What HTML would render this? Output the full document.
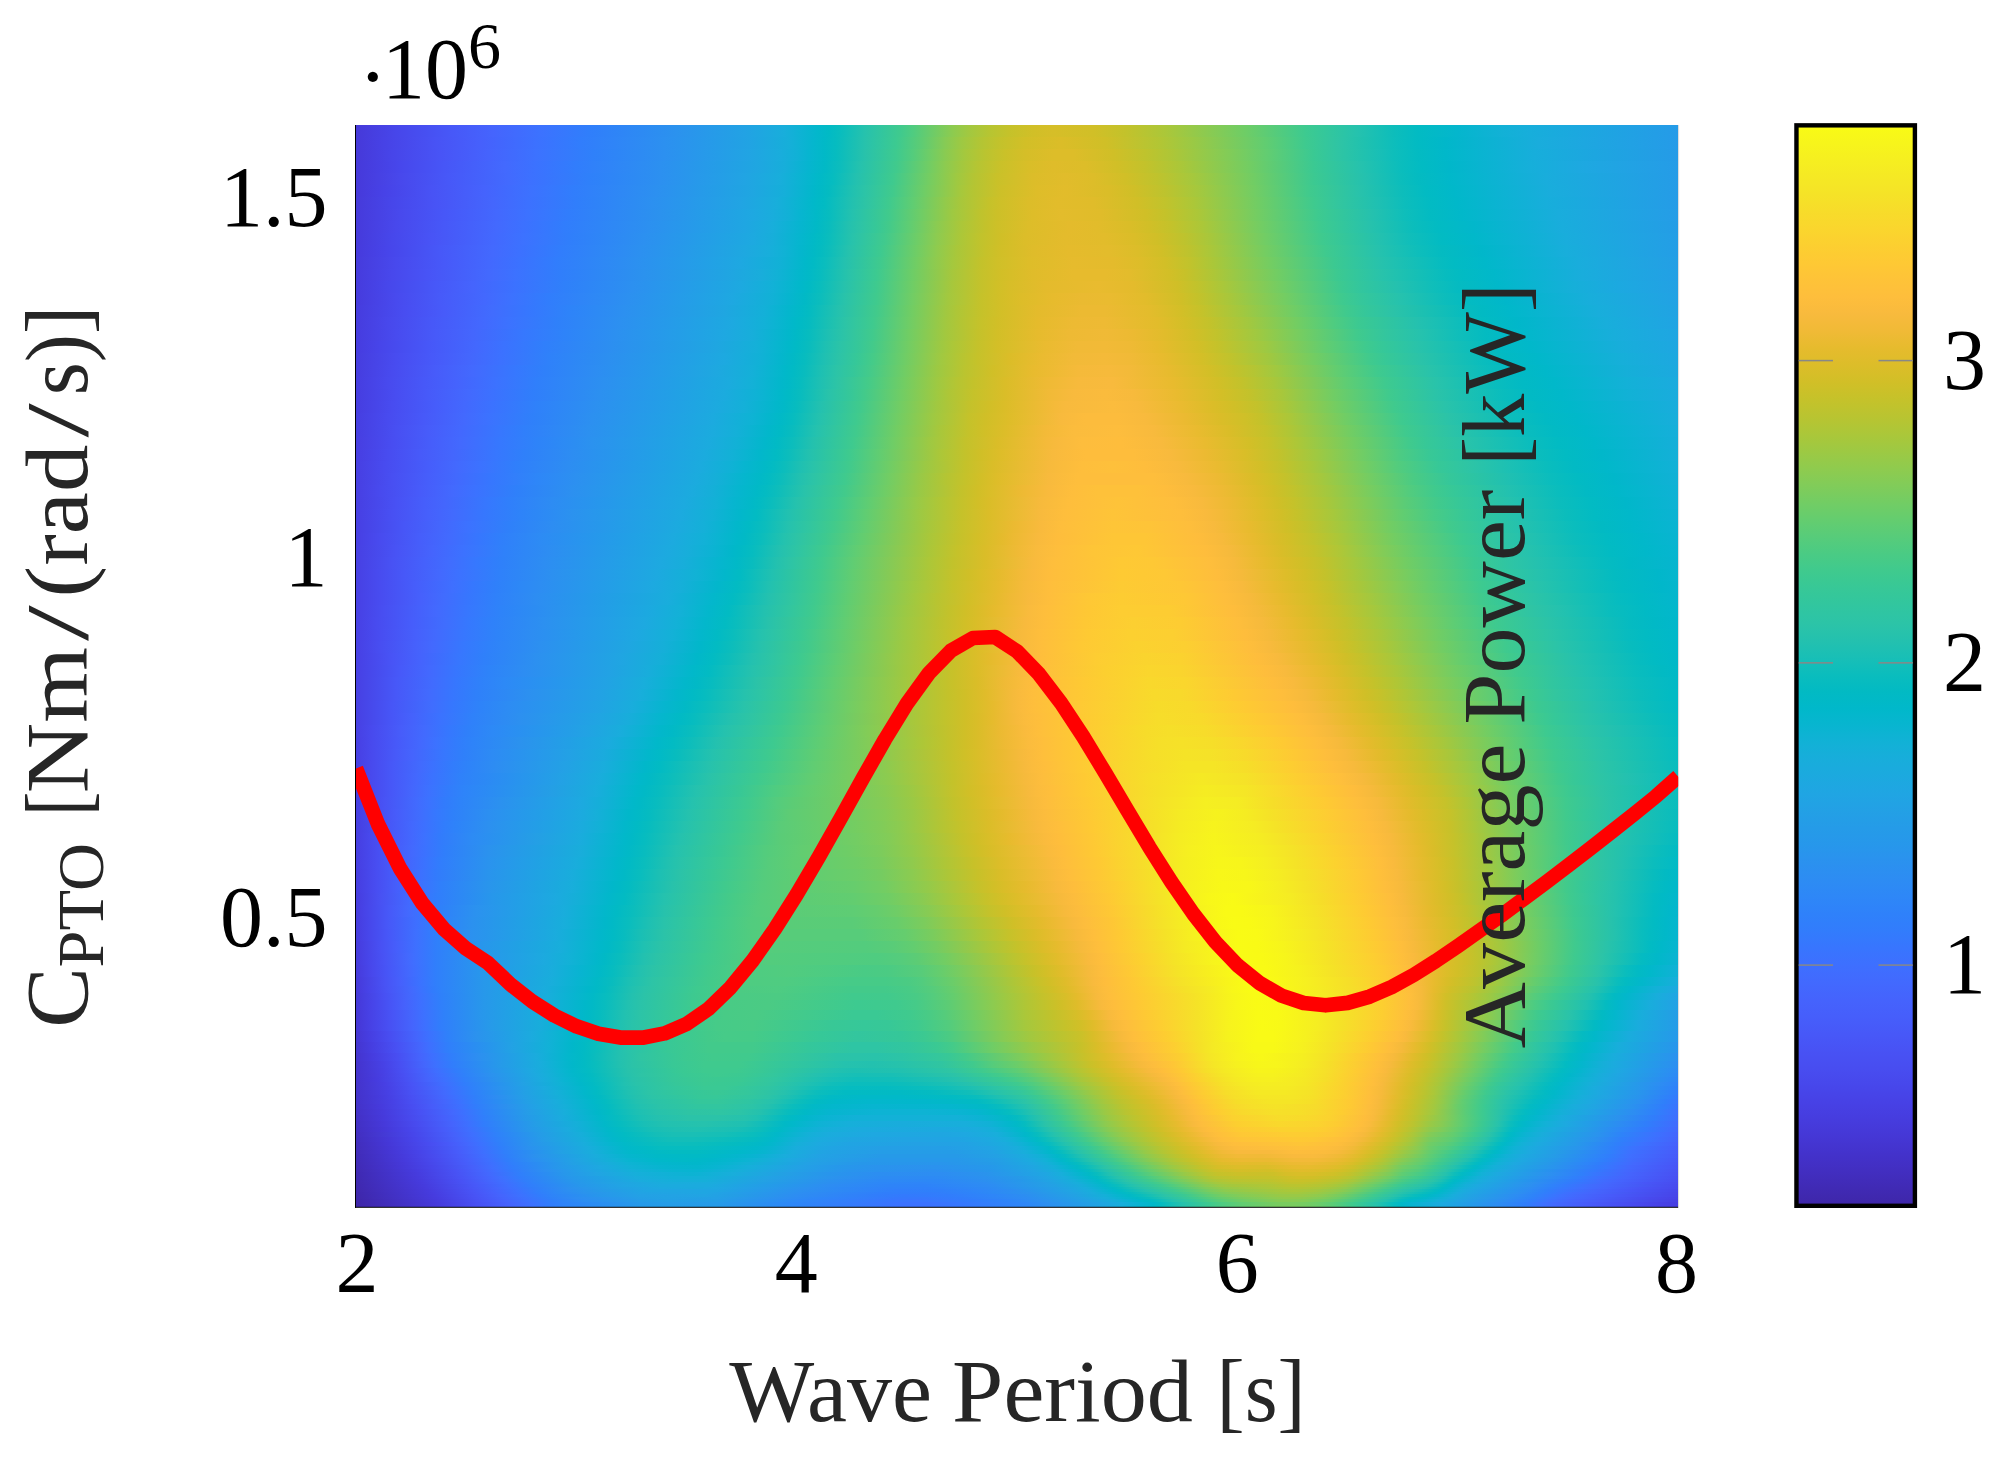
<!DOCTYPE html>
<html><head><meta charset="utf-8"><title>Average Power</title>
<style>html,body{margin:0;padding:0;background:#fff}svg{display:block}</style></head>
<body>
<svg width="2004" height="1460" viewBox="0 0 2004 1460">
<defs><linearGradient id="r0"><stop offset="0" stop-color="#4639d9"/><stop offset="0.0303" stop-color="#4746ea"/><stop offset="0.0727" stop-color="#4758f8"/><stop offset="0.103" stop-color="#4564fd"/><stop offset="0.1394" stop-color="#3c72ff"/><stop offset="0.1758" stop-color="#307efb"/><stop offset="0.2424" stop-color="#2b92ee"/><stop offset="0.2939" stop-color="#22a2e4"/><stop offset="0.3242" stop-color="#18aedb"/><stop offset="0.3485" stop-color="#03b7cc"/><stop offset="0.3576" stop-color="#01bac5"/><stop offset="0.3667" stop-color="#09bdbe"/><stop offset="0.3848" stop-color="#26c2ad"/><stop offset="0.4121" stop-color="#40ca8d"/><stop offset="0.4212" stop-color="#4fcc80"/><stop offset="0.4515" stop-color="#8dcb4f"/><stop offset="0.4636" stop-color="#a2c840"/><stop offset="0.4788" stop-color="#b6c532"/><stop offset="0.4939" stop-color="#c5c22a"/><stop offset="0.5121" stop-color="#d1bf27"/><stop offset="0.5273" stop-color="#d6be28"/><stop offset="0.5576" stop-color="#d1bf27"/><stop offset="0.5818" stop-color="#c3c22b"/><stop offset="0.6121" stop-color="#abc739"/><stop offset="0.6727" stop-color="#6ecd66"/><stop offset="0.7182" stop-color="#3dca90"/><stop offset="0.7576" stop-color="#25c2ae"/><stop offset="0.7848" stop-color="#0dbdbb"/><stop offset="0.803" stop-color="#02bbc3"/><stop offset="0.8333" stop-color="#04b6cd"/><stop offset="0.8667" stop-color="#12b1d6"/><stop offset="0.8879" stop-color="#17aedb"/><stop offset="1" stop-color="#259be8"/></linearGradient><linearGradient id="r1"><stop offset="0" stop-color="#4639d9"/><stop offset="0.0212" stop-color="#4742e6"/><stop offset="0.0606" stop-color="#4853f5"/><stop offset="0.0939" stop-color="#4660fc"/><stop offset="0.1364" stop-color="#3c71ff"/><stop offset="0.1697" stop-color="#317dfc"/><stop offset="0.2333" stop-color="#2c90f0"/><stop offset="0.297" stop-color="#21a3e3"/><stop offset="0.3273" stop-color="#16afd9"/><stop offset="0.3455" stop-color="#05b6ce"/><stop offset="0.3545" stop-color="#01b9c7"/><stop offset="0.3636" stop-color="#06bcc0"/><stop offset="0.3848" stop-color="#27c2ac"/><stop offset="0.4091" stop-color="#3dca90"/><stop offset="0.4273" stop-color="#5dcc74"/><stop offset="0.4455" stop-color="#86cb55"/><stop offset="0.4576" stop-color="#9dc943"/><stop offset="0.4727" stop-color="#b3c534"/><stop offset="0.4879" stop-color="#c4c22b"/><stop offset="0.5061" stop-color="#d2bf27"/><stop offset="0.5333" stop-color="#dbbd28"/><stop offset="0.5667" stop-color="#d0bf27"/><stop offset="0.6091" stop-color="#b1c635"/><stop offset="0.6333" stop-color="#9ac945"/><stop offset="0.6879" stop-color="#61cd71"/><stop offset="0.7182" stop-color="#3eca8f"/><stop offset="0.7455" stop-color="#2dc4a6"/><stop offset="0.7879" stop-color="#0bbdbd"/><stop offset="0.803" stop-color="#02bbc3"/><stop offset="0.8242" stop-color="#01b7ca"/><stop offset="0.8939" stop-color="#19addc"/><stop offset="1" stop-color="#259be8"/></linearGradient><linearGradient id="r2"><stop offset="0" stop-color="#4639d9"/><stop offset="0.0273" stop-color="#4745e9"/><stop offset="0.0636" stop-color="#4854f6"/><stop offset="0.1" stop-color="#4563fd"/><stop offset="0.1364" stop-color="#3c72ff"/><stop offset="0.1788" stop-color="#2f80fa"/><stop offset="0.2333" stop-color="#2c90f0"/><stop offset="0.297" stop-color="#21a4e3"/><stop offset="0.3212" stop-color="#19addc"/><stop offset="0.3333" stop-color="#11b1d6"/><stop offset="0.3424" stop-color="#07b5d0"/><stop offset="0.3545" stop-color="#01b9c7"/><stop offset="0.3636" stop-color="#07bcbf"/><stop offset="0.3848" stop-color="#28c2ab"/><stop offset="0.4091" stop-color="#3fca8e"/><stop offset="0.4212" stop-color="#54cc7c"/><stop offset="0.4333" stop-color="#6ecd67"/><stop offset="0.4455" stop-color="#89cb52"/><stop offset="0.4606" stop-color="#a5c83d"/><stop offset="0.4758" stop-color="#bac430"/><stop offset="0.4909" stop-color="#cac129"/><stop offset="0.5061" stop-color="#d5be28"/><stop offset="0.5273" stop-color="#ddbd29"/><stop offset="0.5424" stop-color="#ddbd29"/><stop offset="0.5727" stop-color="#d0bf27"/><stop offset="0.597" stop-color="#bfc32d"/><stop offset="0.6152" stop-color="#afc636"/><stop offset="0.6606" stop-color="#81cc58"/><stop offset="0.6909" stop-color="#60cd73"/><stop offset="0.7242" stop-color="#3ac993"/><stop offset="0.7424" stop-color="#2fc5a3"/><stop offset="0.7758" stop-color="#17bfb7"/><stop offset="0.7848" stop-color="#0ebebb"/><stop offset="0.803" stop-color="#03bbc2"/><stop offset="0.8242" stop-color="#01b8ca"/><stop offset="0.8909" stop-color="#17aedb"/><stop offset="1" stop-color="#259be7"/></linearGradient><linearGradient id="r3"><stop offset="0" stop-color="#4639da"/><stop offset="0.0333" stop-color="#4747ec"/><stop offset="0.0667" stop-color="#4756f7"/><stop offset="0.1121" stop-color="#4369fe"/><stop offset="0.1364" stop-color="#3b72ff"/><stop offset="0.1667" stop-color="#317dfc"/><stop offset="0.2303" stop-color="#2c90f0"/><stop offset="0.303" stop-color="#1fa6e1"/><stop offset="0.3242" stop-color="#17aeda"/><stop offset="0.3424" stop-color="#06b5cf"/><stop offset="0.3545" stop-color="#01b9c6"/><stop offset="0.3667" stop-color="#0dbdbc"/><stop offset="0.3818" stop-color="#26c2ad"/><stop offset="0.4091" stop-color="#41ca8c"/><stop offset="0.4333" stop-color="#71cd64"/><stop offset="0.4455" stop-color="#8ccb50"/><stop offset="0.4576" stop-color="#a2c83f"/><stop offset="0.4697" stop-color="#b5c533"/><stop offset="0.4879" stop-color="#cac129"/><stop offset="0.5091" stop-color="#d9be28"/><stop offset="0.5273" stop-color="#dfbc2a"/><stop offset="0.5515" stop-color="#ddbd29"/><stop offset="0.5758" stop-color="#d1bf27"/><stop offset="0.597" stop-color="#c3c22b"/><stop offset="0.6242" stop-color="#aac739"/><stop offset="0.6758" stop-color="#72cd63"/><stop offset="0.7242" stop-color="#3bc992"/><stop offset="0.7606" stop-color="#25c2ae"/><stop offset="0.7909" stop-color="#0abdbd"/><stop offset="0.8061" stop-color="#02bbc3"/><stop offset="0.8273" stop-color="#01b7ca"/><stop offset="0.8879" stop-color="#16afda"/><stop offset="0.9303" stop-color="#1ea8e1"/><stop offset="1" stop-color="#259ce7"/></linearGradient><linearGradient id="r4"><stop offset="0" stop-color="#4639da"/><stop offset="0.0333" stop-color="#4848ec"/><stop offset="0.0697" stop-color="#4758f8"/><stop offset="0.1152" stop-color="#426afe"/><stop offset="0.1333" stop-color="#3c71ff"/><stop offset="0.1758" stop-color="#2f80fa"/><stop offset="0.2303" stop-color="#2c90f0"/><stop offset="0.2939" stop-color="#21a4e3"/><stop offset="0.3212" stop-color="#18aedb"/><stop offset="0.3455" stop-color="#03b7cc"/><stop offset="0.3515" stop-color="#01b9c7"/><stop offset="0.3606" stop-color="#06bcc0"/><stop offset="0.3788" stop-color="#24c1af"/><stop offset="0.4061" stop-color="#3fca8e"/><stop offset="0.4333" stop-color="#74cd62"/><stop offset="0.4545" stop-color="#9fc941"/><stop offset="0.4667" stop-color="#b3c534"/><stop offset="0.4848" stop-color="#c9c129"/><stop offset="0.5121" stop-color="#dcbd29"/><stop offset="0.5364" stop-color="#e1bc2b"/><stop offset="0.5576" stop-color="#ddbd29"/><stop offset="0.5818" stop-color="#d1bf27"/><stop offset="0.6061" stop-color="#bfc32d"/><stop offset="0.6333" stop-color="#a5c83d"/><stop offset="0.6788" stop-color="#71cd64"/><stop offset="0.7242" stop-color="#3cc991"/><stop offset="0.7636" stop-color="#24c1af"/><stop offset="0.7909" stop-color="#0bbdbc"/><stop offset="0.803" stop-color="#04bbc1"/><stop offset="0.8273" stop-color="#01b8ca"/><stop offset="0.9" stop-color="#19addc"/><stop offset="1" stop-color="#259ce7"/></linearGradient><linearGradient id="r5"><stop offset="0" stop-color="#4639da"/><stop offset="0.0212" stop-color="#4742e7"/><stop offset="0.0576" stop-color="#4853f5"/><stop offset="0.097" stop-color="#4563fd"/><stop offset="0.1333" stop-color="#3c72ff"/><stop offset="0.1636" stop-color="#317dfc"/><stop offset="0.2273" stop-color="#2c90f0"/><stop offset="0.3" stop-color="#1fa6e1"/><stop offset="0.3242" stop-color="#15afd9"/><stop offset="0.3455" stop-color="#02b7cb"/><stop offset="0.3515" stop-color="#01b9c6"/><stop offset="0.3576" stop-color="#04bbc1"/><stop offset="0.3758" stop-color="#21c1b0"/><stop offset="0.3848" stop-color="#2cc4a7"/><stop offset="0.4061" stop-color="#41ca8c"/><stop offset="0.4303" stop-color="#70cd65"/><stop offset="0.4576" stop-color="#a6c83c"/><stop offset="0.4667" stop-color="#b4c533"/><stop offset="0.4879" stop-color="#cdc028"/><stop offset="0.5152" stop-color="#debd29"/><stop offset="0.5364" stop-color="#e2bc2b"/><stop offset="0.5697" stop-color="#dabd28"/><stop offset="0.5879" stop-color="#d0bf27"/><stop offset="0.6121" stop-color="#bdc32e"/><stop offset="0.6364" stop-color="#a5c83d"/><stop offset="0.6788" stop-color="#73cd63"/><stop offset="0.7212" stop-color="#40ca8d"/><stop offset="0.7606" stop-color="#27c2ac"/><stop offset="0.7909" stop-color="#0dbdbb"/><stop offset="0.8091" stop-color="#02bbc3"/><stop offset="0.8303" stop-color="#01b8ca"/><stop offset="0.903" stop-color="#19addc"/><stop offset="1" stop-color="#259ce7"/></linearGradient><linearGradient id="r6"><stop offset="0" stop-color="#463ada"/><stop offset="0.0273" stop-color="#4746ea"/><stop offset="0.0606" stop-color="#4854f6"/><stop offset="0.103" stop-color="#4466fd"/><stop offset="0.1303" stop-color="#3c71ff"/><stop offset="0.1667" stop-color="#307efb"/><stop offset="0.2242" stop-color="#2c90f0"/><stop offset="0.2909" stop-color="#21a4e3"/><stop offset="0.3182" stop-color="#18aedb"/><stop offset="0.3455" stop-color="#01b8ca"/><stop offset="0.3515" stop-color="#01bac5"/><stop offset="0.3545" stop-color="#02bbc3"/><stop offset="0.3758" stop-color="#23c1af"/><stop offset="0.3879" stop-color="#30c5a2"/><stop offset="0.403" stop-color="#3fca8e"/><stop offset="0.4212" stop-color="#60cd72"/><stop offset="0.4455" stop-color="#92ca4b"/><stop offset="0.4576" stop-color="#a8c73b"/><stop offset="0.4788" stop-color="#c5c22a"/><stop offset="0.4879" stop-color="#cec028"/><stop offset="0.5091" stop-color="#dcbd29"/><stop offset="0.5303" stop-color="#e2bc2b"/><stop offset="0.5576" stop-color="#e0bc2a"/><stop offset="0.5909" stop-color="#d1bf27"/><stop offset="0.6121" stop-color="#c1c32c"/><stop offset="0.6333" stop-color="#acc738"/><stop offset="0.6818" stop-color="#71cd64"/><stop offset="0.7242" stop-color="#3fca8e"/><stop offset="0.7424" stop-color="#33c69e"/><stop offset="0.7727" stop-color="#1fc0b2"/><stop offset="0.7939" stop-color="#0cbdbc"/><stop offset="0.8121" stop-color="#02bbc3"/><stop offset="0.8333" stop-color="#01b8ca"/><stop offset="0.9" stop-color="#17aedb"/><stop offset="1" stop-color="#259ce7"/></linearGradient><linearGradient id="r7"><stop offset="0" stop-color="#463adb"/><stop offset="0.0333" stop-color="#4849ed"/><stop offset="0.0667" stop-color="#4757f8"/><stop offset="0.1061" stop-color="#4368fe"/><stop offset="0.1303" stop-color="#3c72ff"/><stop offset="0.1606" stop-color="#317dfc"/><stop offset="0.2303" stop-color="#2b92ee"/><stop offset="0.3" stop-color="#1ea8e1"/><stop offset="0.3152" stop-color="#19addc"/><stop offset="0.3273" stop-color="#11b1d6"/><stop offset="0.3364" stop-color="#07b5d0"/><stop offset="0.3485" stop-color="#01b9c7"/><stop offset="0.3576" stop-color="#07bcbf"/><stop offset="0.3758" stop-color="#25c2ae"/><stop offset="0.403" stop-color="#41ca8c"/><stop offset="0.4273" stop-color="#6fcd66"/><stop offset="0.4515" stop-color="#9fc941"/><stop offset="0.4727" stop-color="#bfc32d"/><stop offset="0.4848" stop-color="#ccc028"/><stop offset="0.5121" stop-color="#debd29"/><stop offset="0.5333" stop-color="#e3bc2c"/><stop offset="0.5636" stop-color="#e0bc2a"/><stop offset="0.597" stop-color="#d0bf27"/><stop offset="0.6121" stop-color="#c4c22a"/><stop offset="0.6364" stop-color="#acc738"/><stop offset="0.6818" stop-color="#73cd63"/><stop offset="0.7273" stop-color="#3eca8f"/><stop offset="0.7697" stop-color="#24c1af"/><stop offset="0.7939" stop-color="#0ebebb"/><stop offset="0.8121" stop-color="#03bbc2"/><stop offset="0.8364" stop-color="#01b8ca"/><stop offset="0.9091" stop-color="#19addc"/><stop offset="1" stop-color="#259de7"/></linearGradient><linearGradient id="r8"><stop offset="0" stop-color="#463adb"/><stop offset="0.0303" stop-color="#4848ec"/><stop offset="0.0667" stop-color="#4758f8"/><stop offset="0.1061" stop-color="#4369fe"/><stop offset="0.1273" stop-color="#3c71ff"/><stop offset="0.1576" stop-color="#317dfc"/><stop offset="0.2212" stop-color="#2c90f0"/><stop offset="0.2939" stop-color="#1fa6e2"/><stop offset="0.3152" stop-color="#18aedb"/><stop offset="0.3364" stop-color="#06b5cf"/><stop offset="0.3485" stop-color="#01b9c6"/><stop offset="0.3576" stop-color="#09bcbe"/><stop offset="0.3727" stop-color="#23c1af"/><stop offset="0.3818" stop-color="#2dc4a6"/><stop offset="0.3939" stop-color="#37c897"/><stop offset="0.403" stop-color="#43ca8a"/><stop offset="0.4182" stop-color="#5fcd73"/><stop offset="0.4394" stop-color="#8bcb51"/><stop offset="0.4576" stop-color="#abc739"/><stop offset="0.4758" stop-color="#c3c22b"/><stop offset="0.4848" stop-color="#cdc028"/><stop offset="0.5091" stop-color="#ddbd29"/><stop offset="0.5394" stop-color="#e4bb2c"/><stop offset="0.5606" stop-color="#e2bc2b"/><stop offset="0.5848" stop-color="#dabd28"/><stop offset="0.6" stop-color="#d1bf27"/><stop offset="0.6152" stop-color="#c5c22a"/><stop offset="0.6394" stop-color="#acc738"/><stop offset="0.6848" stop-color="#72cd64"/><stop offset="0.7303" stop-color="#3dca90"/><stop offset="0.7667" stop-color="#27c2ac"/><stop offset="0.8" stop-color="#0bbdbc"/><stop offset="0.8182" stop-color="#02bbc3"/><stop offset="0.8455" stop-color="#02b7cb"/><stop offset="0.9121" stop-color="#19addc"/><stop offset="1" stop-color="#249de6"/></linearGradient><linearGradient id="r9"><stop offset="0" stop-color="#463adb"/><stop offset="0.0273" stop-color="#4747eb"/><stop offset="0.0576" stop-color="#4854f6"/><stop offset="0.103" stop-color="#4368fe"/><stop offset="0.1273" stop-color="#3c72ff"/><stop offset="0.1606" stop-color="#307efb"/><stop offset="0.2182" stop-color="#2c90f0"/><stop offset="0.3" stop-color="#1da9e0"/><stop offset="0.3152" stop-color="#17aeda"/><stop offset="0.3364" stop-color="#05b6ce"/><stop offset="0.3455" stop-color="#01b9c7"/><stop offset="0.3515" stop-color="#03bbc2"/><stop offset="0.3576" stop-color="#0abdbd"/><stop offset="0.3758" stop-color="#28c3ab"/><stop offset="0.4" stop-color="#41ca8d"/><stop offset="0.4242" stop-color="#6ecd67"/><stop offset="0.4394" stop-color="#8dcb50"/><stop offset="0.4576" stop-color="#acc738"/><stop offset="0.4727" stop-color="#c1c32c"/><stop offset="0.4879" stop-color="#d0bf27"/><stop offset="0.5061" stop-color="#dcbd29"/><stop offset="0.5364" stop-color="#e4bb2c"/><stop offset="0.5667" stop-color="#e2bc2b"/><stop offset="0.5879" stop-color="#dbbd28"/><stop offset="0.6061" stop-color="#d0bf27"/><stop offset="0.6273" stop-color="#bdc32e"/><stop offset="0.6455" stop-color="#a8c73b"/><stop offset="0.6879" stop-color="#71cd65"/><stop offset="0.7303" stop-color="#3fca8e"/><stop offset="0.7758" stop-color="#22c1b0"/><stop offset="0.797" stop-color="#10beba"/><stop offset="0.8212" stop-color="#02bbc3"/><stop offset="0.8455" stop-color="#01b8ca"/><stop offset="0.9152" stop-color="#19addc"/><stop offset="1" stop-color="#249ee6"/></linearGradient><linearGradient id="r10"><stop offset="0" stop-color="#463adc"/><stop offset="0.0242" stop-color="#4745ea"/><stop offset="0.0636" stop-color="#4758f8"/><stop offset="0.103" stop-color="#4369fe"/><stop offset="0.1242" stop-color="#3c71ff"/><stop offset="0.1545" stop-color="#317dfc"/><stop offset="0.2152" stop-color="#2c90f0"/><stop offset="0.2939" stop-color="#1ea8e0"/><stop offset="0.3121" stop-color="#18aedb"/><stop offset="0.3242" stop-color="#10b2d5"/><stop offset="0.3364" stop-color="#04b6cd"/><stop offset="0.3455" stop-color="#01b9c6"/><stop offset="0.3515" stop-color="#04bbc1"/><stop offset="0.3576" stop-color="#0cbdbc"/><stop offset="0.3727" stop-color="#26c2ad"/><stop offset="0.397" stop-color="#3eca8f"/><stop offset="0.4242" stop-color="#70cd65"/><stop offset="0.4394" stop-color="#8fcb4e"/><stop offset="0.4545" stop-color="#a9c73a"/><stop offset="0.4758" stop-color="#c5c22a"/><stop offset="0.4879" stop-color="#d1bf27"/><stop offset="0.5121" stop-color="#dfbc2a"/><stop offset="0.5394" stop-color="#e5bb2c"/><stop offset="0.5697" stop-color="#e3bc2c"/><stop offset="0.5909" stop-color="#dcbd29"/><stop offset="0.6091" stop-color="#d1bf27"/><stop offset="0.6303" stop-color="#bdc32e"/><stop offset="0.6455" stop-color="#abc739"/><stop offset="0.6879" stop-color="#74cd62"/><stop offset="0.7333" stop-color="#3fca8e"/><stop offset="0.7727" stop-color="#26c2ad"/><stop offset="0.803" stop-color="#0ebebb"/><stop offset="0.8212" stop-color="#04bbc1"/><stop offset="0.8515" stop-color="#01b7ca"/><stop offset="0.9152" stop-color="#18aedb"/><stop offset="1" stop-color="#249ee6"/></linearGradient><linearGradient id="r11"><stop offset="0" stop-color="#463bdc"/><stop offset="0.0303" stop-color="#4849ed"/><stop offset="0.0667" stop-color="#4759f9"/><stop offset="0.1" stop-color="#4368fe"/><stop offset="0.1242" stop-color="#3b72ff"/><stop offset="0.1515" stop-color="#317dfc"/><stop offset="0.2121" stop-color="#2c90f0"/><stop offset="0.2909" stop-color="#1ea8e1"/><stop offset="0.3212" stop-color="#11b1d6"/><stop offset="0.3394" stop-color="#01b8ca"/><stop offset="0.3455" stop-color="#01bac5"/><stop offset="0.3545" stop-color="#0abdbe"/><stop offset="0.3697" stop-color="#24c1af"/><stop offset="0.397" stop-color="#40ca8d"/><stop offset="0.4242" stop-color="#72cd63"/><stop offset="0.4364" stop-color="#8bcb51"/><stop offset="0.4515" stop-color="#a5c83d"/><stop offset="0.4727" stop-color="#c3c22b"/><stop offset="0.4848" stop-color="#cfc028"/><stop offset="0.5091" stop-color="#debd29"/><stop offset="0.5424" stop-color="#e6bb2d"/><stop offset="0.5727" stop-color="#e4bb2c"/><stop offset="0.5939" stop-color="#ddbd29"/><stop offset="0.6121" stop-color="#d2bf27"/><stop offset="0.6303" stop-color="#c1c32c"/><stop offset="0.6485" stop-color="#aac739"/><stop offset="0.6909" stop-color="#74cd62"/><stop offset="0.7394" stop-color="#3cc991"/><stop offset="0.7758" stop-color="#26c2ad"/><stop offset="0.8212" stop-color="#06bcc0"/><stop offset="0.8303" stop-color="#02bbc3"/><stop offset="0.8545" stop-color="#01b8ca"/><stop offset="0.9242" stop-color="#19addc"/><stop offset="1" stop-color="#249fe5"/></linearGradient><linearGradient id="r12"><stop offset="0" stop-color="#463bdd"/><stop offset="0.0273" stop-color="#4848ec"/><stop offset="0.0545" stop-color="#4854f6"/><stop offset="0.1" stop-color="#4369fe"/><stop offset="0.1212" stop-color="#3c72ff"/><stop offset="0.1545" stop-color="#307efb"/><stop offset="0.2182" stop-color="#2b92ee"/><stop offset="0.2848" stop-color="#1fa6e1"/><stop offset="0.3061" stop-color="#19addb"/><stop offset="0.3182" stop-color="#12b1d6"/><stop offset="0.3364" stop-color="#02b7cb"/><stop offset="0.3424" stop-color="#01b9c7"/><stop offset="0.3515" stop-color="#08bcbf"/><stop offset="0.3727" stop-color="#29c3aa"/><stop offset="0.3939" stop-color="#3dca90"/><stop offset="0.4212" stop-color="#6ecd66"/><stop offset="0.4515" stop-color="#a7c73c"/><stop offset="0.4727" stop-color="#c4c22b"/><stop offset="0.4879" stop-color="#d2bf27"/><stop offset="0.5121" stop-color="#e0bc2a"/><stop offset="0.5424" stop-color="#e7bb2d"/><stop offset="0.5667" stop-color="#e7bb2d"/><stop offset="0.5848" stop-color="#e3bc2c"/><stop offset="0.6152" stop-color="#d2bf27"/><stop offset="0.6273" stop-color="#c7c129"/><stop offset="0.6485" stop-color="#aec637"/><stop offset="0.697" stop-color="#71cd64"/><stop offset="0.7424" stop-color="#3cc991"/><stop offset="0.7758" stop-color="#28c3ab"/><stop offset="0.8242" stop-color="#07bcbf"/><stop offset="0.8364" stop-color="#02bbc3"/><stop offset="0.8606" stop-color="#01b8ca"/><stop offset="0.9273" stop-color="#19addc"/><stop offset="1" stop-color="#23a0e5"/></linearGradient><linearGradient id="r13"><stop offset="0" stop-color="#463bdd"/><stop offset="0.0242" stop-color="#4747eb"/><stop offset="0.0606" stop-color="#4758f8"/><stop offset="0.0879" stop-color="#4564fd"/><stop offset="0.1212" stop-color="#3b72ff"/><stop offset="0.1576" stop-color="#2f80fa"/><stop offset="0.2091" stop-color="#2c90f0"/><stop offset="0.2909" stop-color="#1da9e0"/><stop offset="0.3152" stop-color="#12b1d7"/><stop offset="0.3364" stop-color="#01b8ca"/><stop offset="0.3424" stop-color="#01bac5"/><stop offset="0.3515" stop-color="#0abdbd"/><stop offset="0.3697" stop-color="#27c2ac"/><stop offset="0.3939" stop-color="#3fca8e"/><stop offset="0.4212" stop-color="#70cd65"/><stop offset="0.4515" stop-color="#a8c73b"/><stop offset="0.4727" stop-color="#c4c22b"/><stop offset="0.4848" stop-color="#d0c027"/><stop offset="0.4939" stop-color="#d7be28"/><stop offset="0.5212" stop-color="#e4bb2c"/><stop offset="0.5606" stop-color="#e9bb2f"/><stop offset="0.5879" stop-color="#e4bb2c"/><stop offset="0.6212" stop-color="#d0bf27"/><stop offset="0.6364" stop-color="#c1c32c"/><stop offset="0.6545" stop-color="#abc739"/><stop offset="0.7" stop-color="#72cd64"/><stop offset="0.7455" stop-color="#3cc991"/><stop offset="0.7606" stop-color="#32c69e"/><stop offset="0.7879" stop-color="#24c1af"/><stop offset="0.8152" stop-color="#0fbeba"/><stop offset="0.8333" stop-color="#05bbc1"/><stop offset="0.8636" stop-color="#01b8ca"/><stop offset="0.9212" stop-color="#16afd9"/><stop offset="0.9545" stop-color="#1ca9e0"/><stop offset="1" stop-color="#23a1e4"/></linearGradient><linearGradient id="r14"><stop offset="0" stop-color="#463bdd"/><stop offset="0.0303" stop-color="#484aee"/><stop offset="0.0636" stop-color="#475af9"/><stop offset="0.097" stop-color="#4368fe"/><stop offset="0.1182" stop-color="#3c72ff"/><stop offset="0.1455" stop-color="#317dfc"/><stop offset="0.2061" stop-color="#2c90f0"/><stop offset="0.2848" stop-color="#1ea8e1"/><stop offset="0.3152" stop-color="#11b1d6"/><stop offset="0.3273" stop-color="#06b5cf"/><stop offset="0.3394" stop-color="#01b9c6"/><stop offset="0.3515" stop-color="#0cbdbc"/><stop offset="0.3697" stop-color="#29c3aa"/><stop offset="0.3939" stop-color="#40ca8d"/><stop offset="0.4212" stop-color="#72cd64"/><stop offset="0.4485" stop-color="#a4c83e"/><stop offset="0.4727" stop-color="#c5c22a"/><stop offset="0.4879" stop-color="#d3bf27"/><stop offset="0.503" stop-color="#ddbd29"/><stop offset="0.5273" stop-color="#e7bb2d"/><stop offset="0.5485" stop-color="#eaba31"/><stop offset="0.5697" stop-color="#eabb30"/><stop offset="0.597" stop-color="#e2bc2b"/><stop offset="0.6242" stop-color="#d0bf27"/><stop offset="0.6364" stop-color="#c4c22a"/><stop offset="0.6606" stop-color="#a8c73b"/><stop offset="0.703" stop-color="#73cd63"/><stop offset="0.7455" stop-color="#3fca8e"/><stop offset="0.7606" stop-color="#35c79b"/><stop offset="0.7909" stop-color="#25c2ae"/><stop offset="0.8242" stop-color="#0cbdbc"/><stop offset="0.8424" stop-color="#03bbc2"/><stop offset="0.8697" stop-color="#01b7ca"/><stop offset="0.9333" stop-color="#18aedb"/><stop offset="1" stop-color="#22a2e4"/></linearGradient><linearGradient id="r15"><stop offset="0" stop-color="#463cde"/><stop offset="0.0364" stop-color="#484df1"/><stop offset="0.0667" stop-color="#475bfa"/><stop offset="0.103" stop-color="#416cfe"/><stop offset="0.1303" stop-color="#3677fe"/><stop offset="0.1606" stop-color="#2e83f9"/><stop offset="0.203" stop-color="#2c90f0"/><stop offset="0.2788" stop-color="#1fa6e1"/><stop offset="0.3091" stop-color="#13b0d8"/><stop offset="0.3273" stop-color="#04b6cd"/><stop offset="0.3364" stop-color="#01b9c7"/><stop offset="0.3424" stop-color="#03bbc2"/><stop offset="0.3667" stop-color="#27c2ac"/><stop offset="0.3939" stop-color="#42ca8b"/><stop offset="0.4212" stop-color="#73cd62"/><stop offset="0.4455" stop-color="#a0c841"/><stop offset="0.4545" stop-color="#aec637"/><stop offset="0.4727" stop-color="#c5c22a"/><stop offset="0.4879" stop-color="#d3bf27"/><stop offset="0.5152" stop-color="#e4bb2c"/><stop offset="0.5485" stop-color="#ecba32"/><stop offset="0.5667" stop-color="#ecba32"/><stop offset="0.6" stop-color="#e3bc2c"/><stop offset="0.6242" stop-color="#d3bf27"/><stop offset="0.6394" stop-color="#c5c22a"/><stop offset="0.6697" stop-color="#a2c83f"/><stop offset="0.7091" stop-color="#70cd65"/><stop offset="0.7485" stop-color="#40ca8d"/><stop offset="0.7636" stop-color="#35c79a"/><stop offset="0.7848" stop-color="#2bc3a8"/><stop offset="0.8364" stop-color="#08bcbe"/><stop offset="0.8515" stop-color="#02bac3"/><stop offset="0.8727" stop-color="#01b8ca"/><stop offset="0.9394" stop-color="#18aedb"/><stop offset="1" stop-color="#21a3e3"/></linearGradient><linearGradient id="r16"><stop offset="0" stop-color="#463cde"/><stop offset="0.0242" stop-color="#4848ec"/><stop offset="0.0576" stop-color="#4758f8"/><stop offset="0.0939" stop-color="#4368fe"/><stop offset="0.1152" stop-color="#3c72ff"/><stop offset="0.1515" stop-color="#2f80fa"/><stop offset="0.2" stop-color="#2c90f0"/><stop offset="0.2848" stop-color="#1da9e0"/><stop offset="0.3091" stop-color="#12b1d7"/><stop offset="0.3303" stop-color="#01b8ca"/><stop offset="0.3364" stop-color="#01bac5"/><stop offset="0.3424" stop-color="#05bbc1"/><stop offset="0.3697" stop-color="#2cc4a7"/><stop offset="0.3909" stop-color="#3fca8e"/><stop offset="0.4182" stop-color="#6fcd66"/><stop offset="0.4455" stop-color="#a1c840"/><stop offset="0.4576" stop-color="#b3c534"/><stop offset="0.4727" stop-color="#c6c22a"/><stop offset="0.4848" stop-color="#d1bf27"/><stop offset="0.5152" stop-color="#e5bb2c"/><stop offset="0.5424" stop-color="#edba33"/><stop offset="0.5667" stop-color="#eeba34"/><stop offset="0.6061" stop-color="#e2bc2b"/><stop offset="0.6273" stop-color="#d3bf27"/><stop offset="0.6455" stop-color="#c3c22b"/><stop offset="0.6758" stop-color="#a1c840"/><stop offset="0.7121" stop-color="#72cd63"/><stop offset="0.7394" stop-color="#4fcc80"/><stop offset="0.7576" stop-color="#3cc991"/><stop offset="0.803" stop-color="#24c1af"/><stop offset="0.8455" stop-color="#06bcc0"/><stop offset="0.8545" stop-color="#02bbc3"/><stop offset="0.8788" stop-color="#01b7ca"/><stop offset="0.9455" stop-color="#18aedb"/><stop offset="1" stop-color="#20a4e3"/></linearGradient><linearGradient id="r17"><stop offset="0" stop-color="#463cdf"/><stop offset="0.0303" stop-color="#484bef"/><stop offset="0.0606" stop-color="#475af9"/><stop offset="0.0879" stop-color="#4466fd"/><stop offset="0.1273" stop-color="#3678fe"/><stop offset="0.1576" stop-color="#2e83f9"/><stop offset="0.197" stop-color="#2c90f0"/><stop offset="0.2788" stop-color="#1ea8e1"/><stop offset="0.3" stop-color="#17aeda"/><stop offset="0.3273" stop-color="#02b7cb"/><stop offset="0.3333" stop-color="#01b9c6"/><stop offset="0.3424" stop-color="#07bcbf"/><stop offset="0.3576" stop-color="#1fc0b2"/><stop offset="0.3697" stop-color="#2dc4a6"/><stop offset="0.3909" stop-color="#41ca8c"/><stop offset="0.4182" stop-color="#71cd64"/><stop offset="0.4455" stop-color="#a2c83f"/><stop offset="0.4697" stop-color="#c3c22b"/><stop offset="0.4848" stop-color="#d2bf27"/><stop offset="0.5152" stop-color="#e6bb2d"/><stop offset="0.5394" stop-color="#eeba34"/><stop offset="0.5667" stop-color="#f0ba36"/><stop offset="0.5879" stop-color="#ecba32"/><stop offset="0.6121" stop-color="#e1bc2b"/><stop offset="0.6333" stop-color="#d2bf27"/><stop offset="0.6515" stop-color="#c1c32c"/><stop offset="0.6818" stop-color="#9fc941"/><stop offset="0.7152" stop-color="#74cd62"/><stop offset="0.7576" stop-color="#40ca8d"/><stop offset="0.7788" stop-color="#33c69e"/><stop offset="0.8061" stop-color="#25c2ae"/><stop offset="0.8333" stop-color="#10beba"/><stop offset="0.8545" stop-color="#04bbc1"/><stop offset="0.8818" stop-color="#01b8ca"/><stop offset="0.9515" stop-color="#18aedb"/><stop offset="1" stop-color="#1fa6e2"/></linearGradient><linearGradient id="r18"><stop offset="0" stop-color="#463cdf"/><stop offset="0.0182" stop-color="#4745ea"/><stop offset="0.0545" stop-color="#4757f8"/><stop offset="0.0909" stop-color="#4368fe"/><stop offset="0.1121" stop-color="#3b72ff"/><stop offset="0.1424" stop-color="#307ffb"/><stop offset="0.1939" stop-color="#2c8ff0"/><stop offset="0.2727" stop-color="#1fa6e1"/><stop offset="0.303" stop-color="#14b0d8"/><stop offset="0.3273" stop-color="#01b8ca"/><stop offset="0.3333" stop-color="#01bac5"/><stop offset="0.3424" stop-color="#09bcbe"/><stop offset="0.3545" stop-color="#1dc0b3"/><stop offset="0.3667" stop-color="#2cc4a7"/><stop offset="0.3788" stop-color="#35c79a"/><stop offset="0.3909" stop-color="#43ca8a"/><stop offset="0.4182" stop-color="#73cd63"/><stop offset="0.4424" stop-color="#9ec942"/><stop offset="0.4515" stop-color="#acc738"/><stop offset="0.4697" stop-color="#c4c22b"/><stop offset="0.4848" stop-color="#d3bf27"/><stop offset="0.5212" stop-color="#eabb30"/><stop offset="0.5455" stop-color="#f1ba37"/><stop offset="0.5667" stop-color="#f2ba37"/><stop offset="0.5848" stop-color="#efba35"/><stop offset="0.6061" stop-color="#e7bb2d"/><stop offset="0.6364" stop-color="#d3bf27"/><stop offset="0.6515" stop-color="#c5c22a"/><stop offset="0.6879" stop-color="#9ec942"/><stop offset="0.7333" stop-color="#61cd71"/><stop offset="0.7636" stop-color="#3fca8e"/><stop offset="0.7758" stop-color="#36c898"/><stop offset="0.803" stop-color="#29c3aa"/><stop offset="0.8545" stop-color="#06bcc0"/><stop offset="0.8636" stop-color="#02bbc3"/><stop offset="0.8879" stop-color="#01b8ca"/><stop offset="0.9545" stop-color="#17aeda"/><stop offset="1" stop-color="#1ea7e1"/></linearGradient><linearGradient id="r19"><stop offset="0" stop-color="#463ddf"/><stop offset="0.0303" stop-color="#484cf0"/><stop offset="0.0576" stop-color="#4759f9"/><stop offset="0.0848" stop-color="#4466fd"/><stop offset="0.1091" stop-color="#3c71ff"/><stop offset="0.1455" stop-color="#2f81fa"/><stop offset="0.1909" stop-color="#2c8ff0"/><stop offset="0.2788" stop-color="#1da9e0"/><stop offset="0.3061" stop-color="#11b1d6"/><stop offset="0.3212" stop-color="#04b6cd"/><stop offset="0.3303" stop-color="#01b9c6"/><stop offset="0.3394" stop-color="#07bcbf"/><stop offset="0.3545" stop-color="#1fc0b2"/><stop offset="0.3667" stop-color="#2dc4a6"/><stop offset="0.3788" stop-color="#36c898"/><stop offset="0.3909" stop-color="#45cb88"/><stop offset="0.4152" stop-color="#6fcd66"/><stop offset="0.4424" stop-color="#a0c941"/><stop offset="0.4576" stop-color="#b6c532"/><stop offset="0.4697" stop-color="#c5c22a"/><stop offset="0.4939" stop-color="#dbbd28"/><stop offset="0.5182" stop-color="#eabb30"/><stop offset="0.5424" stop-color="#f2ba38"/><stop offset="0.5667" stop-color="#f4ba39"/><stop offset="0.5848" stop-color="#f1ba37"/><stop offset="0.6091" stop-color="#e8bb2e"/><stop offset="0.6394" stop-color="#d4bf27"/><stop offset="0.6606" stop-color="#c1c32c"/><stop offset="0.6909" stop-color="#a0c840"/><stop offset="0.7242" stop-color="#73cd62"/><stop offset="0.7667" stop-color="#40ca8d"/><stop offset="0.7788" stop-color="#37c897"/><stop offset="0.8061" stop-color="#2ac3a9"/><stop offset="0.8515" stop-color="#0abdbd"/><stop offset="0.8697" stop-color="#02bac3"/><stop offset="0.8939" stop-color="#01b8ca"/><stop offset="0.9576" stop-color="#16afd9"/><stop offset="1" stop-color="#1da8e0"/></linearGradient><linearGradient id="r20"><stop offset="0" stop-color="#463ddf"/><stop offset="0.0273" stop-color="#484bef"/><stop offset="0.0606" stop-color="#475cfa"/><stop offset="0.0879" stop-color="#4369fe"/><stop offset="0.1212" stop-color="#3678fe"/><stop offset="0.1424" stop-color="#2f80fa"/><stop offset="0.1818" stop-color="#2d8df2"/><stop offset="0.2727" stop-color="#1ea8e0"/><stop offset="0.3" stop-color="#14b0d8"/><stop offset="0.3242" stop-color="#01b8ca"/><stop offset="0.3303" stop-color="#01bac5"/><stop offset="0.3394" stop-color="#09bcbe"/><stop offset="0.3515" stop-color="#1dc0b3"/><stop offset="0.3636" stop-color="#2cc4a7"/><stop offset="0.3758" stop-color="#35c79a"/><stop offset="0.3879" stop-color="#43ca8b"/><stop offset="0.4152" stop-color="#71cd64"/><stop offset="0.4394" stop-color="#9cc943"/><stop offset="0.4606" stop-color="#bbc42f"/><stop offset="0.4818" stop-color="#d1bf27"/><stop offset="0.5121" stop-color="#e8bb2e"/><stop offset="0.5455" stop-color="#f5ba3a"/><stop offset="0.5697" stop-color="#f6ba3b"/><stop offset="0.5848" stop-color="#f3ba39"/><stop offset="0.6152" stop-color="#e7bb2e"/><stop offset="0.6455" stop-color="#d3bf27"/><stop offset="0.6636" stop-color="#c3c22b"/><stop offset="0.6788" stop-color="#b5c533"/><stop offset="0.697" stop-color="#9fc941"/><stop offset="0.7424" stop-color="#61cd71"/><stop offset="0.7727" stop-color="#3fca8e"/><stop offset="0.8121" stop-color="#29c3aa"/><stop offset="0.8545" stop-color="#0bbdbd"/><stop offset="0.8758" stop-color="#02bac3"/><stop offset="0.9" stop-color="#01b8ca"/><stop offset="0.9606" stop-color="#15afd8"/><stop offset="1" stop-color="#1ca9df"/></linearGradient><linearGradient id="r21"><stop offset="0" stop-color="#463de0"/><stop offset="0.0242" stop-color="#484aee"/><stop offset="0.0515" stop-color="#4758f8"/><stop offset="0.0758" stop-color="#4563fd"/><stop offset="0.1061" stop-color="#3c72ff"/><stop offset="0.1364" stop-color="#307ffb"/><stop offset="0.1879" stop-color="#2c90f0"/><stop offset="0.2818" stop-color="#1babde"/><stop offset="0.3" stop-color="#13b1d7"/><stop offset="0.3212" stop-color="#02b7cb"/><stop offset="0.3273" stop-color="#01b9c7"/><stop offset="0.3364" stop-color="#07bcbf"/><stop offset="0.3515" stop-color="#1fc0b2"/><stop offset="0.3636" stop-color="#2dc4a6"/><stop offset="0.3879" stop-color="#45cb88"/><stop offset="0.4152" stop-color="#73cd62"/><stop offset="0.4394" stop-color="#9ec942"/><stop offset="0.4545" stop-color="#b5c533"/><stop offset="0.4667" stop-color="#c3c22b"/><stop offset="0.4909" stop-color="#dabd28"/><stop offset="0.5212" stop-color="#eeba34"/><stop offset="0.5455" stop-color="#f7ba3c"/><stop offset="0.5727" stop-color="#f8ba3d"/><stop offset="0.6182" stop-color="#e8bb2e"/><stop offset="0.6515" stop-color="#d2bf27"/><stop offset="0.6697" stop-color="#c3c22b"/><stop offset="0.6939" stop-color="#a9c73a"/><stop offset="0.7485" stop-color="#5fcd73"/><stop offset="0.7788" stop-color="#3eca8f"/><stop offset="0.8182" stop-color="#28c3ab"/><stop offset="0.8606" stop-color="#0abdbd"/><stop offset="0.8818" stop-color="#02bac4"/><stop offset="0.9061" stop-color="#01b8ca"/><stop offset="0.9606" stop-color="#13b1d7"/><stop offset="1" stop-color="#1babde"/></linearGradient><linearGradient id="r22"><stop offset="0" stop-color="#463de0"/><stop offset="0.0303" stop-color="#484df1"/><stop offset="0.0545" stop-color="#475af9"/><stop offset="0.0848" stop-color="#4369fe"/><stop offset="0.103" stop-color="#3c71ff"/><stop offset="0.1333" stop-color="#307efb"/><stop offset="0.1848" stop-color="#2c90f0"/><stop offset="0.2788" stop-color="#1babde"/><stop offset="0.303" stop-color="#0fb2d5"/><stop offset="0.3212" stop-color="#01b8ca"/><stop offset="0.3273" stop-color="#01bac5"/><stop offset="0.3364" stop-color="#09bcbe"/><stop offset="0.3576" stop-color="#29c3aa"/><stop offset="0.3727" stop-color="#35c79a"/><stop offset="0.3848" stop-color="#43ca8a"/><stop offset="0.4121" stop-color="#70cd65"/><stop offset="0.4394" stop-color="#9fc941"/><stop offset="0.4485" stop-color="#aec637"/><stop offset="0.4667" stop-color="#c5c22a"/><stop offset="0.4909" stop-color="#dabd28"/><stop offset="0.5242" stop-color="#f1ba37"/><stop offset="0.5424" stop-color="#f8ba3d"/><stop offset="0.5667" stop-color="#fabb3d"/><stop offset="0.5879" stop-color="#f7ba3c"/><stop offset="0.6212" stop-color="#e9bb2f"/><stop offset="0.6545" stop-color="#d3bf27"/><stop offset="0.6758" stop-color="#c3c22b"/><stop offset="0.7" stop-color="#a8c73b"/><stop offset="0.7394" stop-color="#70cd65"/><stop offset="0.7818" stop-color="#3fca8e"/><stop offset="0.8182" stop-color="#2ac3a9"/><stop offset="0.8667" stop-color="#0abdbd"/><stop offset="0.8879" stop-color="#02bac4"/><stop offset="0.9121" stop-color="#01b8ca"/><stop offset="0.9636" stop-color="#12b1d6"/><stop offset="1" stop-color="#1aacdd"/></linearGradient><linearGradient id="r23"><stop offset="0" stop-color="#463de0"/><stop offset="0.0273" stop-color="#484cf0"/><stop offset="0.0606" stop-color="#465dfb"/><stop offset="0.0818" stop-color="#4368fe"/><stop offset="0.103" stop-color="#3b72ff"/><stop offset="0.1364" stop-color="#2f81fa"/><stop offset="0.1818" stop-color="#2c90f0"/><stop offset="0.2727" stop-color="#1caadf"/><stop offset="0.2939" stop-color="#14b0d8"/><stop offset="0.3182" stop-color="#02b7cb"/><stop offset="0.3242" stop-color="#01b9c7"/><stop offset="0.3333" stop-color="#07bcbf"/><stop offset="0.3515" stop-color="#24c1af"/><stop offset="0.3818" stop-color="#41ca8c"/><stop offset="0.4121" stop-color="#73cd63"/><stop offset="0.4394" stop-color="#a1c840"/><stop offset="0.4636" stop-color="#c3c22b"/><stop offset="0.4788" stop-color="#d1bf27"/><stop offset="0.4909" stop-color="#dbbd28"/><stop offset="0.5273" stop-color="#f4ba39"/><stop offset="0.5364" stop-color="#f8ba3d"/><stop offset="0.5727" stop-color="#fbbc3d"/><stop offset="0.5909" stop-color="#f8ba3d"/><stop offset="0.6242" stop-color="#eabb30"/><stop offset="0.6485" stop-color="#dbbd28"/><stop offset="0.6636" stop-color="#d1bf27"/><stop offset="0.6818" stop-color="#c3c22b"/><stop offset="0.703" stop-color="#a9c73a"/><stop offset="0.7424" stop-color="#72cd63"/><stop offset="0.7848" stop-color="#40ca8d"/><stop offset="0.8242" stop-color="#29c3aa"/><stop offset="0.8697" stop-color="#0bbdbc"/><stop offset="0.8939" stop-color="#02bac4"/><stop offset="0.9182" stop-color="#01b8ca"/><stop offset="1" stop-color="#19addc"/></linearGradient><linearGradient id="r24"><stop offset="0" stop-color="#463ee1"/><stop offset="0.0242" stop-color="#484bef"/><stop offset="0.0515" stop-color="#4759f9"/><stop offset="0.0818" stop-color="#4369fe"/><stop offset="0.1" stop-color="#3c72ff"/><stop offset="0.1333" stop-color="#2f80fa"/><stop offset="0.1788" stop-color="#2c90f0"/><stop offset="0.2697" stop-color="#1caadf"/><stop offset="0.3" stop-color="#0eb3d4"/><stop offset="0.3121" stop-color="#04b6cd"/><stop offset="0.3212" stop-color="#01b9c7"/><stop offset="0.3303" stop-color="#06bcc0"/><stop offset="0.3515" stop-color="#26c2ad"/><stop offset="0.3788" stop-color="#3fca8e"/><stop offset="0.4091" stop-color="#70cd65"/><stop offset="0.4364" stop-color="#9ec942"/><stop offset="0.4636" stop-color="#c5c22a"/><stop offset="0.4758" stop-color="#d0bf27"/><stop offset="0.4939" stop-color="#debd29"/><stop offset="0.5333" stop-color="#f8ba3d"/><stop offset="0.5515" stop-color="#fcbc3d"/><stop offset="0.5758" stop-color="#fcbc3d"/><stop offset="0.597" stop-color="#f8ba3d"/><stop offset="0.6273" stop-color="#ebba31"/><stop offset="0.6545" stop-color="#dabd28"/><stop offset="0.6727" stop-color="#cfc028"/><stop offset="0.6848" stop-color="#c4c22a"/><stop offset="0.7061" stop-color="#abc739"/><stop offset="0.7485" stop-color="#70cd65"/><stop offset="0.7909" stop-color="#3eca8f"/><stop offset="0.8273" stop-color="#2ac3a9"/><stop offset="0.8758" stop-color="#0bbdbc"/><stop offset="0.9" stop-color="#02bac4"/><stop offset="0.9242" stop-color="#01b8ca"/><stop offset="1" stop-color="#18aedb"/></linearGradient><linearGradient id="r25"><stop offset="0" stop-color="#463ee1"/><stop offset="0.0303" stop-color="#484ff2"/><stop offset="0.0545" stop-color="#475cfa"/><stop offset="0.0788" stop-color="#4368fe"/><stop offset="0.1091" stop-color="#3777fe"/><stop offset="0.1273" stop-color="#307ffb"/><stop offset="0.1758" stop-color="#2c90f0"/><stop offset="0.2697" stop-color="#1babde"/><stop offset="0.2879" stop-color="#14b0d8"/><stop offset="0.3121" stop-color="#02b7cb"/><stop offset="0.3212" stop-color="#01bac5"/><stop offset="0.3303" stop-color="#09bcbe"/><stop offset="0.3485" stop-color="#25c2ae"/><stop offset="0.3788" stop-color="#41ca8c"/><stop offset="0.4091" stop-color="#72cd63"/><stop offset="0.4424" stop-color="#a9c73a"/><stop offset="0.4636" stop-color="#c5c22a"/><stop offset="0.4758" stop-color="#d1bf27"/><stop offset="0.4909" stop-color="#ddbd29"/><stop offset="0.5212" stop-color="#f3ba38"/><stop offset="0.5424" stop-color="#fbbc3d"/><stop offset="0.5758" stop-color="#fdbd3d"/><stop offset="0.603" stop-color="#f8ba3d"/><stop offset="0.6364" stop-color="#e9bb2f"/><stop offset="0.6606" stop-color="#dabd28"/><stop offset="0.6879" stop-color="#c5c22a"/><stop offset="0.7061" stop-color="#afc636"/><stop offset="0.7515" stop-color="#72cd63"/><stop offset="0.7939" stop-color="#3fca8e"/><stop offset="0.8303" stop-color="#2bc3a8"/><stop offset="0.8818" stop-color="#0bbdbd"/><stop offset="0.9061" stop-color="#02bac4"/><stop offset="0.9303" stop-color="#01b8ca"/><stop offset="1" stop-color="#16afda"/></linearGradient><linearGradient id="r26"><stop offset="0" stop-color="#473ee1"/><stop offset="0.0273" stop-color="#484df1"/><stop offset="0.0576" stop-color="#465efb"/><stop offset="0.0788" stop-color="#4369fe"/><stop offset="0.1091" stop-color="#3678fe"/><stop offset="0.1364" stop-color="#2e83f9"/><stop offset="0.1788" stop-color="#2b92ef"/><stop offset="0.2667" stop-color="#1babde"/><stop offset="0.2879" stop-color="#12b1d6"/><stop offset="0.3091" stop-color="#02b7cb"/><stop offset="0.3182" stop-color="#01bac5"/><stop offset="0.3303" stop-color="#0cbdbc"/><stop offset="0.3455" stop-color="#24c1ae"/><stop offset="0.3758" stop-color="#3fca8e"/><stop offset="0.4061" stop-color="#6fcd66"/><stop offset="0.4333" stop-color="#9dc943"/><stop offset="0.4606" stop-color="#c3c22b"/><stop offset="0.4848" stop-color="#dabd28"/><stop offset="0.5212" stop-color="#f4ba39"/><stop offset="0.5303" stop-color="#f8ba3d"/><stop offset="0.5485" stop-color="#fdbd3d"/><stop offset="0.5788" stop-color="#febd3c"/><stop offset="0.6091" stop-color="#f8ba3d"/><stop offset="0.6424" stop-color="#e9bb2f"/><stop offset="0.6758" stop-color="#d3bf27"/><stop offset="0.6909" stop-color="#c6c22a"/><stop offset="0.7121" stop-color="#acc738"/><stop offset="0.7545" stop-color="#73cd62"/><stop offset="0.797" stop-color="#40ca8d"/><stop offset="0.8091" stop-color="#37c897"/><stop offset="0.8394" stop-color="#29c3aa"/><stop offset="0.8879" stop-color="#0bbdbd"/><stop offset="0.9091" stop-color="#02bbc3"/><stop offset="0.9364" stop-color="#01b8ca"/><stop offset="1" stop-color="#15afd9"/></linearGradient><linearGradient id="r27"><stop offset="0" stop-color="#473ee2"/><stop offset="0.0242" stop-color="#484cf0"/><stop offset="0.0485" stop-color="#475af9"/><stop offset="0.0727" stop-color="#4466fd"/><stop offset="0.1061" stop-color="#3777fe"/><stop offset="0.1273" stop-color="#2f80fa"/><stop offset="0.1636" stop-color="#2d8df2"/><stop offset="0.2636" stop-color="#1babde"/><stop offset="0.2848" stop-color="#12b1d6"/><stop offset="0.3061" stop-color="#02b7cb"/><stop offset="0.3182" stop-color="#02bbc3"/><stop offset="0.3273" stop-color="#0cbdbc"/><stop offset="0.3424" stop-color="#23c1af"/><stop offset="0.3727" stop-color="#3eca8f"/><stop offset="0.397" stop-color="#63cd70"/><stop offset="0.4424" stop-color="#acc738"/><stop offset="0.4606" stop-color="#c3c22b"/><stop offset="0.4727" stop-color="#d0bf27"/><stop offset="0.4879" stop-color="#debd29"/><stop offset="0.5273" stop-color="#f8ba3d"/><stop offset="0.5515" stop-color="#febd3c"/><stop offset="0.5879" stop-color="#febd3c"/><stop offset="0.6152" stop-color="#f8ba3d"/><stop offset="0.6424" stop-color="#ecba32"/><stop offset="0.6727" stop-color="#d9be28"/><stop offset="0.697" stop-color="#c3c22b"/><stop offset="0.7273" stop-color="#9ec942"/><stop offset="0.7606" stop-color="#71cd65"/><stop offset="0.7909" stop-color="#4bcb84"/><stop offset="0.8121" stop-color="#38c896"/><stop offset="0.8606" stop-color="#20c1b1"/><stop offset="0.8909" stop-color="#0cbdbc"/><stop offset="0.9152" stop-color="#02bbc3"/><stop offset="0.9424" stop-color="#01b7ca"/><stop offset="1" stop-color="#14b0d8"/></linearGradient><linearGradient id="r28"><stop offset="0" stop-color="#473fe2"/><stop offset="0.0212" stop-color="#484bef"/><stop offset="0.0545" stop-color="#465dfb"/><stop offset="0.0758" stop-color="#4369fe"/><stop offset="0.0939" stop-color="#3c72ff"/><stop offset="0.1212" stop-color="#307ffb"/><stop offset="0.1606" stop-color="#2d8df2"/><stop offset="0.2606" stop-color="#1babde"/><stop offset="0.2848" stop-color="#0fb2d5"/><stop offset="0.2939" stop-color="#07b5d0"/><stop offset="0.3091" stop-color="#01b9c7"/><stop offset="0.3152" stop-color="#03bbc3"/><stop offset="0.3242" stop-color="#0cbdbc"/><stop offset="0.3364" stop-color="#1fc0b2"/><stop offset="0.3455" stop-color="#29c3aa"/><stop offset="0.3727" stop-color="#40ca8d"/><stop offset="0.403" stop-color="#6fcd66"/><stop offset="0.4303" stop-color="#9bc944"/><stop offset="0.4606" stop-color="#c4c22a"/><stop offset="0.4818" stop-color="#dabd28"/><stop offset="0.5242" stop-color="#f7ba3c"/><stop offset="0.5485" stop-color="#febe3c"/><stop offset="0.5727" stop-color="#fec03b"/><stop offset="0.597" stop-color="#febd3c"/><stop offset="0.6212" stop-color="#f8ba3d"/><stop offset="0.6515" stop-color="#eabb30"/><stop offset="0.6848" stop-color="#d2bf27"/><stop offset="0.7" stop-color="#c3c22b"/><stop offset="0.7212" stop-color="#aac739"/><stop offset="0.7636" stop-color="#72cd64"/><stop offset="0.7879" stop-color="#53cc7d"/><stop offset="0.8182" stop-color="#37c897"/><stop offset="0.8455" stop-color="#2cc4a7"/><stop offset="0.8727" stop-color="#1cc0b4"/><stop offset="0.9" stop-color="#0abdbd"/><stop offset="0.9212" stop-color="#02bac4"/><stop offset="0.9455" stop-color="#01b8ca"/><stop offset="1" stop-color="#12b1d7"/></linearGradient><linearGradient id="r29"><stop offset="0" stop-color="#473fe2"/><stop offset="0.0273" stop-color="#484ff2"/><stop offset="0.0545" stop-color="#465efb"/><stop offset="0.0758" stop-color="#4269fe"/><stop offset="0.103" stop-color="#3677fe"/><stop offset="0.1364" stop-color="#2e86f8"/><stop offset="0.1667" stop-color="#2c90f0"/><stop offset="0.2576" stop-color="#1babde"/><stop offset="0.2727" stop-color="#15afd8"/><stop offset="0.2939" stop-color="#05b6ce"/><stop offset="0.3061" stop-color="#01b9c7"/><stop offset="0.3121" stop-color="#03bbc3"/><stop offset="0.3212" stop-color="#0cbdbc"/><stop offset="0.3364" stop-color="#23c1af"/><stop offset="0.3455" stop-color="#2cc4a7"/><stop offset="0.3697" stop-color="#3fca8e"/><stop offset="0.403" stop-color="#72cd64"/><stop offset="0.4273" stop-color="#99c946"/><stop offset="0.4455" stop-color="#b3c534"/><stop offset="0.4606" stop-color="#c5c22a"/><stop offset="0.4727" stop-color="#d2bf27"/><stop offset="0.4848" stop-color="#debd29"/><stop offset="0.5242" stop-color="#f8ba3d"/><stop offset="0.5455" stop-color="#febe3c"/><stop offset="0.603" stop-color="#febe3c"/><stop offset="0.6273" stop-color="#f8ba3d"/><stop offset="0.6515" stop-color="#edba33"/><stop offset="0.6788" stop-color="#dabd28"/><stop offset="0.6909" stop-color="#d0c027"/><stop offset="0.703" stop-color="#c4c22b"/><stop offset="0.7303" stop-color="#a4c83e"/><stop offset="0.7667" stop-color="#73cd63"/><stop offset="0.8" stop-color="#4acb84"/><stop offset="0.8273" stop-color="#35c79a"/><stop offset="0.8727" stop-color="#1fc0b2"/><stop offset="0.903" stop-color="#0bbdbd"/><stop offset="0.9242" stop-color="#02bbc3"/><stop offset="0.9515" stop-color="#01b7ca"/><stop offset="1" stop-color="#11b1d6"/></linearGradient><linearGradient id="r30"><stop offset="0" stop-color="#473fe2"/><stop offset="0.0182" stop-color="#484aee"/><stop offset="0.0485" stop-color="#475bfa"/><stop offset="0.0727" stop-color="#4369fe"/><stop offset="0.0909" stop-color="#3b72ff"/><stop offset="0.1212" stop-color="#2f80fa"/><stop offset="0.1636" stop-color="#2c90f0"/><stop offset="0.2545" stop-color="#1babde"/><stop offset="0.2697" stop-color="#15afd8"/><stop offset="0.2909" stop-color="#05b6ce"/><stop offset="0.303" stop-color="#01b9c7"/><stop offset="0.3091" stop-color="#03bbc3"/><stop offset="0.3182" stop-color="#0cbdbc"/><stop offset="0.3394" stop-color="#29c3aa"/><stop offset="0.3697" stop-color="#42ca8b"/><stop offset="0.4" stop-color="#6fcd66"/><stop offset="0.4273" stop-color="#9ac945"/><stop offset="0.4576" stop-color="#c3c22b"/><stop offset="0.4697" stop-color="#d0bf27"/><stop offset="0.4788" stop-color="#d9be28"/><stop offset="0.503" stop-color="#edba33"/><stop offset="0.5242" stop-color="#f9ba3d"/><stop offset="0.5424" stop-color="#febe3c"/><stop offset="0.5606" stop-color="#fec13a"/><stop offset="0.5909" stop-color="#fec13a"/><stop offset="0.6121" stop-color="#febd3c"/><stop offset="0.6333" stop-color="#f8ba3d"/><stop offset="0.6545" stop-color="#eeba34"/><stop offset="0.6818" stop-color="#dbbd28"/><stop offset="0.6939" stop-color="#d0bf27"/><stop offset="0.7091" stop-color="#c1c32c"/><stop offset="0.7364" stop-color="#a1c840"/><stop offset="0.7697" stop-color="#74cd62"/><stop offset="0.797" stop-color="#52cc7e"/><stop offset="0.8152" stop-color="#40ca8d"/><stop offset="0.8303" stop-color="#36c898"/><stop offset="0.8727" stop-color="#22c1b0"/><stop offset="0.9091" stop-color="#0abdbd"/><stop offset="0.9303" stop-color="#02bac4"/><stop offset="0.9545" stop-color="#01b8ca"/><stop offset="1" stop-color="#0fb2d5"/></linearGradient><linearGradient id="r31"><stop offset="0" stop-color="#473fe2"/><stop offset="0.0303" stop-color="#4851f4"/><stop offset="0.0515" stop-color="#465efb"/><stop offset="0.0667" stop-color="#4466fd"/><stop offset="0.1" stop-color="#3678fe"/><stop offset="0.1152" stop-color="#307ffb"/><stop offset="0.1485" stop-color="#2d8cf3"/><stop offset="0.2485" stop-color="#1caadf"/><stop offset="0.2727" stop-color="#12b1d6"/><stop offset="0.2848" stop-color="#07b5d0"/><stop offset="0.3" stop-color="#01b9c7"/><stop offset="0.3061" stop-color="#03bbc3"/><stop offset="0.3152" stop-color="#0cbdbc"/><stop offset="0.3333" stop-color="#26c2ad"/><stop offset="0.3636" stop-color="#3eca8f"/><stop offset="0.3879" stop-color="#60cd72"/><stop offset="0.4242" stop-color="#98ca47"/><stop offset="0.4424" stop-color="#b1c635"/><stop offset="0.4576" stop-color="#c4c22b"/><stop offset="0.4697" stop-color="#d1bf27"/><stop offset="0.4788" stop-color="#dabd28"/><stop offset="0.5182" stop-color="#f7ba3c"/><stop offset="0.5394" stop-color="#febe3c"/><stop offset="0.5758" stop-color="#fec339"/><stop offset="0.6182" stop-color="#febe3c"/><stop offset="0.6394" stop-color="#f8ba3d"/><stop offset="0.6606" stop-color="#edba33"/><stop offset="0.6818" stop-color="#debd29"/><stop offset="0.697" stop-color="#d0bf27"/><stop offset="0.7091" stop-color="#c5c22a"/><stop offset="0.7333" stop-color="#a9c73a"/><stop offset="0.7636" stop-color="#81cc58"/><stop offset="0.7939" stop-color="#5acc77"/><stop offset="0.8182" stop-color="#41ca8c"/><stop offset="0.8333" stop-color="#37c897"/><stop offset="0.8727" stop-color="#25c2ae"/><stop offset="0.9091" stop-color="#0cbdbc"/><stop offset="0.9333" stop-color="#02bbc3"/><stop offset="0.9606" stop-color="#01b7ca"/><stop offset="1" stop-color="#0eb3d4"/></linearGradient><linearGradient id="r32"><stop offset="0" stop-color="#473fe3"/><stop offset="0.0273" stop-color="#4850f3"/><stop offset="0.0545" stop-color="#4660fc"/><stop offset="0.0727" stop-color="#426afe"/><stop offset="0.097" stop-color="#3677fe"/><stop offset="0.1242" stop-color="#2e83f9"/><stop offset="0.1636" stop-color="#2b92ef"/><stop offset="0.2455" stop-color="#1caadf"/><stop offset="0.2697" stop-color="#12b1d6"/><stop offset="0.2909" stop-color="#02b7cb"/><stop offset="0.303" stop-color="#02bbc3"/><stop offset="0.3273" stop-color="#22c1b0"/><stop offset="0.3636" stop-color="#41ca8c"/><stop offset="0.3848" stop-color="#5fcd73"/><stop offset="0.4273" stop-color="#9ec942"/><stop offset="0.4576" stop-color="#c5c22a"/><stop offset="0.4788" stop-color="#dbbd28"/><stop offset="0.5182" stop-color="#f8ba3d"/><stop offset="0.5364" stop-color="#febe3c"/><stop offset="0.5727" stop-color="#fec438"/><stop offset="0.6242" stop-color="#febe3c"/><stop offset="0.6424" stop-color="#f9ba3d"/><stop offset="0.6545" stop-color="#f3ba38"/><stop offset="0.6848" stop-color="#debd29"/><stop offset="0.7" stop-color="#d1bf27"/><stop offset="0.7121" stop-color="#c5c22a"/><stop offset="0.7394" stop-color="#a6c83c"/><stop offset="0.7909" stop-color="#62cd70"/><stop offset="0.8152" stop-color="#48cb86"/><stop offset="0.8394" stop-color="#36c898"/><stop offset="0.8788" stop-color="#24c1af"/><stop offset="0.9152" stop-color="#0bbdbc"/><stop offset="0.9364" stop-color="#02bbc3"/><stop offset="0.9636" stop-color="#01b8ca"/><stop offset="1" stop-color="#0cb3d3"/></linearGradient><linearGradient id="r33"><stop offset="0" stop-color="#473fe3"/><stop offset="0.0364" stop-color="#4756f7"/><stop offset="0.0636" stop-color="#4466fd"/><stop offset="0.0848" stop-color="#3c72ff"/><stop offset="0.1152" stop-color="#2f80fa"/><stop offset="0.1485" stop-color="#2d8df2"/><stop offset="0.2424" stop-color="#1caadf"/><stop offset="0.2636" stop-color="#14b0d8"/><stop offset="0.2879" stop-color="#02b7cb"/><stop offset="0.297" stop-color="#01bac5"/><stop offset="0.3091" stop-color="#0bbdbd"/><stop offset="0.3273" stop-color="#25c2ae"/><stop offset="0.3424" stop-color="#31c6a0"/><stop offset="0.3606" stop-color="#41ca8c"/><stop offset="0.3848" stop-color="#62cd71"/><stop offset="0.4303" stop-color="#a3c83e"/><stop offset="0.4576" stop-color="#c6c22a"/><stop offset="0.4758" stop-color="#d8be28"/><stop offset="0.497" stop-color="#ebba31"/><stop offset="0.5182" stop-color="#f9ba3d"/><stop offset="0.5333" stop-color="#febe3c"/><stop offset="0.5727" stop-color="#fec537"/><stop offset="0.6" stop-color="#fec438"/><stop offset="0.6303" stop-color="#febe3c"/><stop offset="0.6485" stop-color="#f8ba3d"/><stop offset="0.6758" stop-color="#e8bb2e"/><stop offset="0.703" stop-color="#d1bf27"/><stop offset="0.7182" stop-color="#c3c22b"/><stop offset="0.7485" stop-color="#9fc941"/><stop offset="0.7818" stop-color="#72cd63"/><stop offset="0.8273" stop-color="#41ca8c"/><stop offset="0.8545" stop-color="#31c6a0"/><stop offset="0.8848" stop-color="#22c1b0"/><stop offset="0.9212" stop-color="#0abdbd"/><stop offset="0.9424" stop-color="#02bac3"/><stop offset="0.9667" stop-color="#01b8ca"/><stop offset="1" stop-color="#0ab4d2"/></linearGradient><linearGradient id="r34"><stop offset="0" stop-color="#473fe3"/><stop offset="0.0182" stop-color="#484bef"/><stop offset="0.0485" stop-color="#465efb"/><stop offset="0.0697" stop-color="#426afe"/><stop offset="0.0939" stop-color="#3677fe"/><stop offset="0.1091" stop-color="#307ffb"/><stop offset="0.1394" stop-color="#2d8bf4"/><stop offset="0.2394" stop-color="#1caadf"/><stop offset="0.2636" stop-color="#12b1d7"/><stop offset="0.2879" stop-color="#01b8ca"/><stop offset="0.2939" stop-color="#01b9c6"/><stop offset="0.3061" stop-color="#0abdbd"/><stop offset="0.3242" stop-color="#24c2ae"/><stop offset="0.3333" stop-color="#2dc4a6"/><stop offset="0.3545" stop-color="#3dc990"/><stop offset="0.3818" stop-color="#61cd71"/><stop offset="0.4333" stop-color="#a9c73a"/><stop offset="0.4545" stop-color="#c3c22b"/><stop offset="0.4697" stop-color="#d3bf27"/><stop offset="0.4879" stop-color="#e4bb2c"/><stop offset="0.497" stop-color="#ecba32"/><stop offset="0.5152" stop-color="#f8ba3d"/><stop offset="0.5303" stop-color="#febd3c"/><stop offset="0.5727" stop-color="#fec636"/><stop offset="0.597" stop-color="#fec636"/><stop offset="0.6364" stop-color="#febd3c"/><stop offset="0.6545" stop-color="#f7ba3c"/><stop offset="0.6788" stop-color="#e8bb2e"/><stop offset="0.697" stop-color="#d9bd28"/><stop offset="0.7061" stop-color="#d2bf27"/><stop offset="0.7242" stop-color="#c1c32c"/><stop offset="0.7424" stop-color="#acc738"/><stop offset="0.7848" stop-color="#73cd62"/><stop offset="0.8364" stop-color="#3dca90"/><stop offset="0.8667" stop-color="#2ec4a5"/><stop offset="0.8909" stop-color="#21c1b1"/><stop offset="0.9212" stop-color="#0cbdbc"/><stop offset="0.9455" stop-color="#02bbc3"/><stop offset="0.9727" stop-color="#01b8ca"/><stop offset="1" stop-color="#09b4d1"/></linearGradient><linearGradient id="r35"><stop offset="0" stop-color="#4740e3"/><stop offset="0.0303" stop-color="#4853f5"/><stop offset="0.0576" stop-color="#4564fd"/><stop offset="0.0818" stop-color="#3c72ff"/><stop offset="0.1121" stop-color="#2f81fa"/><stop offset="0.1455" stop-color="#2d8df2"/><stop offset="0.2364" stop-color="#1caadf"/><stop offset="0.2515" stop-color="#17aeda"/><stop offset="0.2697" stop-color="#0cb3d3"/><stop offset="0.2848" stop-color="#01b7ca"/><stop offset="0.2909" stop-color="#01b9c6"/><stop offset="0.3" stop-color="#06bcc0"/><stop offset="0.3212" stop-color="#24c1af"/><stop offset="0.3333" stop-color="#2ec5a4"/><stop offset="0.3545" stop-color="#40ca8d"/><stop offset="0.3788" stop-color="#61cd72"/><stop offset="0.4333" stop-color="#aac739"/><stop offset="0.4545" stop-color="#c5c22a"/><stop offset="0.4758" stop-color="#dabd28"/><stop offset="0.5" stop-color="#efba35"/><stop offset="0.5152" stop-color="#f9bb3d"/><stop offset="0.5303" stop-color="#febe3c"/><stop offset="0.5576" stop-color="#fec537"/><stop offset="0.5909" stop-color="#fec835"/><stop offset="0.6424" stop-color="#febd3c"/><stop offset="0.6606" stop-color="#f6ba3c"/><stop offset="0.6848" stop-color="#e6bb2d"/><stop offset="0.7" stop-color="#d9bd28"/><stop offset="0.7242" stop-color="#c5c22a"/><stop offset="0.7455" stop-color="#adc738"/><stop offset="0.7758" stop-color="#84cc56"/><stop offset="0.803" stop-color="#63cd6f"/><stop offset="0.8394" stop-color="#3eca8f"/><stop offset="0.8636" stop-color="#31c5a1"/><stop offset="0.8879" stop-color="#25c2ae"/><stop offset="0.9273" stop-color="#0bbdbc"/><stop offset="0.9485" stop-color="#02bbc3"/><stop offset="0.9758" stop-color="#01b8ca"/><stop offset="1" stop-color="#07b5d0"/></linearGradient><linearGradient id="r36"><stop offset="0" stop-color="#4740e3"/><stop offset="0.0273" stop-color="#4852f4"/><stop offset="0.0515" stop-color="#4561fc"/><stop offset="0.0697" stop-color="#416cfe"/><stop offset="0.0909" stop-color="#3678fe"/><stop offset="0.1091" stop-color="#2f80fa"/><stop offset="0.1424" stop-color="#2d8df2"/><stop offset="0.2303" stop-color="#1da9e0"/><stop offset="0.2485" stop-color="#17aeda"/><stop offset="0.2758" stop-color="#05b6ce"/><stop offset="0.2879" stop-color="#01b9c7"/><stop offset="0.3" stop-color="#09bcbe"/><stop offset="0.3182" stop-color="#23c1af"/><stop offset="0.3273" stop-color="#2cc4a7"/><stop offset="0.3515" stop-color="#3fca8e"/><stop offset="0.3758" stop-color="#60cd73"/><stop offset="0.4333" stop-color="#acc738"/><stop offset="0.4515" stop-color="#c2c22b"/><stop offset="0.4758" stop-color="#dabd28"/><stop offset="0.5121" stop-color="#f8ba3d"/><stop offset="0.5273" stop-color="#febe3c"/><stop offset="0.5788" stop-color="#fec934"/><stop offset="0.603" stop-color="#fec835"/><stop offset="0.6455" stop-color="#febe3c"/><stop offset="0.6636" stop-color="#f7ba3c"/><stop offset="0.6879" stop-color="#e6bb2d"/><stop offset="0.703" stop-color="#dabd28"/><stop offset="0.7152" stop-color="#d1bf27"/><stop offset="0.7303" stop-color="#c3c22b"/><stop offset="0.7545" stop-color="#a5c83d"/><stop offset="0.7939" stop-color="#72cd63"/><stop offset="0.8455" stop-color="#3cc991"/><stop offset="0.8758" stop-color="#2dc4a6"/><stop offset="0.8939" stop-color="#24c1af"/><stop offset="0.9424" stop-color="#06bcc0"/><stop offset="0.9636" stop-color="#01b9c6"/><stop offset="1" stop-color="#06b5cf"/></linearGradient><linearGradient id="r37"><stop offset="0" stop-color="#4740e3"/><stop offset="0.0152" stop-color="#484aee"/><stop offset="0.0364" stop-color="#4758f8"/><stop offset="0.0636" stop-color="#4369fe"/><stop offset="0.0788" stop-color="#3c72ff"/><stop offset="0.1091" stop-color="#2f81fa"/><stop offset="0.1485" stop-color="#2c90f0"/><stop offset="0.2273" stop-color="#1da9e0"/><stop offset="0.2576" stop-color="#11b2d5"/><stop offset="0.2788" stop-color="#02b7cb"/><stop offset="0.2909" stop-color="#02bbc3"/><stop offset="0.3152" stop-color="#22c1b0"/><stop offset="0.3515" stop-color="#41ca8c"/><stop offset="0.3758" stop-color="#62cd71"/><stop offset="0.4303" stop-color="#a9c73a"/><stop offset="0.4515" stop-color="#c4c22b"/><stop offset="0.4636" stop-color="#d0bf27"/><stop offset="0.4727" stop-color="#d9be28"/><stop offset="0.4848" stop-color="#e4bb2c"/><stop offset="0.503" stop-color="#f3ba38"/><stop offset="0.5121" stop-color="#f9ba3d"/><stop offset="0.5242" stop-color="#febd3c"/><stop offset="0.5788" stop-color="#feca33"/><stop offset="0.6121" stop-color="#fec835"/><stop offset="0.6515" stop-color="#febd3c"/><stop offset="0.6697" stop-color="#f5ba3b"/><stop offset="0.703" stop-color="#debd29"/><stop offset="0.7182" stop-color="#d2bf27"/><stop offset="0.7333" stop-color="#c3c22b"/><stop offset="0.7545" stop-color="#a9c73a"/><stop offset="0.797" stop-color="#74cd62"/><stop offset="0.8455" stop-color="#3fca8e"/><stop offset="0.8697" stop-color="#31c6a0"/><stop offset="0.8939" stop-color="#26c2ad"/><stop offset="0.9515" stop-color="#04bbc1"/><stop offset="0.9848" stop-color="#01b7ca"/><stop offset="1" stop-color="#06b6ce"/></linearGradient><linearGradient id="r38"><stop offset="0" stop-color="#4740e3"/><stop offset="0.0182" stop-color="#484cf0"/><stop offset="0.0455" stop-color="#465efb"/><stop offset="0.0727" stop-color="#3f6fff"/><stop offset="0.0879" stop-color="#3677fe"/><stop offset="0.1061" stop-color="#2f80fa"/><stop offset="0.1242" stop-color="#2d88f6"/><stop offset="0.1394" stop-color="#2d8df2"/><stop offset="0.2242" stop-color="#1da9e0"/><stop offset="0.2455" stop-color="#16afd9"/><stop offset="0.2727" stop-color="#03b6cc"/><stop offset="0.2879" stop-color="#02bbc3"/><stop offset="0.297" stop-color="#0bbdbd"/><stop offset="0.3121" stop-color="#21c1b1"/><stop offset="0.3485" stop-color="#3fca8e"/><stop offset="0.3727" stop-color="#60cd73"/><stop offset="0.4212" stop-color="#9fc941"/><stop offset="0.4515" stop-color="#c5c22a"/><stop offset="0.4727" stop-color="#dabd28"/><stop offset="0.4879" stop-color="#e8bb2e"/><stop offset="0.5061" stop-color="#f6ba3b"/><stop offset="0.5242" stop-color="#febe3c"/><stop offset="0.5788" stop-color="#fdcb33"/><stop offset="0.6242" stop-color="#fec736"/><stop offset="0.6545" stop-color="#febe3c"/><stop offset="0.6697" stop-color="#f8ba3d"/><stop offset="0.6939" stop-color="#e8bb2e"/><stop offset="0.7121" stop-color="#dabd28"/><stop offset="0.7242" stop-color="#d0c027"/><stop offset="0.7364" stop-color="#c4c22b"/><stop offset="0.7606" stop-color="#a6c73c"/><stop offset="0.7879" stop-color="#84cc56"/><stop offset="0.8121" stop-color="#66cd6d"/><stop offset="0.8515" stop-color="#3dca90"/><stop offset="0.8939" stop-color="#28c3ab"/><stop offset="0.9394" stop-color="#0bbdbc"/><stop offset="0.9576" stop-color="#03bbc2"/><stop offset="0.9879" stop-color="#01b7ca"/><stop offset="1" stop-color="#05b6cd"/></linearGradient><linearGradient id="r39"><stop offset="0" stop-color="#4740e4"/><stop offset="0.0182" stop-color="#484cf0"/><stop offset="0.0485" stop-color="#4660fc"/><stop offset="0.0667" stop-color="#416cfe"/><stop offset="0.0848" stop-color="#3776fe"/><stop offset="0.1061" stop-color="#2f81fa"/><stop offset="0.1364" stop-color="#2d8df2"/><stop offset="0.2364" stop-color="#19addc"/><stop offset="0.2697" stop-color="#03b7cc"/><stop offset="0.2848" stop-color="#02bbc3"/><stop offset="0.2939" stop-color="#0bbdbd"/><stop offset="0.3121" stop-color="#24c1af"/><stop offset="0.3303" stop-color="#32c69f"/><stop offset="0.3485" stop-color="#41ca8c"/><stop offset="0.3727" stop-color="#61cd71"/><stop offset="0.4242" stop-color="#a5c83d"/><stop offset="0.4394" stop-color="#b8c431"/><stop offset="0.4636" stop-color="#d2bf27"/><stop offset="0.4848" stop-color="#e6bb2d"/><stop offset="0.4939" stop-color="#eeba34"/><stop offset="0.5091" stop-color="#f8ba3d"/><stop offset="0.5242" stop-color="#febe3c"/><stop offset="0.5545" stop-color="#fec835"/><stop offset="0.5788" stop-color="#fdcc32"/><stop offset="0.6273" stop-color="#fec835"/><stop offset="0.6576" stop-color="#febe3c"/><stop offset="0.6758" stop-color="#f7ba3c"/><stop offset="0.7" stop-color="#e7bb2d"/><stop offset="0.7242" stop-color="#d3bf27"/><stop offset="0.7364" stop-color="#c7c129"/><stop offset="0.7667" stop-color="#a4c83e"/><stop offset="0.8061" stop-color="#72cd63"/><stop offset="0.8515" stop-color="#40ca8d"/><stop offset="0.8667" stop-color="#36c898"/><stop offset="0.8909" stop-color="#2cc4a7"/><stop offset="0.9545" stop-color="#06bcc0"/><stop offset="0.9727" stop-color="#01bac5"/><stop offset="1" stop-color="#04b6cd"/></linearGradient><linearGradient id="r40"><stop offset="0" stop-color="#4740e4"/><stop offset="0.0212" stop-color="#484ff2"/><stop offset="0.0485" stop-color="#4561fc"/><stop offset="0.0606" stop-color="#4369fe"/><stop offset="0.0848" stop-color="#3777fe"/><stop offset="0.1091" stop-color="#2e83f9"/><stop offset="0.1485" stop-color="#2b91ef"/><stop offset="0.2242" stop-color="#1baadf"/><stop offset="0.2455" stop-color="#13b1d7"/><stop offset="0.2667" stop-color="#03b7cc"/><stop offset="0.2818" stop-color="#02bbc3"/><stop offset="0.3091" stop-color="#23c1af"/><stop offset="0.3273" stop-color="#31c6a0"/><stop offset="0.3455" stop-color="#3fca8e"/><stop offset="0.3697" stop-color="#5fcd73"/><stop offset="0.4152" stop-color="#9bc944"/><stop offset="0.4485" stop-color="#c3c22b"/><stop offset="0.4606" stop-color="#d0bf27"/><stop offset="0.4697" stop-color="#d9bd28"/><stop offset="0.4818" stop-color="#e5bb2c"/><stop offset="0.5091" stop-color="#f9bb3d"/><stop offset="0.5212" stop-color="#febe3c"/><stop offset="0.5545" stop-color="#fec834"/><stop offset="0.5788" stop-color="#fdcd32"/><stop offset="0.6152" stop-color="#fdcc32"/><stop offset="0.6636" stop-color="#febd3c"/><stop offset="0.6818" stop-color="#f5ba3b"/><stop offset="0.703" stop-color="#e8bb2e"/><stop offset="0.7212" stop-color="#d9bd28"/><stop offset="0.7424" stop-color="#c5c22a"/><stop offset="0.7697" stop-color="#a5c83d"/><stop offset="0.8091" stop-color="#73cd63"/><stop offset="0.8576" stop-color="#3eca8f"/><stop offset="0.8909" stop-color="#2ec4a5"/><stop offset="0.9091" stop-color="#25c2ae"/><stop offset="0.9485" stop-color="#0abdbd"/><stop offset="0.9758" stop-color="#01bac5"/><stop offset="1" stop-color="#03b7cc"/></linearGradient><linearGradient id="r41"><stop offset="0" stop-color="#4740e4"/><stop offset="0.0152" stop-color="#484bef"/><stop offset="0.0424" stop-color="#465dfb"/><stop offset="0.0667" stop-color="#406dfe"/><stop offset="0.0848" stop-color="#3678fe"/><stop offset="0.103" stop-color="#2f81fa"/><stop offset="0.1424" stop-color="#2c90f0"/><stop offset="0.2182" stop-color="#1da9e0"/><stop offset="0.2424" stop-color="#13b1d7"/><stop offset="0.2636" stop-color="#03b7cc"/><stop offset="0.2788" stop-color="#02bbc3"/><stop offset="0.2879" stop-color="#0abdbd"/><stop offset="0.3121" stop-color="#28c2ab"/><stop offset="0.3455" stop-color="#41ca8c"/><stop offset="0.3697" stop-color="#61cd72"/><stop offset="0.4152" stop-color="#9dc943"/><stop offset="0.4424" stop-color="#bdc32e"/><stop offset="0.4606" stop-color="#d1bf27"/><stop offset="0.4697" stop-color="#dabd28"/><stop offset="0.5061" stop-color="#f8ba3d"/><stop offset="0.5212" stop-color="#febe3c"/><stop offset="0.5515" stop-color="#fec834"/><stop offset="0.5879" stop-color="#fccf31"/><stop offset="0.6242" stop-color="#fdcc32"/><stop offset="0.6667" stop-color="#febe3c"/><stop offset="0.6848" stop-color="#f6ba3c"/><stop offset="0.7091" stop-color="#e7bb2d"/><stop offset="0.7242" stop-color="#dabd28"/><stop offset="0.7485" stop-color="#c3c22b"/><stop offset="0.7727" stop-color="#a6c83c"/><stop offset="0.8" stop-color="#84cc56"/><stop offset="0.8303" stop-color="#5ecd74"/><stop offset="0.8606" stop-color="#3fca8e"/><stop offset="0.903" stop-color="#2ac3a9"/><stop offset="0.9636" stop-color="#05bbc1"/><stop offset="0.9818" stop-color="#01b9c6"/><stop offset="1" stop-color="#02b7cb"/></linearGradient><linearGradient id="r42"><stop offset="0" stop-color="#4740e4"/><stop offset="0.0182" stop-color="#484df1"/><stop offset="0.0455" stop-color="#4660fc"/><stop offset="0.0606" stop-color="#426afe"/><stop offset="0.0818" stop-color="#3777fe"/><stop offset="0.1061" stop-color="#2e83f9"/><stop offset="0.1333" stop-color="#2d8df2"/><stop offset="0.2121" stop-color="#1ea8e1"/><stop offset="0.2394" stop-color="#13b1d7"/><stop offset="0.2606" stop-color="#03b7cc"/><stop offset="0.2727" stop-color="#01bac5"/><stop offset="0.2848" stop-color="#0abdbd"/><stop offset="0.3061" stop-color="#25c2ae"/><stop offset="0.3152" stop-color="#2cc4a7"/><stop offset="0.3364" stop-color="#3ac993"/><stop offset="0.3667" stop-color="#5fcd73"/><stop offset="0.4152" stop-color="#9ec942"/><stop offset="0.4485" stop-color="#c5c22a"/><stop offset="0.4606" stop-color="#d2bf27"/><stop offset="0.4727" stop-color="#debd29"/><stop offset="0.503" stop-color="#f7ba3c"/><stop offset="0.5182" stop-color="#febe3c"/><stop offset="0.5545" stop-color="#feca33"/><stop offset="0.5848" stop-color="#fcd030"/><stop offset="0.6182" stop-color="#fccf31"/><stop offset="0.6727" stop-color="#febd3c"/><stop offset="0.6909" stop-color="#f5ba3b"/><stop offset="0.7121" stop-color="#e8bb2e"/><stop offset="0.7303" stop-color="#d9be28"/><stop offset="0.7394" stop-color="#d0bf27"/><stop offset="0.7515" stop-color="#c4c22b"/><stop offset="0.7758" stop-color="#a8c73b"/><stop offset="0.8182" stop-color="#71cd64"/><stop offset="0.8636" stop-color="#40ca8d"/><stop offset="0.8788" stop-color="#36c898"/><stop offset="0.903" stop-color="#2cc4a7"/><stop offset="0.9606" stop-color="#08bcbf"/><stop offset="0.9758" stop-color="#02bbc3"/><stop offset="1" stop-color="#01b8ca"/></linearGradient><linearGradient id="r43"><stop offset="0" stop-color="#4740e4"/><stop offset="0.0182" stop-color="#484ef1"/><stop offset="0.0455" stop-color="#4661fc"/><stop offset="0.0576" stop-color="#4369fe"/><stop offset="0.0818" stop-color="#3678fe"/><stop offset="0.1" stop-color="#2f81fa"/><stop offset="0.1394" stop-color="#2c90f0"/><stop offset="0.2061" stop-color="#1fa6e1"/><stop offset="0.2333" stop-color="#15afd8"/><stop offset="0.2606" stop-color="#01b7ca"/><stop offset="0.2727" stop-color="#02bbc3"/><stop offset="0.2848" stop-color="#0dbdbb"/><stop offset="0.3061" stop-color="#27c2ac"/><stop offset="0.3424" stop-color="#42ca8b"/><stop offset="0.3788" stop-color="#70cd65"/><stop offset="0.4121" stop-color="#9bc944"/><stop offset="0.4394" stop-color="#bbc42f"/><stop offset="0.4606" stop-color="#d2bf27"/><stop offset="0.4727" stop-color="#debd29"/><stop offset="0.5061" stop-color="#f9bb3d"/><stop offset="0.5182" stop-color="#febe3c"/><stop offset="0.5485" stop-color="#fec934"/><stop offset="0.5909" stop-color="#fbd22f"/><stop offset="0.6273" stop-color="#fccf31"/><stop offset="0.6758" stop-color="#febe3c"/><stop offset="0.6909" stop-color="#f8ba3d"/><stop offset="0.7182" stop-color="#e7bb2e"/><stop offset="0.7424" stop-color="#d2bf27"/><stop offset="0.7545" stop-color="#c5c22a"/><stop offset="0.7788" stop-color="#a9c73a"/><stop offset="0.8212" stop-color="#72cd63"/><stop offset="0.8697" stop-color="#3fca8e"/><stop offset="0.9121" stop-color="#29c3aa"/><stop offset="0.9636" stop-color="#08bcbe"/><stop offset="0.9788" stop-color="#02bbc3"/><stop offset="1" stop-color="#01b8c9"/></linearGradient><linearGradient id="r44"><stop offset="0" stop-color="#4740e4"/><stop offset="0.0273" stop-color="#4854f6"/><stop offset="0.0485" stop-color="#4563fd"/><stop offset="0.0788" stop-color="#3777fe"/><stop offset="0.097" stop-color="#2f80fa"/><stop offset="0.1364" stop-color="#2c90f0"/><stop offset="0.2" stop-color="#20a5e2"/><stop offset="0.2303" stop-color="#15afd8"/><stop offset="0.2576" stop-color="#01b7ca"/><stop offset="0.2697" stop-color="#02bbc3"/><stop offset="0.2818" stop-color="#0dbdbb"/><stop offset="0.3" stop-color="#24c1af"/><stop offset="0.3152" stop-color="#2fc5a3"/><stop offset="0.3364" stop-color="#3eca8f"/><stop offset="0.3636" stop-color="#5fcd73"/><stop offset="0.4091" stop-color="#99c946"/><stop offset="0.4394" stop-color="#bbc42f"/><stop offset="0.4515" stop-color="#c8c129"/><stop offset="0.4667" stop-color="#d8be28"/><stop offset="0.4788" stop-color="#e4bb2c"/><stop offset="0.5061" stop-color="#fabb3d"/><stop offset="0.5152" stop-color="#febd3c"/><stop offset="0.5606" stop-color="#fdcd32"/><stop offset="0.597" stop-color="#fad42e"/><stop offset="0.6242" stop-color="#fbd22f"/><stop offset="0.6818" stop-color="#febd3c"/><stop offset="0.697" stop-color="#f8ba3d"/><stop offset="0.7242" stop-color="#e6bb2d"/><stop offset="0.7394" stop-color="#d9be28"/><stop offset="0.7485" stop-color="#d0bf27"/><stop offset="0.7606" stop-color="#c4c22b"/><stop offset="0.7818" stop-color="#abc739"/><stop offset="0.8121" stop-color="#84cc56"/><stop offset="0.8364" stop-color="#65cd6e"/><stop offset="0.8727" stop-color="#40ca8d"/><stop offset="0.9212" stop-color="#26c2ad"/><stop offset="0.9697" stop-color="#07bcbf"/><stop offset="0.9818" stop-color="#02bbc3"/><stop offset="1" stop-color="#01b8c8"/></linearGradient><linearGradient id="r45"><stop offset="0" stop-color="#4740e4"/><stop offset="0.0333" stop-color="#4759f9"/><stop offset="0.0545" stop-color="#4368fe"/><stop offset="0.0758" stop-color="#3776fe"/><stop offset="0.1" stop-color="#2e83f9"/><stop offset="0.1273" stop-color="#2d8df2"/><stop offset="0.1909" stop-color="#22a2e4"/><stop offset="0.2212" stop-color="#18addb"/><stop offset="0.2545" stop-color="#01b8ca"/><stop offset="0.2667" stop-color="#02bbc3"/><stop offset="0.3" stop-color="#26c2ad"/><stop offset="0.3152" stop-color="#30c5a1"/><stop offset="0.3364" stop-color="#40ca8d"/><stop offset="0.3636" stop-color="#61cd71"/><stop offset="0.4152" stop-color="#a0c840"/><stop offset="0.4394" stop-color="#bbc42f"/><stop offset="0.4515" stop-color="#c8c129"/><stop offset="0.4697" stop-color="#dbbd28"/><stop offset="0.503" stop-color="#f9ba3d"/><stop offset="0.5152" stop-color="#febe3c"/><stop offset="0.5667" stop-color="#fccf30"/><stop offset="0.6" stop-color="#fad62d"/><stop offset="0.6242" stop-color="#fad42e"/><stop offset="0.6879" stop-color="#febd3c"/><stop offset="0.703" stop-color="#f8ba3d"/><stop offset="0.7273" stop-color="#e8bb2e"/><stop offset="0.7424" stop-color="#dbbd28"/><stop offset="0.7636" stop-color="#c5c22a"/><stop offset="0.7879" stop-color="#a9c73a"/><stop offset="0.8303" stop-color="#72cd64"/><stop offset="0.8788" stop-color="#3fca8e"/><stop offset="0.9152" stop-color="#2bc3a8"/><stop offset="0.9333" stop-color="#20c1b1"/><stop offset="0.9667" stop-color="#0abdbd"/><stop offset="0.9879" stop-color="#02bac3"/><stop offset="1" stop-color="#01b9c7"/></linearGradient><linearGradient id="r46"><stop offset="0" stop-color="#4740e3"/><stop offset="0.0303" stop-color="#4758f8"/><stop offset="0.0576" stop-color="#416bfe"/><stop offset="0.0758" stop-color="#3677fe"/><stop offset="0.0939" stop-color="#2f81fa"/><stop offset="0.1121" stop-color="#2d89f6"/><stop offset="0.1879" stop-color="#22a2e4"/><stop offset="0.2182" stop-color="#18aedb"/><stop offset="0.2485" stop-color="#02b7cb"/><stop offset="0.2576" stop-color="#01b9c6"/><stop offset="0.2697" stop-color="#08bcbf"/><stop offset="0.303" stop-color="#2bc3a8"/><stop offset="0.3333" stop-color="#3fca8e"/><stop offset="0.3606" stop-color="#60cd72"/><stop offset="0.3909" stop-color="#85cb55"/><stop offset="0.4212" stop-color="#a8c73b"/><stop offset="0.4394" stop-color="#bbc42f"/><stop offset="0.4515" stop-color="#c8c129"/><stop offset="0.4697" stop-color="#dabd28"/><stop offset="0.4909" stop-color="#f0ba36"/><stop offset="0.5061" stop-color="#fbbc3d"/><stop offset="0.5121" stop-color="#febd3c"/><stop offset="0.5515" stop-color="#feca33"/><stop offset="0.6" stop-color="#f9d82c"/><stop offset="0.6273" stop-color="#fad62d"/><stop offset="0.6939" stop-color="#febd3c"/><stop offset="0.7091" stop-color="#f8ba3d"/><stop offset="0.7273" stop-color="#ecba32"/><stop offset="0.7485" stop-color="#dabd28"/><stop offset="0.7697" stop-color="#c4c22a"/><stop offset="0.7879" stop-color="#afc636"/><stop offset="0.8212" stop-color="#83cc57"/><stop offset="0.8364" stop-color="#70cd65"/><stop offset="0.8818" stop-color="#40ca8d"/><stop offset="0.903" stop-color="#32c69e"/><stop offset="0.9364" stop-color="#21c1b1"/><stop offset="0.9697" stop-color="#0bbdbd"/><stop offset="1" stop-color="#01b9c6"/></linearGradient><linearGradient id="r47"><stop offset="0" stop-color="#4740e3"/><stop offset="0.0303" stop-color="#4758f8"/><stop offset="0.0545" stop-color="#426afe"/><stop offset="0.0727" stop-color="#3776fe"/><stop offset="0.0909" stop-color="#2f80fa"/><stop offset="0.1303" stop-color="#2c90f0"/><stop offset="0.1848" stop-color="#22a2e4"/><stop offset="0.2152" stop-color="#18aedb"/><stop offset="0.2424" stop-color="#03b6cc"/><stop offset="0.2545" stop-color="#01bac5"/><stop offset="0.2636" stop-color="#06bcc0"/><stop offset="0.2939" stop-color="#26c2ad"/><stop offset="0.3061" stop-color="#2ec5a4"/><stop offset="0.3273" stop-color="#3cc991"/><stop offset="0.3576" stop-color="#5fcd73"/><stop offset="0.4121" stop-color="#9ec942"/><stop offset="0.4485" stop-color="#c4c22a"/><stop offset="0.4606" stop-color="#d0bf27"/><stop offset="0.4758" stop-color="#e0bc2a"/><stop offset="0.497" stop-color="#f5ba3b"/><stop offset="0.503" stop-color="#fabb3d"/><stop offset="0.5121" stop-color="#febe3c"/><stop offset="0.5485" stop-color="#fec934"/><stop offset="0.603" stop-color="#f8da2b"/><stop offset="0.6242" stop-color="#f8d92c"/><stop offset="0.6636" stop-color="#feca33"/><stop offset="0.7" stop-color="#febe3c"/><stop offset="0.7182" stop-color="#f6ba3c"/><stop offset="0.7394" stop-color="#e7bb2d"/><stop offset="0.7545" stop-color="#d9be28"/><stop offset="0.7636" stop-color="#d0bf27"/><stop offset="0.7758" stop-color="#c4c22b"/><stop offset="0.7939" stop-color="#aec637"/><stop offset="0.8394" stop-color="#73cd63"/><stop offset="0.8879" stop-color="#3eca8f"/><stop offset="0.9061" stop-color="#33c69e"/><stop offset="0.9333" stop-color="#25c2ae"/><stop offset="0.9697" stop-color="#0dbdbb"/><stop offset="0.9939" stop-color="#02bbc3"/><stop offset="1" stop-color="#02bac5"/></linearGradient><linearGradient id="r48"><stop offset="0" stop-color="#4740e3"/><stop offset="0.0273" stop-color="#4756f7"/><stop offset="0.0576" stop-color="#406dfe"/><stop offset="0.0727" stop-color="#3677fe"/><stop offset="0.0939" stop-color="#2e83f9"/><stop offset="0.1152" stop-color="#2d8cf3"/><stop offset="0.1818" stop-color="#22a2e4"/><stop offset="0.2091" stop-color="#19addc"/><stop offset="0.2333" stop-color="#06b5cf"/><stop offset="0.2485" stop-color="#01b9c6"/><stop offset="0.2636" stop-color="#0abdbd"/><stop offset="0.2939" stop-color="#29c3aa"/><stop offset="0.3242" stop-color="#3cc991"/><stop offset="0.3727" stop-color="#72cd64"/><stop offset="0.4121" stop-color="#9ec942"/><stop offset="0.4455" stop-color="#c1c32c"/><stop offset="0.4606" stop-color="#d0bf27"/><stop offset="0.4697" stop-color="#d9be28"/><stop offset="0.4818" stop-color="#e6bb2d"/><stop offset="0.497" stop-color="#f5ba3b"/><stop offset="0.503" stop-color="#fabb3d"/><stop offset="0.5121" stop-color="#febe3c"/><stop offset="0.5485" stop-color="#feca34"/><stop offset="0.6061" stop-color="#f7dc2a"/><stop offset="0.6303" stop-color="#f8da2b"/><stop offset="0.6727" stop-color="#feca33"/><stop offset="0.7091" stop-color="#febd3c"/><stop offset="0.7242" stop-color="#f6ba3c"/><stop offset="0.7545" stop-color="#debd29"/><stop offset="0.7697" stop-color="#d0bf27"/><stop offset="0.7818" stop-color="#c3c22b"/><stop offset="0.8" stop-color="#adc738"/><stop offset="0.8455" stop-color="#73cd63"/><stop offset="0.8939" stop-color="#3cc991"/><stop offset="0.9394" stop-color="#24c1af"/><stop offset="0.9758" stop-color="#0cbdbc"/><stop offset="1" stop-color="#02bac4"/></linearGradient><linearGradient id="r49"><stop offset="0" stop-color="#4740e3"/><stop offset="0.0273" stop-color="#4756f7"/><stop offset="0.0424" stop-color="#4562fc"/><stop offset="0.0636" stop-color="#3b72ff"/><stop offset="0.0879" stop-color="#2f81fa"/><stop offset="0.1242" stop-color="#2c90f0"/><stop offset="0.1848" stop-color="#20a5e2"/><stop offset="0.2061" stop-color="#18addb"/><stop offset="0.2303" stop-color="#05b6ce"/><stop offset="0.2455" stop-color="#01bac5"/><stop offset="0.2545" stop-color="#06bcc0"/><stop offset="0.2818" stop-color="#23c1af"/><stop offset="0.3" stop-color="#2fc5a3"/><stop offset="0.3212" stop-color="#3cc991"/><stop offset="0.3545" stop-color="#5fcd73"/><stop offset="0.4152" stop-color="#a1c840"/><stop offset="0.4455" stop-color="#c1c32c"/><stop offset="0.4606" stop-color="#d0bf27"/><stop offset="0.4697" stop-color="#d9bd28"/><stop offset="0.4818" stop-color="#e6bb2d"/><stop offset="0.4879" stop-color="#ecba33"/><stop offset="0.5" stop-color="#f7ba3c"/><stop offset="0.5061" stop-color="#fbbc3d"/><stop offset="0.5152" stop-color="#febe3c"/><stop offset="0.5485" stop-color="#feca33"/><stop offset="0.6061" stop-color="#f7dd2a"/><stop offset="0.6394" stop-color="#f8da2b"/><stop offset="0.6818" stop-color="#feca33"/><stop offset="0.7152" stop-color="#febe3c"/><stop offset="0.7303" stop-color="#f6ba3c"/><stop offset="0.7515" stop-color="#e6bb2d"/><stop offset="0.7667" stop-color="#d9be28"/><stop offset="0.7758" stop-color="#d0bf27"/><stop offset="0.7879" stop-color="#c3c22b"/><stop offset="0.8091" stop-color="#a8c73b"/><stop offset="0.8515" stop-color="#72cd64"/><stop offset="0.8939" stop-color="#3fca8e"/><stop offset="0.9061" stop-color="#36c898"/><stop offset="0.9333" stop-color="#29c3aa"/><stop offset="0.9818" stop-color="#0bbdbc"/><stop offset="1" stop-color="#03bbc2"/></linearGradient><linearGradient id="r50"><stop offset="0" stop-color="#4740e3"/><stop offset="0.0121" stop-color="#484aee"/><stop offset="0.0333" stop-color="#475cfa"/><stop offset="0.0515" stop-color="#426afe"/><stop offset="0.0697" stop-color="#3677fe"/><stop offset="0.0848" stop-color="#2f80fa"/><stop offset="0.103" stop-color="#2d89f6"/><stop offset="0.1727" stop-color="#22a2e4"/><stop offset="0.2" stop-color="#19addc"/><stop offset="0.2303" stop-color="#02b7cb"/><stop offset="0.2394" stop-color="#01b9c6"/><stop offset="0.2545" stop-color="#0abdbd"/><stop offset="0.2788" stop-color="#25c2ae"/><stop offset="0.297" stop-color="#30c5a2"/><stop offset="0.3212" stop-color="#3fca8e"/><stop offset="0.3515" stop-color="#5ecd74"/><stop offset="0.3879" stop-color="#84cc56"/><stop offset="0.4424" stop-color="#bdc32e"/><stop offset="0.4606" stop-color="#d0bf27"/><stop offset="0.4697" stop-color="#d9bd28"/><stop offset="0.4879" stop-color="#ecba32"/><stop offset="0.5061" stop-color="#fabb3d"/><stop offset="0.5152" stop-color="#febe3c"/><stop offset="0.5485" stop-color="#feca33"/><stop offset="0.597" stop-color="#f7dc2a"/><stop offset="0.6152" stop-color="#f6df29"/><stop offset="0.6424" stop-color="#f7dc2a"/><stop offset="0.6909" stop-color="#feca33"/><stop offset="0.7212" stop-color="#febe3c"/><stop offset="0.7364" stop-color="#f6ba3c"/><stop offset="0.7576" stop-color="#e6bb2d"/><stop offset="0.7727" stop-color="#d9be28"/><stop offset="0.7909" stop-color="#c6c22a"/><stop offset="0.8152" stop-color="#a8c73b"/><stop offset="0.8576" stop-color="#70cd65"/><stop offset="0.9" stop-color="#3dca90"/><stop offset="0.9303" stop-color="#2dc4a6"/><stop offset="0.9485" stop-color="#24c1af"/><stop offset="1" stop-color="#04bbc1"/></linearGradient><linearGradient id="r51"><stop offset="0" stop-color="#473fe3"/><stop offset="0.0121" stop-color="#484aee"/><stop offset="0.0303" stop-color="#4759f9"/><stop offset="0.0485" stop-color="#4368fe"/><stop offset="0.0606" stop-color="#3c72ff"/><stop offset="0.0758" stop-color="#327cfc"/><stop offset="0.0879" stop-color="#2e83f9"/><stop offset="0.1242" stop-color="#2b92ee"/><stop offset="0.1909" stop-color="#1babde"/><stop offset="0.2273" stop-color="#01b8ca"/><stop offset="0.2394" stop-color="#02bbc3"/><stop offset="0.2515" stop-color="#0cbdbc"/><stop offset="0.2727" stop-color="#24c1af"/><stop offset="0.3152" stop-color="#3dca90"/><stop offset="0.3515" stop-color="#60cd72"/><stop offset="0.4" stop-color="#8fcb4e"/><stop offset="0.4273" stop-color="#acc738"/><stop offset="0.4485" stop-color="#c3c22b"/><stop offset="0.4606" stop-color="#d0bf27"/><stop offset="0.4697" stop-color="#d9bd28"/><stop offset="0.4909" stop-color="#eeba34"/><stop offset="0.5091" stop-color="#fbbc3d"/><stop offset="0.5182" stop-color="#febe3c"/><stop offset="0.5485" stop-color="#feca33"/><stop offset="0.6061" stop-color="#f6df29"/><stop offset="0.6242" stop-color="#f6e128"/><stop offset="0.6485" stop-color="#f6de29"/><stop offset="0.6697" stop-color="#f9d72d"/><stop offset="0.7" stop-color="#feca33"/><stop offset="0.7273" stop-color="#febe3c"/><stop offset="0.7424" stop-color="#f7ba3c"/><stop offset="0.7667" stop-color="#e4bb2c"/><stop offset="0.7788" stop-color="#d9be28"/><stop offset="0.797" stop-color="#c6c22a"/><stop offset="0.8212" stop-color="#a8c73b"/><stop offset="0.8606" stop-color="#72cd63"/><stop offset="0.8879" stop-color="#4ecc81"/><stop offset="0.903" stop-color="#3eca8f"/><stop offset="0.9364" stop-color="#2cc4a7"/><stop offset="1" stop-color="#06bcc0"/></linearGradient><linearGradient id="r52"><stop offset="0" stop-color="#473fe3"/><stop offset="0.0121" stop-color="#484aee"/><stop offset="0.0303" stop-color="#475af9"/><stop offset="0.0424" stop-color="#4564fd"/><stop offset="0.0667" stop-color="#3777fe"/><stop offset="0.0818" stop-color="#2f80fa"/><stop offset="0.103" stop-color="#2d8bf4"/><stop offset="0.1606" stop-color="#23a1e5"/><stop offset="0.1879" stop-color="#1aabdd"/><stop offset="0.2212" stop-color="#02b7cb"/><stop offset="0.2303" stop-color="#01bac6"/><stop offset="0.2424" stop-color="#08bcbe"/><stop offset="0.2697" stop-color="#25c2ae"/><stop offset="0.3121" stop-color="#3eca8f"/><stop offset="0.3485" stop-color="#60cd72"/><stop offset="0.3909" stop-color="#85cb55"/><stop offset="0.4485" stop-color="#c3c22b"/><stop offset="0.4606" stop-color="#d0c027"/><stop offset="0.4697" stop-color="#d9be28"/><stop offset="0.4879" stop-color="#eaba31"/><stop offset="0.503" stop-color="#f6ba3c"/><stop offset="0.5091" stop-color="#fabb3d"/><stop offset="0.5182" stop-color="#febe3c"/><stop offset="0.5485" stop-color="#feca33"/><stop offset="0.603" stop-color="#f6df29"/><stop offset="0.6273" stop-color="#f5e327"/><stop offset="0.6455" stop-color="#f5e228"/><stop offset="0.6727" stop-color="#f8da2b"/><stop offset="0.7091" stop-color="#fec934"/><stop offset="0.7333" stop-color="#febe3c"/><stop offset="0.7485" stop-color="#f7ba3c"/><stop offset="0.7727" stop-color="#e4bb2c"/><stop offset="0.7848" stop-color="#d9be28"/><stop offset="0.803" stop-color="#c6c22a"/><stop offset="0.8273" stop-color="#a8c73b"/><stop offset="0.8727" stop-color="#66cd6d"/><stop offset="0.9061" stop-color="#3eca8f"/><stop offset="0.9394" stop-color="#2cc4a7"/><stop offset="1" stop-color="#07bcbf"/></linearGradient><linearGradient id="r53"><stop offset="0" stop-color="#473fe2"/><stop offset="0.0121" stop-color="#484aee"/><stop offset="0.0273" stop-color="#4758f8"/><stop offset="0.0485" stop-color="#426afe"/><stop offset="0.0576" stop-color="#3c71ff"/><stop offset="0.0727" stop-color="#327cfc"/><stop offset="0.0848" stop-color="#2e83f9"/><stop offset="0.1061" stop-color="#2d8df2"/><stop offset="0.1576" stop-color="#23a1e5"/><stop offset="0.1879" stop-color="#19addc"/><stop offset="0.2182" stop-color="#01b7ca"/><stop offset="0.2303" stop-color="#02bbc3"/><stop offset="0.2667" stop-color="#26c2ad"/><stop offset="0.3091" stop-color="#3fca8e"/><stop offset="0.3455" stop-color="#60cd73"/><stop offset="0.4" stop-color="#8ccb50"/><stop offset="0.4515" stop-color="#c5c22a"/><stop offset="0.4697" stop-color="#d8be28"/><stop offset="0.4909" stop-color="#ecba32"/><stop offset="0.5061" stop-color="#f7ba3d"/><stop offset="0.5121" stop-color="#fbbc3d"/><stop offset="0.5212" stop-color="#febe3c"/><stop offset="0.5485" stop-color="#feca34"/><stop offset="0.5848" stop-color="#f8d92c"/><stop offset="0.6273" stop-color="#f5e526"/><stop offset="0.6485" stop-color="#f5e526"/><stop offset="0.6727" stop-color="#f6de29"/><stop offset="0.7061" stop-color="#fdce31"/><stop offset="0.7394" stop-color="#febe3c"/><stop offset="0.7545" stop-color="#f7ba3c"/><stop offset="0.7727" stop-color="#eabb30"/><stop offset="0.7909" stop-color="#d9be28"/><stop offset="0.8091" stop-color="#c5c22a"/><stop offset="0.8394" stop-color="#9ec942"/><stop offset="0.8727" stop-color="#6bcd69"/><stop offset="0.9091" stop-color="#3eca8f"/><stop offset="0.9424" stop-color="#2cc4a7"/><stop offset="1" stop-color="#09bcbe"/></linearGradient><linearGradient id="r54"><stop offset="0" stop-color="#473fe2"/><stop offset="0.0121" stop-color="#484aee"/><stop offset="0.0273" stop-color="#4758f8"/><stop offset="0.0455" stop-color="#4368fe"/><stop offset="0.0576" stop-color="#3b72ff"/><stop offset="0.0788" stop-color="#2f81fa"/><stop offset="0.1545" stop-color="#23a1e5"/><stop offset="0.1848" stop-color="#19addc"/><stop offset="0.2152" stop-color="#01b8ca"/><stop offset="0.2212" stop-color="#01b9c6"/><stop offset="0.2364" stop-color="#0abdbd"/><stop offset="0.2667" stop-color="#29c3aa"/><stop offset="0.303" stop-color="#3eca8f"/><stop offset="0.3424" stop-color="#60cd73"/><stop offset="0.403" stop-color="#8dcb4f"/><stop offset="0.4515" stop-color="#c4c22a"/><stop offset="0.4727" stop-color="#dbbd28"/><stop offset="0.4848" stop-color="#e6bb2d"/><stop offset="0.5061" stop-color="#f6ba3c"/><stop offset="0.5182" stop-color="#fdbd3d"/><stop offset="0.5515" stop-color="#feca33"/><stop offset="0.6" stop-color="#f6df29"/><stop offset="0.6394" stop-color="#f5e924"/><stop offset="0.6727" stop-color="#f5e228"/><stop offset="0.7121" stop-color="#fdce31"/><stop offset="0.7455" stop-color="#febf3c"/><stop offset="0.7606" stop-color="#f7ba3d"/><stop offset="0.7697" stop-color="#f1ba37"/><stop offset="0.7848" stop-color="#e4bb2c"/><stop offset="0.797" stop-color="#d8be28"/><stop offset="0.8152" stop-color="#c5c22a"/><stop offset="0.8424" stop-color="#a0c941"/><stop offset="0.8606" stop-color="#83cc57"/><stop offset="0.8758" stop-color="#6bcd69"/><stop offset="0.9091" stop-color="#41ca8c"/><stop offset="0.9212" stop-color="#37c897"/><stop offset="0.9394" stop-color="#2ec5a4"/><stop offset="0.9606" stop-color="#24c1af"/><stop offset="1" stop-color="#0abdbe"/></linearGradient><linearGradient id="r55"><stop offset="0" stop-color="#473ee2"/><stop offset="0.0121" stop-color="#484aee"/><stop offset="0.0273" stop-color="#4758f8"/><stop offset="0.0424" stop-color="#4466fd"/><stop offset="0.0545" stop-color="#3d71ff"/><stop offset="0.0697" stop-color="#327cfc"/><stop offset="0.0818" stop-color="#2e84f9"/><stop offset="0.1485" stop-color="#249fe5"/><stop offset="0.1818" stop-color="#19addc"/><stop offset="0.2121" stop-color="#01b8ca"/><stop offset="0.2182" stop-color="#01b9c6"/><stop offset="0.2303" stop-color="#08bcbf"/><stop offset="0.2576" stop-color="#25c2ae"/><stop offset="0.2909" stop-color="#38c895"/><stop offset="0.3152" stop-color="#4dcc82"/><stop offset="0.3394" stop-color="#60cd72"/><stop offset="0.4" stop-color="#88cb53"/><stop offset="0.4182" stop-color="#9ac945"/><stop offset="0.4515" stop-color="#c4c22b"/><stop offset="0.4636" stop-color="#d1bf27"/><stop offset="0.4727" stop-color="#d9bd28"/><stop offset="0.4848" stop-color="#e5bb2c"/><stop offset="0.5091" stop-color="#f7ba3d"/><stop offset="0.5152" stop-color="#fbbc3d"/><stop offset="0.5242" stop-color="#febe3c"/><stop offset="0.5515" stop-color="#feca33"/><stop offset="0.6061" stop-color="#f5e128"/><stop offset="0.6424" stop-color="#f5ec22"/><stop offset="0.6727" stop-color="#f5e626"/><stop offset="0.7273" stop-color="#feca33"/><stop offset="0.7545" stop-color="#febd3c"/><stop offset="0.7667" stop-color="#f7ba3c"/><stop offset="0.7879" stop-color="#e6bb2d"/><stop offset="0.8" stop-color="#dabd28"/><stop offset="0.8091" stop-color="#d1bf27"/><stop offset="0.8212" stop-color="#c4c22b"/><stop offset="0.8424" stop-color="#a5c83d"/><stop offset="0.8727" stop-color="#74cd62"/><stop offset="0.9061" stop-color="#47cb87"/><stop offset="0.9182" stop-color="#3bc992"/><stop offset="0.9424" stop-color="#2ec4a5"/><stop offset="1" stop-color="#0abdbd"/></linearGradient><linearGradient id="r56"><stop offset="0" stop-color="#463ee1"/><stop offset="0.0212" stop-color="#4853f5"/><stop offset="0.0455" stop-color="#426afe"/><stop offset="0.0545" stop-color="#3c72ff"/><stop offset="0.0667" stop-color="#327bfc"/><stop offset="0.0788" stop-color="#2e83f9"/><stop offset="0.1091" stop-color="#2b91ef"/><stop offset="0.1697" stop-color="#1da9e0"/><stop offset="0.1879" stop-color="#13b0d7"/><stop offset="0.2091" stop-color="#01b8ca"/><stop offset="0.2152" stop-color="#01b9c6"/><stop offset="0.2273" stop-color="#08bcbf"/><stop offset="0.2545" stop-color="#25c2ae"/><stop offset="0.297" stop-color="#3fca8e"/><stop offset="0.3182" stop-color="#54cc7d"/><stop offset="0.3303" stop-color="#5ccc75"/><stop offset="0.4" stop-color="#86cb55"/><stop offset="0.4212" stop-color="#9bc944"/><stop offset="0.4515" stop-color="#c2c22b"/><stop offset="0.4667" stop-color="#d2bf27"/><stop offset="0.4788" stop-color="#debd29"/><stop offset="0.5091" stop-color="#f6ba3c"/><stop offset="0.5212" stop-color="#fdbd3d"/><stop offset="0.5545" stop-color="#feca33"/><stop offset="0.6061" stop-color="#f5e228"/><stop offset="0.6424" stop-color="#f5ef21"/><stop offset="0.6667" stop-color="#f5ec23"/><stop offset="0.6939" stop-color="#f6dd29"/><stop offset="0.7333" stop-color="#feca33"/><stop offset="0.7576" stop-color="#febe3c"/><stop offset="0.7727" stop-color="#f7ba3c"/><stop offset="0.7939" stop-color="#e4bb2c"/><stop offset="0.8061" stop-color="#d8be28"/><stop offset="0.8242" stop-color="#c6c22a"/><stop offset="0.8394" stop-color="#afc636"/><stop offset="0.8758" stop-color="#72cd63"/><stop offset="0.9152" stop-color="#3fca8e"/><stop offset="0.9485" stop-color="#2bc3a8"/><stop offset="1" stop-color="#0abdbd"/></linearGradient><linearGradient id="r57"><stop offset="0" stop-color="#463ee1"/><stop offset="0.0121" stop-color="#484aee"/><stop offset="0.0303" stop-color="#475cfa"/><stop offset="0.0485" stop-color="#406dfe"/><stop offset="0.0606" stop-color="#3678fe"/><stop offset="0.0727" stop-color="#2f80fa"/><stop offset="0.1" stop-color="#2c8ff1"/><stop offset="0.1697" stop-color="#1caadf"/><stop offset="0.1818" stop-color="#16afd9"/><stop offset="0.2061" stop-color="#01b7ca"/><stop offset="0.2121" stop-color="#01b9c7"/><stop offset="0.2212" stop-color="#05bbc1"/><stop offset="0.2515" stop-color="#25c2ae"/><stop offset="0.2939" stop-color="#3fca8e"/><stop offset="0.3273" stop-color="#5dcc75"/><stop offset="0.3788" stop-color="#76cc60"/><stop offset="0.4" stop-color="#84cc56"/><stop offset="0.4212" stop-color="#99c946"/><stop offset="0.4545" stop-color="#c4c22a"/><stop offset="0.4758" stop-color="#d9bd28"/><stop offset="0.4879" stop-color="#e4bb2c"/><stop offset="0.5121" stop-color="#f7ba3c"/><stop offset="0.5212" stop-color="#fcbc3d"/><stop offset="0.5545" stop-color="#fec934"/><stop offset="0.597" stop-color="#f6de29"/><stop offset="0.6242" stop-color="#f5eb23"/><stop offset="0.6515" stop-color="#f6f21e"/><stop offset="0.6727" stop-color="#f5ec22"/><stop offset="0.6909" stop-color="#f5e227"/><stop offset="0.7394" stop-color="#feca34"/><stop offset="0.7636" stop-color="#febe3c"/><stop offset="0.7758" stop-color="#f7ba3d"/><stop offset="0.797" stop-color="#e5bb2c"/><stop offset="0.8091" stop-color="#d9be28"/><stop offset="0.8273" stop-color="#c6c22a"/><stop offset="0.8424" stop-color="#aec637"/><stop offset="0.8758" stop-color="#75cc61"/><stop offset="0.9152" stop-color="#40ca8d"/><stop offset="0.9273" stop-color="#36c898"/><stop offset="0.9485" stop-color="#2bc3a8"/><stop offset="1" stop-color="#09bcbe"/></linearGradient><linearGradient id="r58"><stop offset="0" stop-color="#463ee1"/><stop offset="0.0242" stop-color="#4756f7"/><stop offset="0.0424" stop-color="#4368fe"/><stop offset="0.0515" stop-color="#3d70ff"/><stop offset="0.0667" stop-color="#317dfc"/><stop offset="0.0758" stop-color="#2e83f9"/><stop offset="0.1" stop-color="#2c90f0"/><stop offset="0.1697" stop-color="#1babde"/><stop offset="0.1848" stop-color="#12b1d6"/><stop offset="0.203" stop-color="#02b7cb"/><stop offset="0.2121" stop-color="#01bac5"/><stop offset="0.2212" stop-color="#07bcbf"/><stop offset="0.2485" stop-color="#25c2ae"/><stop offset="0.2909" stop-color="#3fca8e"/><stop offset="0.3212" stop-color="#5acc78"/><stop offset="0.3758" stop-color="#73cd62"/><stop offset="0.397" stop-color="#80cc59"/><stop offset="0.4121" stop-color="#8dcb4f"/><stop offset="0.4424" stop-color="#b3c534"/><stop offset="0.4576" stop-color="#c5c22a"/><stop offset="0.4788" stop-color="#dbbd28"/><stop offset="0.5152" stop-color="#f8ba3d"/><stop offset="0.5212" stop-color="#fbbc3d"/><stop offset="0.5303" stop-color="#febe3c"/><stop offset="0.5576" stop-color="#feca33"/><stop offset="0.603" stop-color="#f5e128"/><stop offset="0.6242" stop-color="#f5ec22"/><stop offset="0.6485" stop-color="#f7f31d"/><stop offset="0.6788" stop-color="#f5ec23"/><stop offset="0.697" stop-color="#f5e227"/><stop offset="0.7333" stop-color="#fccf30"/><stop offset="0.7667" stop-color="#febe3c"/><stop offset="0.7788" stop-color="#f8ba3d"/><stop offset="0.803" stop-color="#e2bc2b"/><stop offset="0.8121" stop-color="#d9be28"/><stop offset="0.8273" stop-color="#c8c129"/><stop offset="0.8455" stop-color="#abc739"/><stop offset="0.8788" stop-color="#73cd63"/><stop offset="0.9152" stop-color="#41ca8c"/><stop offset="0.9485" stop-color="#2bc3a8"/><stop offset="1" stop-color="#07bcbf"/></linearGradient><linearGradient id="r59"><stop offset="0" stop-color="#463ee1"/><stop offset="0.0121" stop-color="#484aee"/><stop offset="0.0273" stop-color="#4759f9"/><stop offset="0.0424" stop-color="#4368fe"/><stop offset="0.0515" stop-color="#3d71ff"/><stop offset="0.0636" stop-color="#327bfc"/><stop offset="0.0879" stop-color="#2d8bf4"/><stop offset="0.1364" stop-color="#249fe5"/><stop offset="0.1697" stop-color="#1aacdd"/><stop offset="0.203" stop-color="#01b8ca"/><stop offset="0.2091" stop-color="#01b9c6"/><stop offset="0.2182" stop-color="#06bcc0"/><stop offset="0.2455" stop-color="#25c2ae"/><stop offset="0.2879" stop-color="#3fca8e"/><stop offset="0.3212" stop-color="#5acc77"/><stop offset="0.3788" stop-color="#73cd63"/><stop offset="0.403" stop-color="#83cc57"/><stop offset="0.4242" stop-color="#99c946"/><stop offset="0.4576" stop-color="#c3c22b"/><stop offset="0.4697" stop-color="#d0bf27"/><stop offset="0.4788" stop-color="#d9be28"/><stop offset="0.4939" stop-color="#e7bb2d"/><stop offset="0.5121" stop-color="#f4ba3a"/><stop offset="0.5212" stop-color="#fabb3d"/><stop offset="0.5303" stop-color="#febd3c"/><stop offset="0.5576" stop-color="#fec934"/><stop offset="0.603" stop-color="#f5e228"/><stop offset="0.6242" stop-color="#f5ed22"/><stop offset="0.6485" stop-color="#f7f41c"/><stop offset="0.6818" stop-color="#f5ed22"/><stop offset="0.703" stop-color="#f5e228"/><stop offset="0.7273" stop-color="#fad52d"/><stop offset="0.7697" stop-color="#febe3c"/><stop offset="0.7818" stop-color="#f8ba3d"/><stop offset="0.803" stop-color="#e5bb2c"/><stop offset="0.8152" stop-color="#d8be28"/><stop offset="0.8303" stop-color="#c5c22a"/><stop offset="0.8455" stop-color="#aec637"/><stop offset="0.8697" stop-color="#84cc56"/><stop offset="0.8909" stop-color="#62cd70"/><stop offset="0.9152" stop-color="#41ca8c"/><stop offset="0.9394" stop-color="#30c5a2"/><stop offset="0.9545" stop-color="#27c2ac"/><stop offset="1" stop-color="#05bbc1"/></linearGradient><linearGradient id="r60"><stop offset="0" stop-color="#463ee1"/><stop offset="0.0152" stop-color="#484df1"/><stop offset="0.0273" stop-color="#475af9"/><stop offset="0.0424" stop-color="#4369fe"/><stop offset="0.0515" stop-color="#3c71ff"/><stop offset="0.0667" stop-color="#307efb"/><stop offset="0.1" stop-color="#2b92ee"/><stop offset="0.1697" stop-color="#19addb"/><stop offset="0.2" stop-color="#02b7cb"/><stop offset="0.2061" stop-color="#01b9c7"/><stop offset="0.2182" stop-color="#08bcbf"/><stop offset="0.2424" stop-color="#25c2ae"/><stop offset="0.2758" stop-color="#38c895"/><stop offset="0.3091" stop-color="#53cc7d"/><stop offset="0.3364" stop-color="#62cd71"/><stop offset="0.3727" stop-color="#6ecd66"/><stop offset="0.397" stop-color="#7ccc5c"/><stop offset="0.4212" stop-color="#93ca4a"/><stop offset="0.4606" stop-color="#c4c22b"/><stop offset="0.4727" stop-color="#d1bf27"/><stop offset="0.4818" stop-color="#dabd28"/><stop offset="0.5242" stop-color="#fabb3d"/><stop offset="0.5333" stop-color="#febd3c"/><stop offset="0.5606" stop-color="#feca33"/><stop offset="0.603" stop-color="#f5e228"/><stop offset="0.6303" stop-color="#f6f020"/><stop offset="0.6515" stop-color="#f7f51b"/><stop offset="0.6848" stop-color="#f5ee21"/><stop offset="0.7091" stop-color="#f5e228"/><stop offset="0.7424" stop-color="#fccf30"/><stop offset="0.7727" stop-color="#febe3c"/><stop offset="0.7848" stop-color="#f7ba3c"/><stop offset="0.803" stop-color="#e7bb2d"/><stop offset="0.8152" stop-color="#d9bd28"/><stop offset="0.8303" stop-color="#c6c22a"/><stop offset="0.8455" stop-color="#afc636"/><stop offset="0.8818" stop-color="#71cd64"/><stop offset="0.9182" stop-color="#3eca8f"/><stop offset="0.9364" stop-color="#31c6a0"/><stop offset="0.9636" stop-color="#1fc0b2"/><stop offset="0.9848" stop-color="#0bbdbc"/><stop offset="1" stop-color="#02bac3"/></linearGradient><linearGradient id="r61"><stop offset="0" stop-color="#463ee1"/><stop offset="0.0152" stop-color="#484df1"/><stop offset="0.0273" stop-color="#475af9"/><stop offset="0.0394" stop-color="#4466fd"/><stop offset="0.0515" stop-color="#3b72ff"/><stop offset="0.0636" stop-color="#317dfc"/><stop offset="0.1" stop-color="#2a93ee"/><stop offset="0.1667" stop-color="#19addc"/><stop offset="0.197" stop-color="#02b7cb"/><stop offset="0.2061" stop-color="#01bac5"/><stop offset="0.2182" stop-color="#0abdbd"/><stop offset="0.2364" stop-color="#21c1b0"/><stop offset="0.2455" stop-color="#29c3aa"/><stop offset="0.2818" stop-color="#3eca8f"/><stop offset="0.3121" stop-color="#56cc7b"/><stop offset="0.3303" stop-color="#5fcd73"/><stop offset="0.3788" stop-color="#6ecd66"/><stop offset="0.397" stop-color="#79cc5e"/><stop offset="0.4212" stop-color="#90ca4d"/><stop offset="0.4455" stop-color="#aec637"/><stop offset="0.4667" stop-color="#c7c129"/><stop offset="0.4879" stop-color="#ddbd29"/><stop offset="0.5273" stop-color="#fabb3d"/><stop offset="0.5364" stop-color="#febe3c"/><stop offset="0.5636" stop-color="#feca33"/><stop offset="0.603" stop-color="#f5e228"/><stop offset="0.6273" stop-color="#f5ef20"/><stop offset="0.6515" stop-color="#f7f61a"/><stop offset="0.6697" stop-color="#f7f51b"/><stop offset="0.6879" stop-color="#f5ef21"/><stop offset="0.7121" stop-color="#f5e227"/><stop offset="0.7424" stop-color="#fcd12f"/><stop offset="0.7758" stop-color="#febe3c"/><stop offset="0.7848" stop-color="#f9ba3d"/><stop offset="0.8091" stop-color="#e2bc2b"/><stop offset="0.8212" stop-color="#d4bf27"/><stop offset="0.8303" stop-color="#c8c129"/><stop offset="0.8515" stop-color="#a7c73c"/><stop offset="0.8727" stop-color="#82cc58"/><stop offset="0.8848" stop-color="#6dcd67"/><stop offset="0.9121" stop-color="#45cb88"/><stop offset="0.9273" stop-color="#36c898"/><stop offset="0.9424" stop-color="#2ec4a5"/><stop offset="0.9576" stop-color="#23c1af"/><stop offset="0.9818" stop-color="#0bbdbd"/><stop offset="1" stop-color="#01bac6"/></linearGradient><linearGradient id="r62"><stop offset="0" stop-color="#463de0"/><stop offset="0.0152" stop-color="#484df1"/><stop offset="0.0303" stop-color="#465dfb"/><stop offset="0.0485" stop-color="#3d70ff"/><stop offset="0.0606" stop-color="#327bfc"/><stop offset="0.1" stop-color="#2994ed"/><stop offset="0.1636" stop-color="#19addc"/><stop offset="0.197" stop-color="#01b8ca"/><stop offset="0.203" stop-color="#01b9c6"/><stop offset="0.2152" stop-color="#09bdbe"/><stop offset="0.2303" stop-color="#1dc0b3"/><stop offset="0.2455" stop-color="#2bc3a8"/><stop offset="0.2697" stop-color="#38c896"/><stop offset="0.3091" stop-color="#55cc7c"/><stop offset="0.3364" stop-color="#60cd72"/><stop offset="0.3788" stop-color="#6bcd69"/><stop offset="0.397" stop-color="#75cc61"/><stop offset="0.4212" stop-color="#8ccb50"/><stop offset="0.4485" stop-color="#aec637"/><stop offset="0.4697" stop-color="#c7c129"/><stop offset="0.4879" stop-color="#dabd28"/><stop offset="0.5303" stop-color="#fabb3d"/><stop offset="0.5394" stop-color="#febe3c"/><stop offset="0.5636" stop-color="#fec934"/><stop offset="0.603" stop-color="#f5e128"/><stop offset="0.6242" stop-color="#f5ee21"/><stop offset="0.6515" stop-color="#f8f719"/><stop offset="0.6727" stop-color="#f7f61a"/><stop offset="0.697" stop-color="#f5ed22"/><stop offset="0.7182" stop-color="#f5e128"/><stop offset="0.7576" stop-color="#feca34"/><stop offset="0.7758" stop-color="#febf3b"/><stop offset="0.7879" stop-color="#f8ba3d"/><stop offset="0.8061" stop-color="#e6bb2d"/><stop offset="0.8182" stop-color="#d9be28"/><stop offset="0.8333" stop-color="#c5c22a"/><stop offset="0.8576" stop-color="#9ec942"/><stop offset="0.8818" stop-color="#74cd62"/><stop offset="0.9182" stop-color="#3eca8f"/><stop offset="0.9515" stop-color="#27c2ac"/><stop offset="0.9818" stop-color="#08bcbe"/><stop offset="0.9909" stop-color="#02bac3"/><stop offset="1" stop-color="#01b9c8"/></linearGradient><linearGradient id="r63"><stop offset="0" stop-color="#463de0"/><stop offset="0.0152" stop-color="#484df1"/><stop offset="0.0303" stop-color="#465efb"/><stop offset="0.0485" stop-color="#3d71ff"/><stop offset="0.0636" stop-color="#307ffb"/><stop offset="0.1" stop-color="#2995ec"/><stop offset="0.1636" stop-color="#18aedb"/><stop offset="0.1939" stop-color="#01b7ca"/><stop offset="0.2" stop-color="#01b9c6"/><stop offset="0.2061" stop-color="#03bbc2"/><stop offset="0.2394" stop-color="#28c2ab"/><stop offset="0.2788" stop-color="#40ca8d"/><stop offset="0.3061" stop-color="#54cc7d"/><stop offset="0.3242" stop-color="#5ccc76"/><stop offset="0.3758" stop-color="#66cd6d"/><stop offset="0.4" stop-color="#73cd63"/><stop offset="0.4333" stop-color="#95ca49"/><stop offset="0.4697" stop-color="#c4c22b"/><stop offset="0.4818" stop-color="#d1bf27"/><stop offset="0.4909" stop-color="#dabd28"/><stop offset="0.5061" stop-color="#e6bb2d"/><stop offset="0.5303" stop-color="#f8ba3d"/><stop offset="0.5424" stop-color="#febd3c"/><stop offset="0.5758" stop-color="#fdce31"/><stop offset="0.6061" stop-color="#f5e327"/><stop offset="0.6333" stop-color="#f6f21e"/><stop offset="0.6545" stop-color="#f8f818"/><stop offset="0.6758" stop-color="#f8f719"/><stop offset="0.697" stop-color="#f5ef21"/><stop offset="0.7212" stop-color="#f5e128"/><stop offset="0.7606" stop-color="#fec934"/><stop offset="0.7788" stop-color="#febe3c"/><stop offset="0.7909" stop-color="#f7ba3c"/><stop offset="0.8152" stop-color="#debd29"/><stop offset="0.8242" stop-color="#d3bf27"/><stop offset="0.8333" stop-color="#c6c12a"/><stop offset="0.8485" stop-color="#afc636"/><stop offset="0.8758" stop-color="#80cc59"/><stop offset="0.8939" stop-color="#61cd71"/><stop offset="0.9152" stop-color="#42ca8b"/><stop offset="0.9273" stop-color="#36c898"/><stop offset="0.9485" stop-color="#28c3ab"/><stop offset="0.9818" stop-color="#06bcc0"/><stop offset="0.9909" stop-color="#01bac5"/><stop offset="1" stop-color="#01b8ca"/></linearGradient><linearGradient id="r64"><stop offset="0" stop-color="#463cdf"/><stop offset="0.0182" stop-color="#4851f3"/><stop offset="0.0394" stop-color="#4368fe"/><stop offset="0.0485" stop-color="#3c72ff"/><stop offset="0.0606" stop-color="#317dfc"/><stop offset="0.103" stop-color="#2797eb"/><stop offset="0.1515" stop-color="#1caadf"/><stop offset="0.1667" stop-color="#15afd8"/><stop offset="0.1909" stop-color="#02b7cb"/><stop offset="0.203" stop-color="#02bbc3"/><stop offset="0.2333" stop-color="#25c2ae"/><stop offset="0.2848" stop-color="#46cb87"/><stop offset="0.3061" stop-color="#55cc7c"/><stop offset="0.3273" stop-color="#5ccc76"/><stop offset="0.3758" stop-color="#62cd70"/><stop offset="0.403" stop-color="#70cd65"/><stop offset="0.4273" stop-color="#88cb53"/><stop offset="0.4545" stop-color="#abc739"/><stop offset="0.4758" stop-color="#c6c22a"/><stop offset="0.4879" stop-color="#d3bf27"/><stop offset="0.5" stop-color="#debd29"/><stop offset="0.5333" stop-color="#f7ba3c"/><stop offset="0.5424" stop-color="#fcbc3d"/><stop offset="0.5697" stop-color="#fec934"/><stop offset="0.6061" stop-color="#f5e228"/><stop offset="0.6273" stop-color="#f5ef20"/><stop offset="0.6455" stop-color="#f8f719"/><stop offset="0.6636" stop-color="#f9fa16"/><stop offset="0.7061" stop-color="#f5ec23"/><stop offset="0.7303" stop-color="#f6dd29"/><stop offset="0.7545" stop-color="#fdce31"/><stop offset="0.7818" stop-color="#febe3c"/><stop offset="0.7909" stop-color="#f8ba3d"/><stop offset="0.8152" stop-color="#dfbc2a"/><stop offset="0.8273" stop-color="#d1bf27"/><stop offset="0.8364" stop-color="#c4c22a"/><stop offset="0.8576" stop-color="#a2c83f"/><stop offset="0.8848" stop-color="#72cd63"/><stop offset="0.9182" stop-color="#3fca8e"/><stop offset="0.9394" stop-color="#2ec5a4"/><stop offset="0.9515" stop-color="#25c2ad"/><stop offset="0.9818" stop-color="#04bbc2"/><stop offset="0.9879" stop-color="#01bac5"/><stop offset="1" stop-color="#03b7cc"/></linearGradient><linearGradient id="r65"><stop offset="0" stop-color="#463cde"/><stop offset="0.0061" stop-color="#4743e7"/><stop offset="0.0242" stop-color="#4758f8"/><stop offset="0.0394" stop-color="#4369fe"/><stop offset="0.0455" stop-color="#3e6fff"/><stop offset="0.0636" stop-color="#2f80fa"/><stop offset="0.0909" stop-color="#2b92ef"/><stop offset="0.1576" stop-color="#19addc"/><stop offset="0.1879" stop-color="#02b7cb"/><stop offset="0.197" stop-color="#01bac5"/><stop offset="0.2091" stop-color="#0abdbd"/><stop offset="0.2333" stop-color="#27c2ac"/><stop offset="0.2758" stop-color="#41ca8c"/><stop offset="0.303" stop-color="#54cc7d"/><stop offset="0.3273" stop-color="#5bcc77"/><stop offset="0.3758" stop-color="#5ecd74"/><stop offset="0.3939" stop-color="#65cd6e"/><stop offset="0.4091" stop-color="#6fcd66"/><stop offset="0.4333" stop-color="#88cb53"/><stop offset="0.4606" stop-color="#acc738"/><stop offset="0.4788" stop-color="#c4c22b"/><stop offset="0.4909" stop-color="#d0bf27"/><stop offset="0.5" stop-color="#d9be28"/><stop offset="0.5152" stop-color="#e6bb2d"/><stop offset="0.5364" stop-color="#f7ba3c"/><stop offset="0.5455" stop-color="#fcbc3d"/><stop offset="0.5727" stop-color="#fec934"/><stop offset="0.603" stop-color="#f6de29"/><stop offset="0.6242" stop-color="#f5ed22"/><stop offset="0.6576" stop-color="#f9fa16"/><stop offset="0.6697" stop-color="#f9fa15"/><stop offset="0.6909" stop-color="#f7f51b"/><stop offset="0.7242" stop-color="#f5e327"/><stop offset="0.7636" stop-color="#feca33"/><stop offset="0.7818" stop-color="#febf3b"/><stop offset="0.7939" stop-color="#f7ba3c"/><stop offset="0.8121" stop-color="#e4bb2c"/><stop offset="0.8212" stop-color="#dabd28"/><stop offset="0.8394" stop-color="#c3c22b"/><stop offset="0.8545" stop-color="#abc739"/><stop offset="0.8879" stop-color="#70cd65"/><stop offset="0.9212" stop-color="#3dc990"/><stop offset="0.9515" stop-color="#25c2ae"/><stop offset="0.9818" stop-color="#03bbc2"/><stop offset="0.9939" stop-color="#01b8ca"/><stop offset="1" stop-color="#04b6cd"/></linearGradient><linearGradient id="r66"><stop offset="0" stop-color="#463cde"/><stop offset="0.0091" stop-color="#4746ea"/><stop offset="0.0242" stop-color="#4758f8"/><stop offset="0.0455" stop-color="#3e6fff"/><stop offset="0.0636" stop-color="#2f81fa"/><stop offset="0.0879" stop-color="#2b91ef"/><stop offset="0.1576" stop-color="#18aedb"/><stop offset="0.1879" stop-color="#01b7ca"/><stop offset="0.1939" stop-color="#01b9c6"/><stop offset="0.2061" stop-color="#09bdbe"/><stop offset="0.2212" stop-color="#1dc0b3"/><stop offset="0.2333" stop-color="#29c3aa"/><stop offset="0.2697" stop-color="#3eca8f"/><stop offset="0.297" stop-color="#51cc7f"/><stop offset="0.3242" stop-color="#59cc78"/><stop offset="0.3758" stop-color="#5acc77"/><stop offset="0.4091" stop-color="#68cd6b"/><stop offset="0.4303" stop-color="#7ccc5c"/><stop offset="0.4727" stop-color="#b4c533"/><stop offset="0.497" stop-color="#d0bf27"/><stop offset="0.5182" stop-color="#e4bb2c"/><stop offset="0.5273" stop-color="#ecba32"/><stop offset="0.5424" stop-color="#f8ba3d"/><stop offset="0.5515" stop-color="#fdbd3d"/><stop offset="0.5727" stop-color="#fec735"/><stop offset="0.6091" stop-color="#f5e228"/><stop offset="0.6242" stop-color="#f5ec23"/><stop offset="0.6515" stop-color="#f8f817"/><stop offset="0.6636" stop-color="#f9fb15"/><stop offset="0.6758" stop-color="#f9fa15"/><stop offset="0.6939" stop-color="#f7f51b"/><stop offset="0.7273" stop-color="#f5e327"/><stop offset="0.7667" stop-color="#feca33"/><stop offset="0.7848" stop-color="#febf3c"/><stop offset="0.7939" stop-color="#f9bb3d"/><stop offset="0.8091" stop-color="#eaba30"/><stop offset="0.8242" stop-color="#d9be28"/><stop offset="0.8303" stop-color="#d2bf27"/><stop offset="0.8455" stop-color="#bdc32e"/><stop offset="0.8576" stop-color="#a9c73a"/><stop offset="0.8879" stop-color="#74cd62"/><stop offset="0.9212" stop-color="#3eca8f"/><stop offset="0.9485" stop-color="#28c2ab"/><stop offset="0.9727" stop-color="#0abdbd"/><stop offset="0.9818" stop-color="#02bbc3"/><stop offset="0.9909" stop-color="#01b8c9"/><stop offset="1" stop-color="#05b6ce"/></linearGradient><linearGradient id="r67"><stop offset="0" stop-color="#463cde"/><stop offset="0.0091" stop-color="#4746ea"/><stop offset="0.0242" stop-color="#4757f8"/><stop offset="0.0455" stop-color="#3e70ff"/><stop offset="0.0606" stop-color="#307ffb"/><stop offset="0.0848" stop-color="#2c90f0"/><stop offset="0.1515" stop-color="#1aacdd"/><stop offset="0.1848" stop-color="#02b7cb"/><stop offset="0.1939" stop-color="#01bac5"/><stop offset="0.203" stop-color="#08bcbf"/><stop offset="0.2152" stop-color="#19bfb5"/><stop offset="0.2333" stop-color="#2bc3a8"/><stop offset="0.2788" stop-color="#45cb88"/><stop offset="0.3" stop-color="#52cc7e"/><stop offset="0.3182" stop-color="#57cc7a"/><stop offset="0.3818" stop-color="#57cc7a"/><stop offset="0.4152" stop-color="#65cd6e"/><stop offset="0.4364" stop-color="#7acc5d"/><stop offset="0.4727" stop-color="#abc739"/><stop offset="0.4939" stop-color="#c6c22a"/><stop offset="0.5121" stop-color="#d9bd28"/><stop offset="0.5212" stop-color="#e2bc2b"/><stop offset="0.5455" stop-color="#f7ba3c"/><stop offset="0.5576" stop-color="#febe3c"/><stop offset="0.5788" stop-color="#feca33"/><stop offset="0.6121" stop-color="#f5e227"/><stop offset="0.6333" stop-color="#f6f020"/><stop offset="0.6667" stop-color="#f9fb15"/><stop offset="0.6818" stop-color="#f9fa16"/><stop offset="0.7152" stop-color="#f5ec23"/><stop offset="0.7303" stop-color="#f5e327"/><stop offset="0.7697" stop-color="#feca33"/><stop offset="0.7879" stop-color="#febe3c"/><stop offset="0.797" stop-color="#f8ba3d"/><stop offset="0.8152" stop-color="#e6bb2d"/><stop offset="0.8273" stop-color="#d8be28"/><stop offset="0.8424" stop-color="#c5c22a"/><stop offset="0.8606" stop-color="#a8c73b"/><stop offset="0.8909" stop-color="#72cd64"/><stop offset="0.9242" stop-color="#3cc991"/><stop offset="0.9515" stop-color="#25c2ad"/><stop offset="0.9727" stop-color="#09bdbe"/><stop offset="0.9788" stop-color="#04bbc2"/><stop offset="0.9909" stop-color="#01b8c9"/><stop offset="1" stop-color="#06b5cf"/></linearGradient><linearGradient id="r68"><stop offset="0" stop-color="#463bdd"/><stop offset="0.0182" stop-color="#4850f3"/><stop offset="0.0303" stop-color="#465efb"/><stop offset="0.0455" stop-color="#3e70ff"/><stop offset="0.0606" stop-color="#307ffb"/><stop offset="0.097" stop-color="#2797eb"/><stop offset="0.1545" stop-color="#18aedb"/><stop offset="0.1848" stop-color="#01b8ca"/><stop offset="0.1909" stop-color="#01b9c6"/><stop offset="0.2" stop-color="#07bcbf"/><stop offset="0.2182" stop-color="#20c1b1"/><stop offset="0.2303" stop-color="#2bc3a8"/><stop offset="0.2758" stop-color="#44cb89"/><stop offset="0.297" stop-color="#50cc80"/><stop offset="0.3152" stop-color="#55cc7c"/><stop offset="0.3848" stop-color="#53cc7d"/><stop offset="0.4061" stop-color="#59cc78"/><stop offset="0.4212" stop-color="#62cd70"/><stop offset="0.4394" stop-color="#74cc62"/><stop offset="0.4818" stop-color="#aec637"/><stop offset="0.5" stop-color="#c5c22a"/><stop offset="0.5182" stop-color="#dabd28"/><stop offset="0.5303" stop-color="#e6bb2d"/><stop offset="0.5485" stop-color="#f6ba3c"/><stop offset="0.5606" stop-color="#febe3c"/><stop offset="0.5788" stop-color="#fec934"/><stop offset="0.6091" stop-color="#f6de29"/><stop offset="0.6273" stop-color="#f5eb23"/><stop offset="0.6667" stop-color="#f9fb15"/><stop offset="0.6818" stop-color="#f9fa15"/><stop offset="0.7" stop-color="#f7f51b"/><stop offset="0.7333" stop-color="#f5e327"/><stop offset="0.7727" stop-color="#feca33"/><stop offset="0.7909" stop-color="#febe3c"/><stop offset="0.8" stop-color="#f7ba3c"/><stop offset="0.8152" stop-color="#e8bb2e"/><stop offset="0.8273" stop-color="#dabd28"/><stop offset="0.8455" stop-color="#c3c22b"/><stop offset="0.8667" stop-color="#a0c840"/><stop offset="0.8939" stop-color="#6ecd66"/><stop offset="0.9212" stop-color="#40ca8d"/><stop offset="0.9455" stop-color="#2ac3a9"/><stop offset="0.9788" stop-color="#02bbc3"/><stop offset="0.9879" stop-color="#01b8c9"/><stop offset="1" stop-color="#08b5d0"/></linearGradient><linearGradient id="r69"><stop offset="0" stop-color="#463bdc"/><stop offset="0.0091" stop-color="#4745e9"/><stop offset="0.0212" stop-color="#4853f5"/><stop offset="0.0394" stop-color="#4369fe"/><stop offset="0.0455" stop-color="#3e70ff"/><stop offset="0.0606" stop-color="#307ffb"/><stop offset="0.0909" stop-color="#2994ed"/><stop offset="0.1424" stop-color="#1caadf"/><stop offset="0.1606" stop-color="#13b1d7"/><stop offset="0.1818" stop-color="#02b7cb"/><stop offset="0.1879" stop-color="#01b9c6"/><stop offset="0.2" stop-color="#0abdbd"/><stop offset="0.2182" stop-color="#23c1af"/><stop offset="0.2273" stop-color="#2bc3a8"/><stop offset="0.2636" stop-color="#3eca8f"/><stop offset="0.2909" stop-color="#4dcb82"/><stop offset="0.3121" stop-color="#53cc7d"/><stop offset="0.3939" stop-color="#4fcc80"/><stop offset="0.4121" stop-color="#55cc7c"/><stop offset="0.4242" stop-color="#5ccc75"/><stop offset="0.4455" stop-color="#72cd63"/><stop offset="0.4939" stop-color="#b6c532"/><stop offset="0.5061" stop-color="#c6c22a"/><stop offset="0.5212" stop-color="#d8be28"/><stop offset="0.5303" stop-color="#e2bc2b"/><stop offset="0.5545" stop-color="#f9ba3d"/><stop offset="0.5636" stop-color="#febe3c"/><stop offset="0.5939" stop-color="#fcd12f"/><stop offset="0.6182" stop-color="#f5e327"/><stop offset="0.6485" stop-color="#f7f41c"/><stop offset="0.6697" stop-color="#f9fb15"/><stop offset="0.6848" stop-color="#f9fa15"/><stop offset="0.703" stop-color="#f7f51b"/><stop offset="0.7364" stop-color="#f5e227"/><stop offset="0.7697" stop-color="#fdce31"/><stop offset="0.7909" stop-color="#febf3b"/><stop offset="0.8" stop-color="#f9ba3d"/><stop offset="0.8152" stop-color="#e9bb2f"/><stop offset="0.8273" stop-color="#dabd28"/><stop offset="0.8394" stop-color="#ccc028"/><stop offset="0.8485" stop-color="#bfc32d"/><stop offset="0.8606" stop-color="#acc738"/><stop offset="0.8909" stop-color="#73cd63"/><stop offset="0.9212" stop-color="#3fca8e"/><stop offset="0.9424" stop-color="#2cc4a7"/><stop offset="0.9727" stop-color="#04bbc2"/><stop offset="0.9848" stop-color="#01b8c9"/><stop offset="1" stop-color="#0bb3d2"/></linearGradient><linearGradient id="r70"><stop offset="0" stop-color="#463adb"/><stop offset="0.0121" stop-color="#4848ec"/><stop offset="0.0242" stop-color="#4756f7"/><stop offset="0.0394" stop-color="#4368fe"/><stop offset="0.0455" stop-color="#3e6fff"/><stop offset="0.0606" stop-color="#307ffb"/><stop offset="0.0939" stop-color="#2896ec"/><stop offset="0.1485" stop-color="#19addc"/><stop offset="0.1697" stop-color="#08b4d1"/><stop offset="0.1848" stop-color="#01b9c7"/><stop offset="0.1939" stop-color="#06bcc0"/><stop offset="0.2152" stop-color="#23c1af"/><stop offset="0.2242" stop-color="#2bc3a8"/><stop offset="0.2667" stop-color="#41ca8c"/><stop offset="0.2939" stop-color="#4ecc82"/><stop offset="0.3273" stop-color="#51cc7f"/><stop offset="0.3848" stop-color="#49cb85"/><stop offset="0.403" stop-color="#4bcb83"/><stop offset="0.4273" stop-color="#57cc7a"/><stop offset="0.4424" stop-color="#66cd6d"/><stop offset="0.4576" stop-color="#7acc5e"/><stop offset="0.497" stop-color="#b3c534"/><stop offset="0.5121" stop-color="#c7c129"/><stop offset="0.5212" stop-color="#d2bf27"/><stop offset="0.5333" stop-color="#e0bc2a"/><stop offset="0.5545" stop-color="#f6ba3c"/><stop offset="0.5636" stop-color="#fdbd3d"/><stop offset="0.5848" stop-color="#fec934"/><stop offset="0.6212" stop-color="#f5e327"/><stop offset="0.6697" stop-color="#f9fb15"/><stop offset="0.6879" stop-color="#f9fa15"/><stop offset="0.7121" stop-color="#f6f21e"/><stop offset="0.7394" stop-color="#f5e227"/><stop offset="0.7758" stop-color="#fdcc32"/><stop offset="0.7939" stop-color="#febe3c"/><stop offset="0.803" stop-color="#f7ba3c"/><stop offset="0.8182" stop-color="#e5bb2c"/><stop offset="0.8273" stop-color="#d9be28"/><stop offset="0.8333" stop-color="#d2bf27"/><stop offset="0.8485" stop-color="#bec32e"/><stop offset="0.8697" stop-color="#99c946"/><stop offset="0.8909" stop-color="#6fcd66"/><stop offset="0.9182" stop-color="#40ca8d"/><stop offset="0.9394" stop-color="#2cc4a7"/><stop offset="0.9606" stop-color="#0abdbd"/><stop offset="0.9697" stop-color="#02bac4"/><stop offset="0.9788" stop-color="#01b8ca"/><stop offset="1" stop-color="#11b1d6"/></linearGradient><linearGradient id="r71"><stop offset="0" stop-color="#4639da"/><stop offset="0.0212" stop-color="#4852f4"/><stop offset="0.0333" stop-color="#4660fc"/><stop offset="0.0485" stop-color="#3b72ff"/><stop offset="0.0606" stop-color="#307ffb"/><stop offset="0.097" stop-color="#2798ea"/><stop offset="0.1485" stop-color="#18aedb"/><stop offset="0.1667" stop-color="#09b4d1"/><stop offset="0.1818" stop-color="#01b9c7"/><stop offset="0.1939" stop-color="#09bcbe"/><stop offset="0.2061" stop-color="#1bc0b4"/><stop offset="0.2242" stop-color="#2dc4a6"/><stop offset="0.2667" stop-color="#42ca8b"/><stop offset="0.297" stop-color="#4ecc81"/><stop offset="0.3242" stop-color="#4fcc81"/><stop offset="0.3727" stop-color="#46cb88"/><stop offset="0.4" stop-color="#46cb87"/><stop offset="0.4182" stop-color="#4bcb83"/><stop offset="0.4273" stop-color="#51cc7f"/><stop offset="0.4515" stop-color="#6bcd69"/><stop offset="0.497" stop-color="#adc638"/><stop offset="0.5152" stop-color="#c6c22a"/><stop offset="0.5242" stop-color="#d1bf27"/><stop offset="0.5364" stop-color="#dfbc2a"/><stop offset="0.5576" stop-color="#f8ba3d"/><stop offset="0.5667" stop-color="#febd3c"/><stop offset="0.5879" stop-color="#fec934"/><stop offset="0.6242" stop-color="#f5e228"/><stop offset="0.6727" stop-color="#f9fb15"/><stop offset="0.6909" stop-color="#f9fa15"/><stop offset="0.7182" stop-color="#f6f020"/><stop offset="0.7515" stop-color="#f6de29"/><stop offset="0.7758" stop-color="#fdcd31"/><stop offset="0.7939" stop-color="#febf3b"/><stop offset="0.803" stop-color="#f8ba3d"/><stop offset="0.8152" stop-color="#e8bb2e"/><stop offset="0.8242" stop-color="#dabd28"/><stop offset="0.8303" stop-color="#d1bf27"/><stop offset="0.8455" stop-color="#bec32e"/><stop offset="0.8636" stop-color="#9ec942"/><stop offset="0.8909" stop-color="#66cd6d"/><stop offset="0.9091" stop-color="#48cb86"/><stop offset="0.9182" stop-color="#3bc992"/><stop offset="0.9394" stop-color="#27c2ac"/><stop offset="0.9545" stop-color="#0abdbd"/><stop offset="0.9606" stop-color="#03bbc2"/><stop offset="0.9727" stop-color="#02b7cb"/><stop offset="1" stop-color="#18aedb"/></linearGradient><linearGradient id="r72"><stop offset="0" stop-color="#4639d9"/><stop offset="0.0091" stop-color="#4743e7"/><stop offset="0.0242" stop-color="#4855f6"/><stop offset="0.0424" stop-color="#426afe"/><stop offset="0.0485" stop-color="#3c71ff"/><stop offset="0.0576" stop-color="#327bfc"/><stop offset="0.0636" stop-color="#2f81fa"/><stop offset="0.097" stop-color="#2798ea"/><stop offset="0.1424" stop-color="#1aacdd"/><stop offset="0.1758" stop-color="#01b7ca"/><stop offset="0.1818" stop-color="#01b9c6"/><stop offset="0.1879" stop-color="#04bbc1"/><stop offset="0.2091" stop-color="#21c1b0"/><stop offset="0.2182" stop-color="#2ac3a9"/><stop offset="0.2576" stop-color="#3eca8f"/><stop offset="0.2909" stop-color="#4ccb83"/><stop offset="0.3182" stop-color="#4ecc82"/><stop offset="0.3727" stop-color="#43ca8a"/><stop offset="0.4" stop-color="#43ca8a"/><stop offset="0.4182" stop-color="#48cb86"/><stop offset="0.4364" stop-color="#56cc7b"/><stop offset="0.4515" stop-color="#67cd6c"/><stop offset="0.497" stop-color="#aac73a"/><stop offset="0.5182" stop-color="#c6c22a"/><stop offset="0.5273" stop-color="#d1bf27"/><stop offset="0.5394" stop-color="#e0bc2a"/><stop offset="0.5576" stop-color="#f6ba3b"/><stop offset="0.5667" stop-color="#fdbd3d"/><stop offset="0.5909" stop-color="#feca33"/><stop offset="0.6273" stop-color="#f5e128"/><stop offset="0.6455" stop-color="#f5eb23"/><stop offset="0.6636" stop-color="#f8f719"/><stop offset="0.6758" stop-color="#f9fb15"/><stop offset="0.6939" stop-color="#f9fa16"/><stop offset="0.7273" stop-color="#f5ec22"/><stop offset="0.7545" stop-color="#f6dd2a"/><stop offset="0.7727" stop-color="#fcd12f"/><stop offset="0.797" stop-color="#febe3c"/><stop offset="0.8061" stop-color="#f5ba3b"/><stop offset="0.8152" stop-color="#e7bb2d"/><stop offset="0.8273" stop-color="#d1bf27"/><stop offset="0.8455" stop-color="#b8c431"/><stop offset="0.8636" stop-color="#97ca47"/><stop offset="0.8909" stop-color="#5ecc74"/><stop offset="0.9121" stop-color="#3dca90"/><stop offset="0.9364" stop-color="#25c2ad"/><stop offset="0.9545" stop-color="#04bbc2"/><stop offset="0.9636" stop-color="#01b8ca"/><stop offset="0.9848" stop-color="#14b0d8"/><stop offset="1" stop-color="#1da9e0"/></linearGradient><linearGradient id="r73"><stop offset="0" stop-color="#4539d9"/><stop offset="0.0212" stop-color="#4850f3"/><stop offset="0.0394" stop-color="#4466fd"/><stop offset="0.0485" stop-color="#3d70ff"/><stop offset="0.0636" stop-color="#2f80fa"/><stop offset="0.097" stop-color="#2798ea"/><stop offset="0.1455" stop-color="#18aedb"/><stop offset="0.1636" stop-color="#09b4d1"/><stop offset="0.1788" stop-color="#01b9c7"/><stop offset="0.1909" stop-color="#09bdbe"/><stop offset="0.2091" stop-color="#23c1af"/><stop offset="0.2182" stop-color="#2bc3a8"/><stop offset="0.2545" stop-color="#3dc990"/><stop offset="0.2879" stop-color="#4bcb84"/><stop offset="0.3212" stop-color="#4ccb83"/><stop offset="0.3758" stop-color="#40ca8d"/><stop offset="0.403" stop-color="#41ca8c"/><stop offset="0.4242" stop-color="#49cb85"/><stop offset="0.4364" stop-color="#54cc7d"/><stop offset="0.4515" stop-color="#64cd6e"/><stop offset="0.4909" stop-color="#9ec942"/><stop offset="0.5182" stop-color="#c3c22b"/><stop offset="0.5364" stop-color="#d8be28"/><stop offset="0.5455" stop-color="#e5bb2c"/><stop offset="0.5606" stop-color="#f8ba3d"/><stop offset="0.5697" stop-color="#febe3c"/><stop offset="0.5909" stop-color="#fec934"/><stop offset="0.6333" stop-color="#f5e227"/><stop offset="0.6636" stop-color="#f7f61a"/><stop offset="0.6788" stop-color="#f9fb15"/><stop offset="0.703" stop-color="#f8f818"/><stop offset="0.7273" stop-color="#f5ed22"/><stop offset="0.7485" stop-color="#f5e228"/><stop offset="0.7758" stop-color="#fccf30"/><stop offset="0.797" stop-color="#febf3c"/><stop offset="0.8061" stop-color="#f5ba3b"/><stop offset="0.8152" stop-color="#e5bb2d"/><stop offset="0.8242" stop-color="#d2bf27"/><stop offset="0.8424" stop-color="#b6c532"/><stop offset="0.8576" stop-color="#9cc943"/><stop offset="0.8909" stop-color="#56cc7b"/><stop offset="0.9061" stop-color="#3fca8e"/><stop offset="0.9333" stop-color="#24c1ae"/><stop offset="0.9455" stop-color="#0bbdbc"/><stop offset="0.9515" stop-color="#02bac3"/><stop offset="0.9606" stop-color="#02b7cb"/><stop offset="0.9848" stop-color="#19addc"/><stop offset="1" stop-color="#20a5e3"/></linearGradient><linearGradient id="r74"><stop offset="0" stop-color="#4538d8"/><stop offset="0.0121" stop-color="#4744e9"/><stop offset="0.0273" stop-color="#4756f7"/><stop offset="0.0364" stop-color="#4661fc"/><stop offset="0.0485" stop-color="#3e6fff"/><stop offset="0.0636" stop-color="#307ffb"/><stop offset="0.097" stop-color="#2798ea"/><stop offset="0.1394" stop-color="#1aacdd"/><stop offset="0.1727" stop-color="#01b7ca"/><stop offset="0.1788" stop-color="#01b9c6"/><stop offset="0.1879" stop-color="#08bcbf"/><stop offset="0.2061" stop-color="#22c1b0"/><stop offset="0.2152" stop-color="#2ac3a9"/><stop offset="0.2545" stop-color="#3eca8f"/><stop offset="0.2818" stop-color="#49cb85"/><stop offset="0.3121" stop-color="#4bcb84"/><stop offset="0.3788" stop-color="#3dca90"/><stop offset="0.4091" stop-color="#3fca8e"/><stop offset="0.4242" stop-color="#46cb88"/><stop offset="0.4485" stop-color="#5dcc74"/><stop offset="0.4758" stop-color="#84cc56"/><stop offset="0.5061" stop-color="#afc636"/><stop offset="0.5242" stop-color="#c5c22a"/><stop offset="0.5333" stop-color="#d0bf27"/><stop offset="0.5455" stop-color="#dfbc2a"/><stop offset="0.5636" stop-color="#f8ba3d"/><stop offset="0.5727" stop-color="#febd3c"/><stop offset="0.5939" stop-color="#fec934"/><stop offset="0.6364" stop-color="#f5e327"/><stop offset="0.6667" stop-color="#f8f719"/><stop offset="0.6818" stop-color="#f9fb15"/><stop offset="0.7" stop-color="#f8f917"/><stop offset="0.7364" stop-color="#f5e924"/><stop offset="0.7545" stop-color="#f6de29"/><stop offset="0.7758" stop-color="#fccf30"/><stop offset="0.797" stop-color="#febe3c"/><stop offset="0.803" stop-color="#f9bb3d"/><stop offset="0.8182" stop-color="#dcbd29"/><stop offset="0.8242" stop-color="#cec028"/><stop offset="0.8333" stop-color="#bdc32e"/><stop offset="0.8545" stop-color="#9ac945"/><stop offset="0.8788" stop-color="#64cd6f"/><stop offset="0.8909" stop-color="#4dcc82"/><stop offset="0.903" stop-color="#3cc991"/><stop offset="0.9303" stop-color="#21c1b0"/><stop offset="0.9455" stop-color="#04bbc1"/><stop offset="0.9545" stop-color="#02b7cb"/><stop offset="0.9788" stop-color="#19addc"/><stop offset="1" stop-color="#23a1e5"/></linearGradient><linearGradient id="r75"><stop offset="0" stop-color="#4537d6"/><stop offset="0.0091" stop-color="#4740e4"/><stop offset="0.0273" stop-color="#4854f6"/><stop offset="0.0424" stop-color="#4466fd"/><stop offset="0.0515" stop-color="#3d71ff"/><stop offset="0.0667" stop-color="#2f81fa"/><stop offset="0.0939" stop-color="#2896ec"/><stop offset="0.1394" stop-color="#19addc"/><stop offset="0.1697" stop-color="#02b7cb"/><stop offset="0.1758" stop-color="#01b9c6"/><stop offset="0.1848" stop-color="#07bcbf"/><stop offset="0.203" stop-color="#21c1b1"/><stop offset="0.2152" stop-color="#2cc4a7"/><stop offset="0.2455" stop-color="#3ac993"/><stop offset="0.2788" stop-color="#48cb86"/><stop offset="0.303" stop-color="#4acb85"/><stop offset="0.3758" stop-color="#3ac994"/><stop offset="0.3939" stop-color="#3ac994"/><stop offset="0.4182" stop-color="#3fca8e"/><stop offset="0.4333" stop-color="#49cb85"/><stop offset="0.4455" stop-color="#55cc7b"/><stop offset="0.4667" stop-color="#71cd64"/><stop offset="0.5061" stop-color="#abc739"/><stop offset="0.5273" stop-color="#c2c22b"/><stop offset="0.5455" stop-color="#d7be28"/><stop offset="0.5545" stop-color="#e4bb2c"/><stop offset="0.5697" stop-color="#f8ba3d"/><stop offset="0.5788" stop-color="#febe3c"/><stop offset="0.597" stop-color="#fec934"/><stop offset="0.6364" stop-color="#f5e228"/><stop offset="0.6636" stop-color="#f7f51b"/><stop offset="0.6818" stop-color="#f9fb15"/><stop offset="0.697" stop-color="#f9fa16"/><stop offset="0.7303" stop-color="#f5ec22"/><stop offset="0.7485" stop-color="#f5e128"/><stop offset="0.7758" stop-color="#fdce31"/><stop offset="0.7939" stop-color="#febf3b"/><stop offset="0.8" stop-color="#fabb3d"/><stop offset="0.8061" stop-color="#f1ba36"/><stop offset="0.8182" stop-color="#d8be28"/><stop offset="0.8273" stop-color="#c4c22b"/><stop offset="0.8394" stop-color="#adc738"/><stop offset="0.8576" stop-color="#8acb51"/><stop offset="0.8879" stop-color="#49cb85"/><stop offset="0.8939" stop-color="#3fca8e"/><stop offset="0.9182" stop-color="#29c3aa"/><stop offset="0.9424" stop-color="#02bac3"/><stop offset="0.9515" stop-color="#03b7cc"/><stop offset="0.9727" stop-color="#19addc"/><stop offset="1" stop-color="#249de6"/></linearGradient><linearGradient id="r76"><stop offset="0" stop-color="#4536d5"/><stop offset="0.0121" stop-color="#4742e6"/><stop offset="0.0242" stop-color="#484ff2"/><stop offset="0.0424" stop-color="#4564fd"/><stop offset="0.0515" stop-color="#3e6fff"/><stop offset="0.0636" stop-color="#317dfc"/><stop offset="0.103" stop-color="#269be8"/><stop offset="0.1394" stop-color="#18addb"/><stop offset="0.1576" stop-color="#08b4d1"/><stop offset="0.1727" stop-color="#01b9c7"/><stop offset="0.1788" stop-color="#03bbc2"/><stop offset="0.2" stop-color="#20c1b1"/><stop offset="0.2091" stop-color="#29c3aa"/><stop offset="0.2455" stop-color="#3bc992"/><stop offset="0.2727" stop-color="#46cb88"/><stop offset="0.3" stop-color="#48cb86"/><stop offset="0.3606" stop-color="#38c896"/><stop offset="0.3848" stop-color="#36c899"/><stop offset="0.403" stop-color="#37c897"/><stop offset="0.4242" stop-color="#3eca8f"/><stop offset="0.4485" stop-color="#53cc7d"/><stop offset="0.4697" stop-color="#71cd65"/><stop offset="0.5061" stop-color="#a5c83d"/><stop offset="0.5364" stop-color="#c5c22a"/><stop offset="0.5485" stop-color="#d2bf27"/><stop offset="0.5576" stop-color="#e0bc2a"/><stop offset="0.5727" stop-color="#f6ba3b"/><stop offset="0.5818" stop-color="#fdbd3d"/><stop offset="0.6091" stop-color="#fdce31"/><stop offset="0.6364" stop-color="#f5e228"/><stop offset="0.6606" stop-color="#f7f31d"/><stop offset="0.6848" stop-color="#f9fb15"/><stop offset="0.7" stop-color="#f8f917"/><stop offset="0.7273" stop-color="#f5ed22"/><stop offset="0.7455" stop-color="#f5e128"/><stop offset="0.7727" stop-color="#fdcd31"/><stop offset="0.7909" stop-color="#febf3b"/><stop offset="0.797" stop-color="#fabb3d"/><stop offset="0.8061" stop-color="#ecba32"/><stop offset="0.8152" stop-color="#d9be28"/><stop offset="0.8242" stop-color="#c5c22a"/><stop offset="0.8485" stop-color="#93ca4a"/><stop offset="0.8636" stop-color="#73cd63"/><stop offset="0.8848" stop-color="#46cb88"/><stop offset="0.8939" stop-color="#39c895"/><stop offset="0.9152" stop-color="#25c2ae"/><stop offset="0.9364" stop-color="#02bac3"/><stop offset="0.9424" stop-color="#01b8c9"/><stop offset="0.9485" stop-color="#05b6ce"/><stop offset="0.9697" stop-color="#1aacdd"/><stop offset="1" stop-color="#259be8"/></linearGradient><linearGradient id="r77"><stop offset="0" stop-color="#4536d2"/><stop offset="0.0091" stop-color="#463de0"/><stop offset="0.0242" stop-color="#484cf0"/><stop offset="0.0455" stop-color="#4465fd"/><stop offset="0.0545" stop-color="#3d70ff"/><stop offset="0.0697" stop-color="#2f81fa"/><stop offset="0.0909" stop-color="#2b92ee"/><stop offset="0.1333" stop-color="#1babde"/><stop offset="0.1485" stop-color="#10b2d5"/><stop offset="0.1636" stop-color="#02b7cb"/><stop offset="0.1758" stop-color="#03bbc3"/><stop offset="0.2061" stop-color="#28c2ab"/><stop offset="0.2424" stop-color="#3ac993"/><stop offset="0.2667" stop-color="#43ca8a"/><stop offset="0.2788" stop-color="#46cb88"/><stop offset="0.3" stop-color="#45cb88"/><stop offset="0.3515" stop-color="#36c898"/><stop offset="0.3788" stop-color="#33c69e"/><stop offset="0.4121" stop-color="#35c799"/><stop offset="0.4303" stop-color="#3cc991"/><stop offset="0.4485" stop-color="#4bcb83"/><stop offset="0.4909" stop-color="#89cb52"/><stop offset="0.5091" stop-color="#a1c840"/><stop offset="0.5303" stop-color="#b8c431"/><stop offset="0.5485" stop-color="#cac129"/><stop offset="0.5576" stop-color="#d9bd28"/><stop offset="0.5788" stop-color="#f7ba3c"/><stop offset="0.5879" stop-color="#febe3c"/><stop offset="0.6121" stop-color="#fdcd31"/><stop offset="0.6394" stop-color="#f5e327"/><stop offset="0.6606" stop-color="#f6f31d"/><stop offset="0.6818" stop-color="#f9fa16"/><stop offset="0.6939" stop-color="#f9fa16"/><stop offset="0.7182" stop-color="#f6f11f"/><stop offset="0.7394" stop-color="#f5e327"/><stop offset="0.7667" stop-color="#fdce31"/><stop offset="0.7879" stop-color="#febe3c"/><stop offset="0.7939" stop-color="#f9ba3d"/><stop offset="0.8121" stop-color="#d9be28"/><stop offset="0.8212" stop-color="#c5c22a"/><stop offset="0.8333" stop-color="#abc739"/><stop offset="0.8515" stop-color="#84cc56"/><stop offset="0.8788" stop-color="#48cb86"/><stop offset="0.8909" stop-color="#36c898"/><stop offset="0.903" stop-color="#2cc4a7"/><stop offset="0.9121" stop-color="#20c1b1"/><stop offset="0.9273" stop-color="#05bbc1"/><stop offset="0.9364" stop-color="#01b8c9"/><stop offset="0.9636" stop-color="#1aacdd"/><stop offset="1" stop-color="#2699ea"/></linearGradient><linearGradient id="r78"><stop offset="0" stop-color="#4435d0"/><stop offset="0.0121" stop-color="#463ee1"/><stop offset="0.0303" stop-color="#4850f3"/><stop offset="0.0485" stop-color="#4466fd"/><stop offset="0.0545" stop-color="#3f6eff"/><stop offset="0.0697" stop-color="#307ffb"/><stop offset="0.1182" stop-color="#22a2e4"/><stop offset="0.1455" stop-color="#12b1d7"/><stop offset="0.1636" stop-color="#01b7ca"/><stop offset="0.1727" stop-color="#02bac4"/><stop offset="0.1818" stop-color="#0abdbd"/><stop offset="0.2" stop-color="#24c1af"/><stop offset="0.2061" stop-color="#29c3aa"/><stop offset="0.2364" stop-color="#38c896"/><stop offset="0.2667" stop-color="#42ca8b"/><stop offset="0.3" stop-color="#42ca8b"/><stop offset="0.3424" stop-color="#34c79b"/><stop offset="0.3758" stop-color="#2ec5a4"/><stop offset="0.3939" stop-color="#2ec5a4"/><stop offset="0.4182" stop-color="#32c69e"/><stop offset="0.4394" stop-color="#3ac993"/><stop offset="0.4515" stop-color="#44cb89"/><stop offset="0.4818" stop-color="#70cd65"/><stop offset="0.5121" stop-color="#9ac945"/><stop offset="0.5485" stop-color="#c7c129"/><stop offset="0.5606" stop-color="#dabd28"/><stop offset="0.5727" stop-color="#ebba31"/><stop offset="0.5848" stop-color="#f8ba3d"/><stop offset="0.5939" stop-color="#febe3c"/><stop offset="0.6182" stop-color="#fdce31"/><stop offset="0.6394" stop-color="#f5e227"/><stop offset="0.6485" stop-color="#f5ea24"/><stop offset="0.6788" stop-color="#f8f917"/><stop offset="0.6939" stop-color="#f8f917"/><stop offset="0.7152" stop-color="#f6f11f"/><stop offset="0.7364" stop-color="#f5e327"/><stop offset="0.7667" stop-color="#feca33"/><stop offset="0.7818" stop-color="#febe3c"/><stop offset="0.7909" stop-color="#f5ba3b"/><stop offset="0.8" stop-color="#e8bb2e"/><stop offset="0.8061" stop-color="#ddbd29"/><stop offset="0.8121" stop-color="#d1bf27"/><stop offset="0.8182" stop-color="#c4c22b"/><stop offset="0.8364" stop-color="#9cc943"/><stop offset="0.8545" stop-color="#72cd64"/><stop offset="0.8758" stop-color="#44cb89"/><stop offset="0.8909" stop-color="#31c6a0"/><stop offset="0.9061" stop-color="#20c1b1"/><stop offset="0.9182" stop-color="#09bdbe"/><stop offset="0.9242" stop-color="#02bac4"/><stop offset="0.9303" stop-color="#01b8c9"/><stop offset="0.9364" stop-color="#05b6ce"/><stop offset="0.9545" stop-color="#18aedb"/><stop offset="1" stop-color="#2895ec"/></linearGradient><linearGradient id="r79"><stop offset="0" stop-color="#4434ce"/><stop offset="0.0121" stop-color="#463cdf"/><stop offset="0.0303" stop-color="#484df1"/><stop offset="0.0485" stop-color="#4564fd"/><stop offset="0.0576" stop-color="#3e6fff"/><stop offset="0.0727" stop-color="#307ffb"/><stop offset="0.0939" stop-color="#2c90f0"/><stop offset="0.1364" stop-color="#1aacdd"/><stop offset="0.1606" stop-color="#03b7cc"/><stop offset="0.1697" stop-color="#01b9c6"/><stop offset="0.1758" stop-color="#04bbc1"/><stop offset="0.2" stop-color="#24c1af"/><stop offset="0.2152" stop-color="#2fc5a3"/><stop offset="0.2485" stop-color="#3cc991"/><stop offset="0.2697" stop-color="#41ca8c"/><stop offset="0.297" stop-color="#40ca8d"/><stop offset="0.3636" stop-color="#2bc3a8"/><stop offset="0.3939" stop-color="#29c3aa"/><stop offset="0.4121" stop-color="#2cc4a6"/><stop offset="0.4394" stop-color="#34c79c"/><stop offset="0.4485" stop-color="#38c896"/><stop offset="0.4606" stop-color="#43ca8a"/><stop offset="0.5061" stop-color="#83cc57"/><stop offset="0.5212" stop-color="#9bc944"/><stop offset="0.5515" stop-color="#c9c129"/><stop offset="0.5667" stop-color="#debd29"/><stop offset="0.5879" stop-color="#f6ba3b"/><stop offset="0.597" stop-color="#fdbd3d"/><stop offset="0.6242" stop-color="#fccf30"/><stop offset="0.6455" stop-color="#f5e626"/><stop offset="0.6667" stop-color="#f7f31d"/><stop offset="0.6848" stop-color="#f8f818"/><stop offset="0.7152" stop-color="#f5ef20"/><stop offset="0.7333" stop-color="#f5e327"/><stop offset="0.7576" stop-color="#fdcd31"/><stop offset="0.7758" stop-color="#febf3b"/><stop offset="0.7848" stop-color="#f7ba3c"/><stop offset="0.7909" stop-color="#efba35"/><stop offset="0.8" stop-color="#e0bc2a"/><stop offset="0.8091" stop-color="#d0bf27"/><stop offset="0.8152" stop-color="#c4c22a"/><stop offset="0.8364" stop-color="#95ca49"/><stop offset="0.8515" stop-color="#6fcd66"/><stop offset="0.8727" stop-color="#40ca8d"/><stop offset="0.897" stop-color="#26c2ad"/><stop offset="0.9182" stop-color="#03bbc2"/><stop offset="0.9273" stop-color="#02b7ca"/><stop offset="0.9515" stop-color="#19addc"/><stop offset="1" stop-color="#2b91ef"/></linearGradient><linearGradient id="r80"><stop offset="0" stop-color="#4433cd"/><stop offset="0.0212" stop-color="#4742e6"/><stop offset="0.0333" stop-color="#484ff2"/><stop offset="0.0515" stop-color="#4466fd"/><stop offset="0.0606" stop-color="#3d71ff"/><stop offset="0.0727" stop-color="#317dfc"/><stop offset="0.1091" stop-color="#269ae9"/><stop offset="0.1394" stop-color="#19addc"/><stop offset="0.1515" stop-color="#0db3d3"/><stop offset="0.1636" stop-color="#01b7ca"/><stop offset="0.1727" stop-color="#02bac4"/><stop offset="0.1818" stop-color="#0abdbd"/><stop offset="0.2" stop-color="#23c1af"/><stop offset="0.2091" stop-color="#2bc3a8"/><stop offset="0.2394" stop-color="#38c896"/><stop offset="0.2636" stop-color="#3fca8e"/><stop offset="0.2909" stop-color="#3fca8e"/><stop offset="0.3697" stop-color="#25c2ae"/><stop offset="0.3909" stop-color="#23c1af"/><stop offset="0.4091" stop-color="#26c2ac"/><stop offset="0.4424" stop-color="#30c5a1"/><stop offset="0.4667" stop-color="#40ca8d"/><stop offset="0.4818" stop-color="#56cc7b"/><stop offset="0.5" stop-color="#6bcd69"/><stop offset="0.5333" stop-color="#a4c83e"/><stop offset="0.5545" stop-color="#c8c129"/><stop offset="0.5606" stop-color="#d0bf27"/><stop offset="0.5727" stop-color="#e0bc2a"/><stop offset="0.5939" stop-color="#f7ba3c"/><stop offset="0.603" stop-color="#fdbd3d"/><stop offset="0.6182" stop-color="#fec636"/><stop offset="0.6485" stop-color="#f5e626"/><stop offset="0.6667" stop-color="#f6f11f"/><stop offset="0.6818" stop-color="#f7f61a"/><stop offset="0.697" stop-color="#f7f51c"/><stop offset="0.7182" stop-color="#f5ec23"/><stop offset="0.7364" stop-color="#f6de29"/><stop offset="0.7485" stop-color="#fbd32e"/><stop offset="0.7727" stop-color="#febf3b"/><stop offset="0.7818" stop-color="#f7ba3d"/><stop offset="0.7879" stop-color="#efba35"/><stop offset="0.797" stop-color="#e0bc2a"/><stop offset="0.8061" stop-color="#d1bf27"/><stop offset="0.8121" stop-color="#c6c22a"/><stop offset="0.8303" stop-color="#9dc943"/><stop offset="0.8485" stop-color="#6ecd66"/><stop offset="0.8667" stop-color="#44cb89"/><stop offset="0.8758" stop-color="#37c898"/><stop offset="0.897" stop-color="#20c1b1"/><stop offset="0.9152" stop-color="#02bbc3"/><stop offset="0.9273" stop-color="#04b6cd"/><stop offset="0.9424" stop-color="#15afd8"/><stop offset="0.9515" stop-color="#1babde"/><stop offset="1" stop-color="#2c8ef1"/></linearGradient><linearGradient id="r81"><stop offset="0" stop-color="#4433cd"/><stop offset="0.0212" stop-color="#4741e5"/><stop offset="0.0333" stop-color="#484ef1"/><stop offset="0.0455" stop-color="#475cfa"/><stop offset="0.0606" stop-color="#3f6eff"/><stop offset="0.0758" stop-color="#317dfc"/><stop offset="0.103" stop-color="#2994ed"/><stop offset="0.1333" stop-color="#1da9e0"/><stop offset="0.1455" stop-color="#15afd8"/><stop offset="0.1545" stop-color="#0bb4d2"/><stop offset="0.1636" stop-color="#02b7cb"/><stop offset="0.1758" stop-color="#03bbc3"/><stop offset="0.2061" stop-color="#28c2ab"/><stop offset="0.2455" stop-color="#39c994"/><stop offset="0.2636" stop-color="#3eca8f"/><stop offset="0.2879" stop-color="#3eca8f"/><stop offset="0.3061" stop-color="#39c895"/><stop offset="0.3606" stop-color="#22c1b0"/><stop offset="0.3758" stop-color="#1dc0b2"/><stop offset="0.4121" stop-color="#21c1b0"/><stop offset="0.4485" stop-color="#2ec5a4"/><stop offset="0.4727" stop-color="#3eca8f"/><stop offset="0.5" stop-color="#5ecd74"/><stop offset="0.5424" stop-color="#acc738"/><stop offset="0.5576" stop-color="#c6c22a"/><stop offset="0.5727" stop-color="#dbbd28"/><stop offset="0.5848" stop-color="#e9bb2f"/><stop offset="0.6" stop-color="#f8ba3d"/><stop offset="0.6091" stop-color="#febd3c"/><stop offset="0.6242" stop-color="#fec934"/><stop offset="0.6424" stop-color="#f6de29"/><stop offset="0.6576" stop-color="#f5ea24"/><stop offset="0.6818" stop-color="#f7f41c"/><stop offset="0.6939" stop-color="#f7f31c"/><stop offset="0.7091" stop-color="#f5ef20"/><stop offset="0.7333" stop-color="#f6e029"/><stop offset="0.7576" stop-color="#feca33"/><stop offset="0.7727" stop-color="#febe3c"/><stop offset="0.7788" stop-color="#f9ba3d"/><stop offset="0.797" stop-color="#ddbd29"/><stop offset="0.8091" stop-color="#c7c129"/><stop offset="0.8152" stop-color="#bbc42f"/><stop offset="0.8242" stop-color="#a6c73c"/><stop offset="0.8455" stop-color="#70cd65"/><stop offset="0.8606" stop-color="#4acb84"/><stop offset="0.8667" stop-color="#3eca8f"/><stop offset="0.8879" stop-color="#28c2ab"/><stop offset="0.9121" stop-color="#02bbc3"/><stop offset="0.9242" stop-color="#04b6cd"/><stop offset="0.9364" stop-color="#12b1d6"/><stop offset="0.9545" stop-color="#1ea8e1"/><stop offset="1" stop-color="#2d8bf4"/></linearGradient><linearGradient id="r82"><stop offset="0" stop-color="#4433cc"/><stop offset="0.0182" stop-color="#473ee1"/><stop offset="0.0364" stop-color="#4850f3"/><stop offset="0.0545" stop-color="#4465fd"/><stop offset="0.0636" stop-color="#3e6fff"/><stop offset="0.0818" stop-color="#2f81fa"/><stop offset="0.1" stop-color="#2c90f0"/><stop offset="0.1364" stop-color="#1caadf"/><stop offset="0.1455" stop-color="#16afd9"/><stop offset="0.1636" stop-color="#03b7cc"/><stop offset="0.1727" stop-color="#01b9c6"/><stop offset="0.1788" stop-color="#04bbc1"/><stop offset="0.203" stop-color="#24c1ae"/><stop offset="0.2152" stop-color="#2dc4a6"/><stop offset="0.2485" stop-color="#39c994"/><stop offset="0.2727" stop-color="#3eca8f"/><stop offset="0.2939" stop-color="#3bc992"/><stop offset="0.3152" stop-color="#34c79c"/><stop offset="0.3485" stop-color="#24c1af"/><stop offset="0.3667" stop-color="#1ac0b5"/><stop offset="0.3788" stop-color="#17bfb6"/><stop offset="0.4061" stop-color="#19bfb5"/><stop offset="0.4515" stop-color="#2bc3a8"/><stop offset="0.4758" stop-color="#39c994"/><stop offset="0.4879" stop-color="#44cb89"/><stop offset="0.5061" stop-color="#5ccc75"/><stop offset="0.5182" stop-color="#73cd63"/><stop offset="0.5485" stop-color="#b0c636"/><stop offset="0.5636" stop-color="#c9c129"/><stop offset="0.5788" stop-color="#ddbd29"/><stop offset="0.603" stop-color="#f6ba3c"/><stop offset="0.6121" stop-color="#fdbd3d"/><stop offset="0.6273" stop-color="#fec934"/><stop offset="0.6515" stop-color="#f5e327"/><stop offset="0.6667" stop-color="#f5ed22"/><stop offset="0.6818" stop-color="#f6f21e"/><stop offset="0.6939" stop-color="#f6f21e"/><stop offset="0.7152" stop-color="#f5eb23"/><stop offset="0.7333" stop-color="#f6df29"/><stop offset="0.7485" stop-color="#fcd12f"/><stop offset="0.7697" stop-color="#febf3b"/><stop offset="0.7788" stop-color="#f7ba3c"/><stop offset="0.797" stop-color="#dabd28"/><stop offset="0.8091" stop-color="#c4c22b"/><stop offset="0.8212" stop-color="#a9c73a"/><stop offset="0.8424" stop-color="#72cd64"/><stop offset="0.8636" stop-color="#3fca8e"/><stop offset="0.8697" stop-color="#36c898"/><stop offset="0.8879" stop-color="#24c1ae"/><stop offset="0.903" stop-color="#0abdbd"/><stop offset="0.9091" stop-color="#03bbc3"/><stop offset="0.9182" stop-color="#01b7ca"/><stop offset="0.9394" stop-color="#17aeda"/><stop offset="0.9545" stop-color="#1fa6e2"/><stop offset="0.9758" stop-color="#2699e9"/><stop offset="1" stop-color="#2d89f6"/></linearGradient><linearGradient id="r83"><stop offset="0" stop-color="#4433cc"/><stop offset="0.0152" stop-color="#463bde"/><stop offset="0.0364" stop-color="#484ff2"/><stop offset="0.0545" stop-color="#4564fd"/><stop offset="0.0667" stop-color="#3d70ff"/><stop offset="0.0818" stop-color="#307ffb"/><stop offset="0.1061" stop-color="#2a93ed"/><stop offset="0.1394" stop-color="#1babde"/><stop offset="0.1515" stop-color="#12b1d6"/><stop offset="0.1576" stop-color="#0ab4d2"/><stop offset="0.1697" stop-color="#01b8c9"/><stop offset="0.1788" stop-color="#03bbc3"/><stop offset="0.2091" stop-color="#28c2ab"/><stop offset="0.2394" stop-color="#36c799"/><stop offset="0.2636" stop-color="#3cc991"/><stop offset="0.2909" stop-color="#3ac993"/><stop offset="0.3182" stop-color="#31c6a1"/><stop offset="0.3576" stop-color="#19bfb6"/><stop offset="0.3788" stop-color="#10beba"/><stop offset="0.4061" stop-color="#12beb9"/><stop offset="0.4394" stop-color="#1ec0b2"/><stop offset="0.4545" stop-color="#27c2ac"/><stop offset="0.4879" stop-color="#3bc992"/><stop offset="0.497" stop-color="#44cb89"/><stop offset="0.5121" stop-color="#5ccc76"/><stop offset="0.5303" stop-color="#81cc58"/><stop offset="0.5485" stop-color="#a8c73b"/><stop offset="0.5667" stop-color="#c7c12a"/><stop offset="0.5727" stop-color="#d0bf27"/><stop offset="0.5848" stop-color="#dfbc2a"/><stop offset="0.6091" stop-color="#f8ba3d"/><stop offset="0.6182" stop-color="#febf3c"/><stop offset="0.6364" stop-color="#fcd12f"/><stop offset="0.6485" stop-color="#f6dd29"/><stop offset="0.6636" stop-color="#f5e924"/><stop offset="0.6788" stop-color="#f6ef20"/><stop offset="0.6939" stop-color="#f6f020"/><stop offset="0.7182" stop-color="#f5e825"/><stop offset="0.7333" stop-color="#f6de29"/><stop offset="0.7455" stop-color="#fbd32e"/><stop offset="0.7697" stop-color="#febe3c"/><stop offset="0.7788" stop-color="#f5ba3b"/><stop offset="0.7939" stop-color="#ddbd29"/><stop offset="0.8" stop-color="#d3bf27"/><stop offset="0.8091" stop-color="#c1c32c"/><stop offset="0.8212" stop-color="#a5c83d"/><stop offset="0.8424" stop-color="#6ccd68"/><stop offset="0.8606" stop-color="#40ca8d"/><stop offset="0.8758" stop-color="#2ec5a4"/><stop offset="0.8879" stop-color="#20c1b1"/><stop offset="0.9061" stop-color="#03bbc2"/><stop offset="0.9152" stop-color="#01b8ca"/><stop offset="0.9303" stop-color="#11b2d5"/><stop offset="0.9455" stop-color="#1caadf"/><stop offset="0.9667" stop-color="#249de6"/><stop offset="1" stop-color="#2e86f7"/></linearGradient><linearGradient id="r84"><stop offset="0" stop-color="#4433cb"/><stop offset="0.0212" stop-color="#473fe3"/><stop offset="0.0424" stop-color="#4854f6"/><stop offset="0.0667" stop-color="#3f6eff"/><stop offset="0.0818" stop-color="#317dfc"/><stop offset="0.1273" stop-color="#22a2e4"/><stop offset="0.1545" stop-color="#10b2d5"/><stop offset="0.1697" stop-color="#01b7ca"/><stop offset="0.1788" stop-color="#02bac4"/><stop offset="0.1879" stop-color="#0bbdbd"/><stop offset="0.203" stop-color="#21c1b1"/><stop offset="0.2121" stop-color="#29c3aa"/><stop offset="0.2424" stop-color="#36c799"/><stop offset="0.2636" stop-color="#3bc992"/><stop offset="0.2879" stop-color="#39c994"/><stop offset="0.3121" stop-color="#32c69f"/><stop offset="0.3394" stop-color="#21c1b1"/><stop offset="0.3606" stop-color="#10beba"/><stop offset="0.3727" stop-color="#0bbdbd"/><stop offset="0.4" stop-color="#0abdbd"/><stop offset="0.4152" stop-color="#0dbdbb"/><stop offset="0.4485" stop-color="#1bc0b4"/><stop offset="0.4606" stop-color="#24c1af"/><stop offset="0.5" stop-color="#3eca8f"/><stop offset="0.5121" stop-color="#51cc7f"/><stop offset="0.5242" stop-color="#69cd6a"/><stop offset="0.5485" stop-color="#9fc941"/><stop offset="0.5667" stop-color="#c1c32c"/><stop offset="0.5788" stop-color="#d3bf27"/><stop offset="0.5879" stop-color="#debd29"/><stop offset="0.6152" stop-color="#fabb3d"/><stop offset="0.6212" stop-color="#febf3c"/><stop offset="0.6303" stop-color="#fec735"/><stop offset="0.6545" stop-color="#f6e028"/><stop offset="0.6697" stop-color="#f5ea24"/><stop offset="0.6848" stop-color="#f5ee21"/><stop offset="0.7061" stop-color="#f5ec23"/><stop offset="0.7182" stop-color="#f5e725"/><stop offset="0.7424" stop-color="#fad52d"/><stop offset="0.7545" stop-color="#feca33"/><stop offset="0.7697" stop-color="#febe3c"/><stop offset="0.7758" stop-color="#f8ba3d"/><stop offset="0.7879" stop-color="#e6bb2d"/><stop offset="0.7939" stop-color="#dbbd29"/><stop offset="0.8" stop-color="#d0bf27"/><stop offset="0.8061" stop-color="#c5c22a"/><stop offset="0.8182" stop-color="#a9c73a"/><stop offset="0.8394" stop-color="#6ecd67"/><stop offset="0.8576" stop-color="#41ca8c"/><stop offset="0.8636" stop-color="#37c897"/><stop offset="0.8727" stop-color="#2ec5a4"/><stop offset="0.8818" stop-color="#25c2ae"/><stop offset="0.897" stop-color="#0bbdbc"/><stop offset="0.903" stop-color="#04bbc2"/><stop offset="0.9121" stop-color="#01b8ca"/><stop offset="0.9333" stop-color="#16afd9"/><stop offset="0.9515" stop-color="#20a5e2"/><stop offset="0.9879" stop-color="#2d8cf3"/><stop offset="1" stop-color="#2e83f9"/></linearGradient><linearGradient id="r85"><stop offset="0" stop-color="#4433cb"/><stop offset="0.0242" stop-color="#4741e5"/><stop offset="0.0424" stop-color="#4853f5"/><stop offset="0.0606" stop-color="#4466fd"/><stop offset="0.0727" stop-color="#3b72ff"/><stop offset="0.0879" stop-color="#2f81fa"/><stop offset="0.1091" stop-color="#2a93ee"/><stop offset="0.1424" stop-color="#1babde"/><stop offset="0.1727" stop-color="#01b8ca"/><stop offset="0.1818" stop-color="#02bbc3"/><stop offset="0.1848" stop-color="#06bcc0"/><stop offset="0.203" stop-color="#1fc0b2"/><stop offset="0.2152" stop-color="#29c3a9"/><stop offset="0.2333" stop-color="#32c69f"/><stop offset="0.2636" stop-color="#3ac994"/><stop offset="0.2788" stop-color="#3ac994"/><stop offset="0.3121" stop-color="#30c5a2"/><stop offset="0.3273" stop-color="#27c2ac"/><stop offset="0.3545" stop-color="#0dbdbb"/><stop offset="0.3727" stop-color="#06bcc0"/><stop offset="0.4" stop-color="#05bbc1"/><stop offset="0.4303" stop-color="#0abdbd"/><stop offset="0.4455" stop-color="#10beba"/><stop offset="0.4667" stop-color="#1fc0b2"/><stop offset="0.4909" stop-color="#31c6a0"/><stop offset="0.5061" stop-color="#3dc990"/><stop offset="0.5242" stop-color="#5fcd73"/><stop offset="0.5515" stop-color="#9dc943"/><stop offset="0.5727" stop-color="#c4c22a"/><stop offset="0.5818" stop-color="#d1bf27"/><stop offset="0.5939" stop-color="#e0bc2a"/><stop offset="0.6182" stop-color="#fabb3d"/><stop offset="0.6242" stop-color="#febf3b"/><stop offset="0.6333" stop-color="#fec835"/><stop offset="0.6576" stop-color="#f6e028"/><stop offset="0.6758" stop-color="#f5ea24"/><stop offset="0.6879" stop-color="#f5ec23"/><stop offset="0.703" stop-color="#f5eb23"/><stop offset="0.7212" stop-color="#f5e427"/><stop offset="0.7485" stop-color="#fccf30"/><stop offset="0.7667" stop-color="#febf3b"/><stop offset="0.7758" stop-color="#f7ba3c"/><stop offset="0.7879" stop-color="#e4bb2c"/><stop offset="0.7939" stop-color="#d9bd28"/><stop offset="0.803" stop-color="#c8c129"/><stop offset="0.8091" stop-color="#bcc42f"/><stop offset="0.8212" stop-color="#9ec942"/><stop offset="0.8364" stop-color="#71cd64"/><stop offset="0.8576" stop-color="#3dc990"/><stop offset="0.8636" stop-color="#35c79b"/><stop offset="0.8788" stop-color="#25c2ae"/><stop offset="0.9" stop-color="#04bbc1"/><stop offset="0.9091" stop-color="#01b8c9"/><stop offset="0.9364" stop-color="#1aacdd"/><stop offset="0.9727" stop-color="#2896ec"/><stop offset="1" stop-color="#2f80fa"/></linearGradient><linearGradient id="r86"><stop offset="0" stop-color="#4332cb"/><stop offset="0.0242" stop-color="#4740e4"/><stop offset="0.0424" stop-color="#4852f4"/><stop offset="0.0667" stop-color="#426afe"/><stop offset="0.0727" stop-color="#3d70ff"/><stop offset="0.0879" stop-color="#307ffb"/><stop offset="0.1273" stop-color="#23a0e5"/><stop offset="0.1515" stop-color="#16afd9"/><stop offset="0.1727" stop-color="#02b7cb"/><stop offset="0.1818" stop-color="#02bac4"/><stop offset="0.1939" stop-color="#0fbeba"/><stop offset="0.2061" stop-color="#20c1b1"/><stop offset="0.2212" stop-color="#2cc4a7"/><stop offset="0.2455" stop-color="#34c79b"/><stop offset="0.2727" stop-color="#39c895"/><stop offset="0.297" stop-color="#34c79c"/><stop offset="0.3121" stop-color="#2ec4a4"/><stop offset="0.3242" stop-color="#26c2ad"/><stop offset="0.3485" stop-color="#0cbdbc"/><stop offset="0.3697" stop-color="#02bbc3"/><stop offset="0.4121" stop-color="#02bac4"/><stop offset="0.4364" stop-color="#05bbc1"/><stop offset="0.4636" stop-color="#11beb9"/><stop offset="0.4818" stop-color="#24c2ae"/><stop offset="0.503" stop-color="#34c79c"/><stop offset="0.5121" stop-color="#3eca8f"/><stop offset="0.5364" stop-color="#70cd65"/><stop offset="0.5576" stop-color="#a1c840"/><stop offset="0.5758" stop-color="#c3c22b"/><stop offset="0.5848" stop-color="#d0bf27"/><stop offset="0.6" stop-color="#e2bc2b"/><stop offset="0.6182" stop-color="#f7ba3c"/><stop offset="0.6242" stop-color="#fdbd3d"/><stop offset="0.6424" stop-color="#fdce31"/><stop offset="0.6576" stop-color="#f7dd2a"/><stop offset="0.6818" stop-color="#f5e924"/><stop offset="0.703" stop-color="#f5e924"/><stop offset="0.7212" stop-color="#f5e327"/><stop offset="0.7455" stop-color="#fcd12f"/><stop offset="0.7667" stop-color="#febf3b"/><stop offset="0.7758" stop-color="#f6ba3b"/><stop offset="0.7909" stop-color="#ddbd29"/><stop offset="0.797" stop-color="#d2bf27"/><stop offset="0.8091" stop-color="#b9c430"/><stop offset="0.8152" stop-color="#abc739"/><stop offset="0.8394" stop-color="#63cd6f"/><stop offset="0.8545" stop-color="#3fca8e"/><stop offset="0.8697" stop-color="#2cc4a7"/><stop offset="0.8818" stop-color="#1cc0b4"/><stop offset="0.8909" stop-color="#0cbdbc"/><stop offset="0.9" stop-color="#02bac4"/><stop offset="0.9061" stop-color="#01b8c9"/><stop offset="0.9121" stop-color="#05b6ce"/><stop offset="0.9242" stop-color="#13b1d7"/><stop offset="0.9394" stop-color="#1da9e0"/><stop offset="0.9697" stop-color="#2896ec"/><stop offset="1" stop-color="#317dfc"/></linearGradient><linearGradient id="r87"><stop offset="0" stop-color="#4332ca"/><stop offset="0.0212" stop-color="#463de0"/><stop offset="0.0424" stop-color="#4850f3"/><stop offset="0.0667" stop-color="#4368fe"/><stop offset="0.0758" stop-color="#3c71ff"/><stop offset="0.0909" stop-color="#2f80fa"/><stop offset="0.1061" stop-color="#2d8df2"/><stop offset="0.1273" stop-color="#249fe6"/><stop offset="0.1545" stop-color="#15afd8"/><stop offset="0.1758" stop-color="#01b7ca"/><stop offset="0.1848" stop-color="#02bac3"/><stop offset="0.203" stop-color="#1ac0b5"/><stop offset="0.2121" stop-color="#24c1ae"/><stop offset="0.2242" stop-color="#2cc4a7"/><stop offset="0.2606" stop-color="#36c898"/><stop offset="0.2727" stop-color="#37c898"/><stop offset="0.3" stop-color="#31c6a0"/><stop offset="0.3121" stop-color="#2cc4a7"/><stop offset="0.3273" stop-color="#1ec0b2"/><stop offset="0.3424" stop-color="#0bbdbc"/><stop offset="0.3576" stop-color="#02bac4"/><stop offset="0.3818" stop-color="#01b9c8"/><stop offset="0.4121" stop-color="#01b9c8"/><stop offset="0.4515" stop-color="#02bbc3"/><stop offset="0.4697" stop-color="#0abdbd"/><stop offset="0.4848" stop-color="#1dc0b3"/><stop offset="0.5061" stop-color="#31c6a0"/><stop offset="0.5152" stop-color="#3bc992"/><stop offset="0.5303" stop-color="#59cc78"/><stop offset="0.5394" stop-color="#6fcd66"/><stop offset="0.5636" stop-color="#a7c73c"/><stop offset="0.5758" stop-color="#bec32e"/><stop offset="0.5909" stop-color="#d3bf27"/><stop offset="0.597" stop-color="#dabd28"/><stop offset="0.6091" stop-color="#e9bb2f"/><stop offset="0.6212" stop-color="#f8ba3d"/><stop offset="0.6273" stop-color="#fdbd3d"/><stop offset="0.6394" stop-color="#fec934"/><stop offset="0.6636" stop-color="#f6df29"/><stop offset="0.6848" stop-color="#f5e725"/><stop offset="0.7091" stop-color="#f5e626"/><stop offset="0.7242" stop-color="#f6e028"/><stop offset="0.7485" stop-color="#fdce31"/><stop offset="0.7667" stop-color="#febe3c"/><stop offset="0.7727" stop-color="#f9bb3d"/><stop offset="0.7788" stop-color="#f1ba36"/><stop offset="0.7848" stop-color="#e7bb2d"/><stop offset="0.797" stop-color="#d0c028"/><stop offset="0.8061" stop-color="#bdc32e"/><stop offset="0.8152" stop-color="#a8c73b"/><stop offset="0.8364" stop-color="#67cd6c"/><stop offset="0.8545" stop-color="#3cc991"/><stop offset="0.8697" stop-color="#29c3aa"/><stop offset="0.8939" stop-color="#04bbc1"/><stop offset="0.9061" stop-color="#02b7cb"/><stop offset="0.9273" stop-color="#18aedb"/><stop offset="0.9455" stop-color="#21a4e3"/><stop offset="0.9697" stop-color="#2994ed"/><stop offset="0.9939" stop-color="#307ffb"/><stop offset="1" stop-color="#3579fd"/></linearGradient><linearGradient id="r88"><stop offset="0" stop-color="#4332ca"/><stop offset="0.0273" stop-color="#4741e5"/><stop offset="0.0424" stop-color="#484ff2"/><stop offset="0.0667" stop-color="#4466fd"/><stop offset="0.0788" stop-color="#3b72ff"/><stop offset="0.0909" stop-color="#307ffb"/><stop offset="0.1303" stop-color="#23a0e5"/><stop offset="0.1515" stop-color="#19addc"/><stop offset="0.1788" stop-color="#01b8ca"/><stop offset="0.1879" stop-color="#03bbc2"/><stop offset="0.197" stop-color="#0ebebb"/><stop offset="0.2121" stop-color="#22c1b0"/><stop offset="0.2242" stop-color="#2ac3a9"/><stop offset="0.2606" stop-color="#34c79b"/><stop offset="0.2727" stop-color="#35c79b"/><stop offset="0.297" stop-color="#2fc5a2"/><stop offset="0.3152" stop-color="#26c2ad"/><stop offset="0.3364" stop-color="#0bbdbc"/><stop offset="0.3485" stop-color="#02bac3"/><stop offset="0.3636" stop-color="#01b8c9"/><stop offset="0.3879" stop-color="#03b7cc"/><stop offset="0.4303" stop-color="#02b7cb"/><stop offset="0.4697" stop-color="#02bac3"/><stop offset="0.4788" stop-color="#09bdbe"/><stop offset="0.5061" stop-color="#2cc4a7"/><stop offset="0.5212" stop-color="#3eca8f"/><stop offset="0.5364" stop-color="#5ecd74"/><stop offset="0.5576" stop-color="#92ca4b"/><stop offset="0.5667" stop-color="#a7c73c"/><stop offset="0.5788" stop-color="#bdc32e"/><stop offset="0.5939" stop-color="#d2bf27"/><stop offset="0.6" stop-color="#d9bd28"/><stop offset="0.6091" stop-color="#e5bb2d"/><stop offset="0.6242" stop-color="#f8ba3d"/><stop offset="0.6303" stop-color="#febd3c"/><stop offset="0.6424" stop-color="#fec934"/><stop offset="0.6667" stop-color="#f6de29"/><stop offset="0.6909" stop-color="#f5e526"/><stop offset="0.7061" stop-color="#f5e526"/><stop offset="0.7212" stop-color="#f6e028"/><stop offset="0.7515" stop-color="#feca33"/><stop offset="0.7667" stop-color="#febe3c"/><stop offset="0.7727" stop-color="#f8ba3d"/><stop offset="0.7848" stop-color="#e5bb2d"/><stop offset="0.7939" stop-color="#d3bf27"/><stop offset="0.803" stop-color="#c1c32c"/><stop offset="0.8152" stop-color="#a5c83d"/><stop offset="0.8212" stop-color="#95ca49"/><stop offset="0.8364" stop-color="#63cd70"/><stop offset="0.8515" stop-color="#40ca8d"/><stop offset="0.8636" stop-color="#2ec5a4"/><stop offset="0.8697" stop-color="#27c2ac"/><stop offset="0.8909" stop-color="#04bbc2"/><stop offset="0.9" stop-color="#01b8c9"/><stop offset="0.9212" stop-color="#16afd9"/><stop offset="0.9333" stop-color="#1da9e0"/><stop offset="0.9727" stop-color="#2c8ff1"/><stop offset="0.9909" stop-color="#307efb"/><stop offset="1" stop-color="#3876fe"/></linearGradient><linearGradient id="r89"><stop offset="0" stop-color="#4332c8"/><stop offset="0.0182" stop-color="#463adc"/><stop offset="0.0424" stop-color="#484df1"/><stop offset="0.0576" stop-color="#475cfa"/><stop offset="0.0788" stop-color="#3d70ff"/><stop offset="0.0909" stop-color="#317dfc"/><stop offset="0.1152" stop-color="#2b92ee"/><stop offset="0.1364" stop-color="#21a3e4"/><stop offset="0.1576" stop-color="#16afd9"/><stop offset="0.1758" stop-color="#04b6cd"/><stop offset="0.1818" stop-color="#01b8c9"/><stop offset="0.1909" stop-color="#04bbc1"/><stop offset="0.203" stop-color="#14bfb8"/><stop offset="0.2152" stop-color="#22c1b0"/><stop offset="0.2303" stop-color="#2bc3a8"/><stop offset="0.2576" stop-color="#31c69f"/><stop offset="0.2758" stop-color="#32c69f"/><stop offset="0.3" stop-color="#2cc4a7"/><stop offset="0.3121" stop-color="#24c1ae"/><stop offset="0.3303" stop-color="#0bbdbc"/><stop offset="0.3455" stop-color="#01b9c6"/><stop offset="0.3606" stop-color="#03b7cc"/><stop offset="0.3909" stop-color="#07b5d0"/><stop offset="0.4485" stop-color="#05b6ce"/><stop offset="0.4758" stop-color="#01b9c6"/><stop offset="0.4879" stop-color="#09bcbe"/><stop offset="0.503" stop-color="#20c1b1"/><stop offset="0.5121" stop-color="#2ec4a5"/><stop offset="0.5273" stop-color="#42ca8b"/><stop offset="0.5455" stop-color="#6dcd67"/><stop offset="0.5636" stop-color="#9ac945"/><stop offset="0.5788" stop-color="#b8c431"/><stop offset="0.5879" stop-color="#c6c22a"/><stop offset="0.603" stop-color="#d9bd28"/><stop offset="0.6121" stop-color="#e6bb2d"/><stop offset="0.6242" stop-color="#f5ba3b"/><stop offset="0.6333" stop-color="#febe3c"/><stop offset="0.6515" stop-color="#fccf30"/><stop offset="0.6636" stop-color="#f8d92c"/><stop offset="0.6788" stop-color="#f6e029"/><stop offset="0.697" stop-color="#f5e327"/><stop offset="0.7273" stop-color="#f7db2b"/><stop offset="0.7515" stop-color="#feca33"/><stop offset="0.7667" stop-color="#fdbd3d"/><stop offset="0.7727" stop-color="#f7ba3c"/><stop offset="0.7758" stop-color="#f3ba38"/><stop offset="0.7879" stop-color="#ddbd29"/><stop offset="0.7939" stop-color="#d1bf27"/><stop offset="0.8" stop-color="#c5c22a"/><stop offset="0.8152" stop-color="#a3c83f"/><stop offset="0.8242" stop-color="#89cb53"/><stop offset="0.8333" stop-color="#69cd6a"/><stop offset="0.8485" stop-color="#45cb88"/><stop offset="0.8545" stop-color="#39c994"/><stop offset="0.8667" stop-color="#29c3aa"/><stop offset="0.8879" stop-color="#03bbc2"/><stop offset="0.897" stop-color="#01b8ca"/><stop offset="0.9212" stop-color="#19addc"/><stop offset="0.9364" stop-color="#20a5e2"/><stop offset="0.9636" stop-color="#2a93ee"/><stop offset="0.9879" stop-color="#307efb"/><stop offset="1" stop-color="#3a73fe"/></linearGradient><linearGradient id="r90"><stop offset="0" stop-color="#4331c7"/><stop offset="0.0212" stop-color="#463bdd"/><stop offset="0.0485" stop-color="#4851f4"/><stop offset="0.0727" stop-color="#4368fe"/><stop offset="0.0818" stop-color="#3c71ff"/><stop offset="0.097" stop-color="#2f81fa"/><stop offset="0.1303" stop-color="#259de7"/><stop offset="0.1576" stop-color="#18aedb"/><stop offset="0.1818" stop-color="#01b7ca"/><stop offset="0.1909" stop-color="#02bbc3"/><stop offset="0.2121" stop-color="#1cc0b4"/><stop offset="0.2273" stop-color="#27c2ac"/><stop offset="0.2515" stop-color="#2ec4a4"/><stop offset="0.2758" stop-color="#2fc5a3"/><stop offset="0.2909" stop-color="#2cc4a7"/><stop offset="0.3061" stop-color="#24c1ae"/><stop offset="0.3273" stop-color="#08bcbe"/><stop offset="0.3394" stop-color="#01b9c6"/><stop offset="0.3576" stop-color="#06b5cf"/><stop offset="0.3939" stop-color="#0db3d4"/><stop offset="0.4303" stop-color="#0eb3d4"/><stop offset="0.4576" stop-color="#0ab4d2"/><stop offset="0.4697" stop-color="#06b5cf"/><stop offset="0.4848" stop-color="#01b9c6"/><stop offset="0.4939" stop-color="#06bcc0"/><stop offset="0.503" stop-color="#16bfb7"/><stop offset="0.5121" stop-color="#28c2ab"/><stop offset="0.5303" stop-color="#41ca8c"/><stop offset="0.5485" stop-color="#6dcd67"/><stop offset="0.5667" stop-color="#9bc944"/><stop offset="0.5818" stop-color="#b8c431"/><stop offset="0.5909" stop-color="#c5c22a"/><stop offset="0.6061" stop-color="#dabd28"/><stop offset="0.6152" stop-color="#e7bb2d"/><stop offset="0.6273" stop-color="#f6ba3c"/><stop offset="0.6333" stop-color="#fdbd3d"/><stop offset="0.6485" stop-color="#feca33"/><stop offset="0.6697" stop-color="#f8d92c"/><stop offset="0.6939" stop-color="#f6e029"/><stop offset="0.7121" stop-color="#f6df29"/><stop offset="0.7273" stop-color="#f8d92c"/><stop offset="0.7455" stop-color="#fdcd31"/><stop offset="0.7636" stop-color="#febf3c"/><stop offset="0.7697" stop-color="#f9bb3d"/><stop offset="0.7758" stop-color="#f1ba37"/><stop offset="0.7818" stop-color="#e6bb2d"/><stop offset="0.7879" stop-color="#dabd28"/><stop offset="0.7939" stop-color="#cec028"/><stop offset="0.803" stop-color="#bcc42f"/><stop offset="0.8152" stop-color="#a0c941"/><stop offset="0.8394" stop-color="#59cc78"/><stop offset="0.8515" stop-color="#3eca8f"/><stop offset="0.8606" stop-color="#30c5a1"/><stop offset="0.8667" stop-color="#27c2ab"/><stop offset="0.8788" stop-color="#0cbdbc"/><stop offset="0.8848" stop-color="#03bbc3"/><stop offset="0.8939" stop-color="#02b7cb"/><stop offset="0.9121" stop-color="#15afd8"/><stop offset="0.9303" stop-color="#1fa6e2"/><stop offset="0.9667" stop-color="#2d8df2"/><stop offset="0.9818" stop-color="#2f81fa"/><stop offset="1" stop-color="#3d70ff"/></linearGradient><linearGradient id="r91"><stop offset="0" stop-color="#4330c5"/><stop offset="0.0212" stop-color="#463adc"/><stop offset="0.0394" stop-color="#4848ec"/><stop offset="0.0667" stop-color="#4660fc"/><stop offset="0.0818" stop-color="#3e6fff"/><stop offset="0.097" stop-color="#307ffb"/><stop offset="0.1273" stop-color="#2699e9"/><stop offset="0.1545" stop-color="#1babde"/><stop offset="0.1848" stop-color="#01b8ca"/><stop offset="0.197" stop-color="#06bcc0"/><stop offset="0.2152" stop-color="#1bc0b4"/><stop offset="0.2273" stop-color="#24c1af"/><stop offset="0.2515" stop-color="#2bc3a8"/><stop offset="0.2727" stop-color="#2bc3a8"/><stop offset="0.2939" stop-color="#26c2ad"/><stop offset="0.303" stop-color="#20c1b1"/><stop offset="0.3242" stop-color="#05bbc1"/><stop offset="0.3303" stop-color="#01bac5"/><stop offset="0.3394" stop-color="#02b7cb"/><stop offset="0.3545" stop-color="#0ab4d2"/><stop offset="0.3788" stop-color="#12b1d7"/><stop offset="0.4545" stop-color="#13b1d7"/><stop offset="0.4727" stop-color="#0cb3d3"/><stop offset="0.4939" stop-color="#01b9c6"/><stop offset="0.5" stop-color="#05bbc1"/><stop offset="0.5061" stop-color="#10beba"/><stop offset="0.5091" stop-color="#19bfb6"/><stop offset="0.5182" stop-color="#2bc3a8"/><stop offset="0.5333" stop-color="#40ca8d"/><stop offset="0.5515" stop-color="#6dcd67"/><stop offset="0.5697" stop-color="#9bc944"/><stop offset="0.5879" stop-color="#bcc42f"/><stop offset="0.597" stop-color="#c9c129"/><stop offset="0.6091" stop-color="#dabd28"/><stop offset="0.6182" stop-color="#e7bb2e"/><stop offset="0.6303" stop-color="#f7ba3c"/><stop offset="0.6364" stop-color="#fdbd3d"/><stop offset="0.6636" stop-color="#fbd22f"/><stop offset="0.7" stop-color="#f7dd2a"/><stop offset="0.7182" stop-color="#f8da2b"/><stop offset="0.7364" stop-color="#fbd22f"/><stop offset="0.7636" stop-color="#febd3c"/><stop offset="0.7697" stop-color="#f8ba3d"/><stop offset="0.7818" stop-color="#e3bb2c"/><stop offset="0.7909" stop-color="#d1bf27"/><stop offset="0.8" stop-color="#bfc32d"/><stop offset="0.8091" stop-color="#a9c73a"/><stop offset="0.8242" stop-color="#85cb56"/><stop offset="0.8364" stop-color="#61cd71"/><stop offset="0.8515" stop-color="#3eca8f"/><stop offset="0.8636" stop-color="#2bc3a8"/><stop offset="0.8697" stop-color="#1dc0b3"/><stop offset="0.8758" stop-color="#0cbdbc"/><stop offset="0.8818" stop-color="#02bbc3"/><stop offset="0.8909" stop-color="#03b7cc"/><stop offset="0.9121" stop-color="#19addc"/><stop offset="0.9545" stop-color="#2b92ee"/><stop offset="0.9818" stop-color="#317dfb"/><stop offset="1" stop-color="#3f6efe"/></linearGradient><linearGradient id="r92"><stop offset="0" stop-color="#4230c3"/><stop offset="0.0212" stop-color="#4639da"/><stop offset="0.0455" stop-color="#484bef"/><stop offset="0.0727" stop-color="#4564fd"/><stop offset="0.0848" stop-color="#3d70ff"/><stop offset="0.097" stop-color="#317dfc"/><stop offset="0.1364" stop-color="#249ee6"/><stop offset="0.1667" stop-color="#15afd9"/><stop offset="0.1879" stop-color="#01b8c9"/><stop offset="0.2" stop-color="#06bcc0"/><stop offset="0.2182" stop-color="#19bfb6"/><stop offset="0.2333" stop-color="#22c1b0"/><stop offset="0.2636" stop-color="#26c2ad"/><stop offset="0.2939" stop-color="#1fc0b2"/><stop offset="0.3242" stop-color="#01b9c6"/><stop offset="0.3303" stop-color="#01b8ca"/><stop offset="0.3515" stop-color="#0fb2d5"/><stop offset="0.3727" stop-color="#16afda"/><stop offset="0.4121" stop-color="#19acdc"/><stop offset="0.4606" stop-color="#18aedb"/><stop offset="0.4788" stop-color="#11b1d6"/><stop offset="0.4939" stop-color="#03b7cc"/><stop offset="0.5" stop-color="#01b9c7"/><stop offset="0.5061" stop-color="#06bcc0"/><stop offset="0.5212" stop-color="#2ac3a9"/><stop offset="0.5333" stop-color="#39c895"/><stop offset="0.5394" stop-color="#44cb89"/><stop offset="0.5667" stop-color="#8ccb50"/><stop offset="0.5818" stop-color="#abc739"/><stop offset="0.5939" stop-color="#bfc32d"/><stop offset="0.6061" stop-color="#d2bf27"/><stop offset="0.6212" stop-color="#e7bb2e"/><stop offset="0.6333" stop-color="#f8ba3d"/><stop offset="0.6394" stop-color="#fdbd3d"/><stop offset="0.6667" stop-color="#fccf30"/><stop offset="0.697" stop-color="#f9d82c"/><stop offset="0.7273" stop-color="#fbd32f"/><stop offset="0.7424" stop-color="#fdcb32"/><stop offset="0.7606" stop-color="#febe3c"/><stop offset="0.7667" stop-color="#f9bb3d"/><stop offset="0.7788" stop-color="#e6bb2d"/><stop offset="0.7879" stop-color="#d2bf27"/><stop offset="0.8" stop-color="#bac430"/><stop offset="0.8121" stop-color="#9ac945"/><stop offset="0.8212" stop-color="#88cb53"/><stop offset="0.8364" stop-color="#60cd72"/><stop offset="0.8515" stop-color="#3cc991"/><stop offset="0.8636" stop-color="#28c3ab"/><stop offset="0.8727" stop-color="#0dbdbc"/><stop offset="0.8788" stop-color="#02bac4"/><stop offset="0.8848" stop-color="#02b7cb"/><stop offset="0.9" stop-color="#13b1d7"/><stop offset="0.9152" stop-color="#1da9e0"/><stop offset="0.9576" stop-color="#2d8bf3"/><stop offset="0.9758" stop-color="#307efb"/><stop offset="1" stop-color="#416bfe"/></linearGradient><linearGradient id="r93"><stop offset="0" stop-color="#422fc2"/><stop offset="0.0212" stop-color="#4538d8"/><stop offset="0.0394" stop-color="#4744e9"/><stop offset="0.0667" stop-color="#475cfa"/><stop offset="0.0848" stop-color="#3f6eff"/><stop offset="0.103" stop-color="#2f80fa"/><stop offset="0.1303" stop-color="#2798ea"/><stop offset="0.1606" stop-color="#1babde"/><stop offset="0.1909" stop-color="#01b8c9"/><stop offset="0.2" stop-color="#03bbc3"/><stop offset="0.2242" stop-color="#18bfb6"/><stop offset="0.2424" stop-color="#1fc0b2"/><stop offset="0.2576" stop-color="#20c1b1"/><stop offset="0.2879" stop-color="#1abfb5"/><stop offset="0.3061" stop-color="#0cbdbc"/><stop offset="0.3152" stop-color="#03bbc3"/><stop offset="0.3212" stop-color="#01b9c7"/><stop offset="0.3364" stop-color="#0ab4d2"/><stop offset="0.3545" stop-color="#16afd9"/><stop offset="0.3818" stop-color="#1babde"/><stop offset="0.4455" stop-color="#1ca9df"/><stop offset="0.4697" stop-color="#1aacdd"/><stop offset="0.4818" stop-color="#15afd9"/><stop offset="0.5" stop-color="#03b7cc"/><stop offset="0.5061" stop-color="#01bac6"/><stop offset="0.5121" stop-color="#09bdbe"/><stop offset="0.5242" stop-color="#27c2ac"/><stop offset="0.5424" stop-color="#41ca8c"/><stop offset="0.5545" stop-color="#60cd72"/><stop offset="0.5697" stop-color="#89cb52"/><stop offset="0.5879" stop-color="#aec637"/><stop offset="0.6" stop-color="#c3c22b"/><stop offset="0.6091" stop-color="#d1bf27"/><stop offset="0.6242" stop-color="#e7bb2e"/><stop offset="0.6394" stop-color="#fabb3d"/><stop offset="0.6455" stop-color="#febe3c"/><stop offset="0.6667" stop-color="#fdcb33"/><stop offset="0.7" stop-color="#fbd22f"/><stop offset="0.7152" stop-color="#fbd22f"/><stop offset="0.7333" stop-color="#fdcd32"/><stop offset="0.7576" stop-color="#febe3c"/><stop offset="0.7636" stop-color="#f9bb3d"/><stop offset="0.7697" stop-color="#f1ba36"/><stop offset="0.7758" stop-color="#e7bb2d"/><stop offset="0.7879" stop-color="#cec028"/><stop offset="0.797" stop-color="#bac430"/><stop offset="0.8121" stop-color="#90ca4d"/><stop offset="0.8212" stop-color="#7fcc5a"/><stop offset="0.8333" stop-color="#62cd70"/><stop offset="0.8485" stop-color="#3eca8f"/><stop offset="0.8606" stop-color="#29c3a9"/><stop offset="0.8727" stop-color="#06bcc1"/><stop offset="0.8758" stop-color="#02bac5"/><stop offset="0.8818" stop-color="#03b7cc"/><stop offset="0.8939" stop-color="#12b1d6"/><stop offset="0.9061" stop-color="#1babde"/><stop offset="0.9303" stop-color="#259ce7"/><stop offset="0.9576" stop-color="#2e87f7"/><stop offset="0.9758" stop-color="#337afd"/><stop offset="1" stop-color="#4368fe"/></linearGradient><linearGradient id="r94"><stop offset="0" stop-color="#422ec0"/><stop offset="0.0424" stop-color="#4745ea"/><stop offset="0.0727" stop-color="#4660fb"/><stop offset="0.0879" stop-color="#3e6fff"/><stop offset="0.1061" stop-color="#2f81fa"/><stop offset="0.1394" stop-color="#259ce7"/><stop offset="0.1697" stop-color="#17aeda"/><stop offset="0.1909" stop-color="#02b7cb"/><stop offset="0.203" stop-color="#02bbc3"/><stop offset="0.2273" stop-color="#14beb8"/><stop offset="0.2394" stop-color="#19bfb5"/><stop offset="0.2545" stop-color="#1abfb5"/><stop offset="0.2788" stop-color="#15bfb7"/><stop offset="0.3" stop-color="#0abdbd"/><stop offset="0.3182" stop-color="#01b8c9"/><stop offset="0.3424" stop-color="#14b0d8"/><stop offset="0.3576" stop-color="#1aacdd"/><stop offset="0.3909" stop-color="#1ea8e1"/><stop offset="0.4424" stop-color="#1fa6e1"/><stop offset="0.4606" stop-color="#1ea8e1"/><stop offset="0.4848" stop-color="#18aedb"/><stop offset="0.5061" stop-color="#01b7ca"/><stop offset="0.5091" stop-color="#01b9c7"/><stop offset="0.5152" stop-color="#07bcbf"/><stop offset="0.5273" stop-color="#24c2ae"/><stop offset="0.5455" stop-color="#3eca8f"/><stop offset="0.5697" stop-color="#7ecc5a"/><stop offset="0.5788" stop-color="#94ca4a"/><stop offset="0.597" stop-color="#b7c531"/><stop offset="0.6121" stop-color="#d0bf27"/><stop offset="0.6182" stop-color="#d9bd28"/><stop offset="0.6273" stop-color="#e6bb2d"/><stop offset="0.6424" stop-color="#f9ba3d"/><stop offset="0.6515" stop-color="#febf3b"/><stop offset="0.6697" stop-color="#fec835"/><stop offset="0.7061" stop-color="#fdcd32"/><stop offset="0.7242" stop-color="#fdcc32"/><stop offset="0.7394" stop-color="#fec736"/><stop offset="0.7515" stop-color="#febf3b"/><stop offset="0.7606" stop-color="#f8ba3d"/><stop offset="0.7636" stop-color="#f5ba3a"/><stop offset="0.7758" stop-color="#e2bc2b"/><stop offset="0.7848" stop-color="#cfc028"/><stop offset="0.7909" stop-color="#c1c32c"/><stop offset="0.8" stop-color="#aac73a"/><stop offset="0.8121" stop-color="#84cb56"/><stop offset="0.8303" stop-color="#62cd70"/><stop offset="0.8455" stop-color="#3eca8f"/><stop offset="0.8576" stop-color="#2ac3a9"/><stop offset="0.8697" stop-color="#06bcc0"/><stop offset="0.8727" stop-color="#01bac5"/><stop offset="0.8758" stop-color="#01b8c9"/><stop offset="0.8848" stop-color="#0cb3d3"/><stop offset="0.897" stop-color="#19addb"/><stop offset="0.9394" stop-color="#2a93ee"/><stop offset="0.9576" stop-color="#2e83f9"/><stop offset="0.9848" stop-color="#3d70ff"/><stop offset="1" stop-color="#4465fd"/></linearGradient><linearGradient id="r95"><stop offset="0" stop-color="#412ebe"/><stop offset="0.0242" stop-color="#4538d8"/><stop offset="0.0455" stop-color="#4746eb"/><stop offset="0.0788" stop-color="#4564fd"/><stop offset="0.0909" stop-color="#3d70ff"/><stop offset="0.1061" stop-color="#307ffb"/><stop offset="0.1424" stop-color="#259de7"/><stop offset="0.1727" stop-color="#17aeda"/><stop offset="0.1939" stop-color="#02b7cb"/><stop offset="0.203" stop-color="#01bac5"/><stop offset="0.2364" stop-color="#12beb9"/><stop offset="0.2545" stop-color="#13beb9"/><stop offset="0.2697" stop-color="#0fbeba"/><stop offset="0.3" stop-color="#05bbc1"/><stop offset="0.3152" stop-color="#01b8ca"/><stop offset="0.3333" stop-color="#12b1d6"/><stop offset="0.3515" stop-color="#1babde"/><stop offset="0.3758" stop-color="#1fa6e1"/><stop offset="0.4152" stop-color="#21a4e3"/><stop offset="0.4545" stop-color="#20a4e3"/><stop offset="0.4788" stop-color="#1da9e0"/><stop offset="0.4909" stop-color="#18aedb"/><stop offset="0.497" stop-color="#12b1d7"/><stop offset="0.5091" stop-color="#03b7cc"/><stop offset="0.5152" stop-color="#01bac5"/><stop offset="0.5212" stop-color="#0abdbd"/><stop offset="0.5333" stop-color="#27c2ac"/><stop offset="0.5424" stop-color="#33c79d"/><stop offset="0.5515" stop-color="#42ca8b"/><stop offset="0.5636" stop-color="#62cd70"/><stop offset="0.5788" stop-color="#8acb52"/><stop offset="0.5879" stop-color="#9ec942"/><stop offset="0.6" stop-color="#b6c532"/><stop offset="0.6091" stop-color="#c6c22a"/><stop offset="0.6212" stop-color="#d8be28"/><stop offset="0.6333" stop-color="#e9bb2f"/><stop offset="0.6485" stop-color="#fabb3d"/><stop offset="0.6545" stop-color="#febe3c"/><stop offset="0.6697" stop-color="#fec438"/><stop offset="0.7121" stop-color="#fec934"/><stop offset="0.7242" stop-color="#fec835"/><stop offset="0.7485" stop-color="#febe3c"/><stop offset="0.7576" stop-color="#f7ba3c"/><stop offset="0.7636" stop-color="#f0ba36"/><stop offset="0.7697" stop-color="#e7bb2d"/><stop offset="0.7818" stop-color="#d0c028"/><stop offset="0.7879" stop-color="#c2c32c"/><stop offset="0.797" stop-color="#abc739"/><stop offset="0.8121" stop-color="#79cc5e"/><stop offset="0.8273" stop-color="#60cd72"/><stop offset="0.8424" stop-color="#3dc990"/><stop offset="0.8545" stop-color="#2ac3a9"/><stop offset="0.8636" stop-color="#0fbeba"/><stop offset="0.8697" stop-color="#02bac5"/><stop offset="0.8727" stop-color="#01b8c9"/><stop offset="0.8818" stop-color="#0db3d4"/><stop offset="0.8879" stop-color="#15afd8"/><stop offset="0.897" stop-color="#1babde"/><stop offset="0.9364" stop-color="#2b92ee"/><stop offset="0.9576" stop-color="#307ffb"/><stop offset="0.9788" stop-color="#3c72ff"/><stop offset="1" stop-color="#4563fc"/></linearGradient><linearGradient id="r96"><stop offset="0" stop-color="#412dbc"/><stop offset="0.0242" stop-color="#4537d7"/><stop offset="0.0545" stop-color="#484cf0"/><stop offset="0.0727" stop-color="#475cfa"/><stop offset="0.0848" stop-color="#4368fe"/><stop offset="0.0939" stop-color="#3c71ff"/><stop offset="0.1091" stop-color="#2f80fa"/><stop offset="0.1333" stop-color="#2995ec"/><stop offset="0.1727" stop-color="#19addc"/><stop offset="0.1909" stop-color="#07b5d0"/><stop offset="0.203" stop-color="#01b9c8"/><stop offset="0.2303" stop-color="#0abdbd"/><stop offset="0.2424" stop-color="#0dbdbc"/><stop offset="0.2576" stop-color="#0bbdbc"/><stop offset="0.2879" stop-color="#04bbc1"/><stop offset="0.3091" stop-color="#01b8c9"/><stop offset="0.3152" stop-color="#04b6cd"/><stop offset="0.3333" stop-color="#16afd9"/><stop offset="0.3515" stop-color="#1da9e0"/><stop offset="0.3727" stop-color="#20a4e3"/><stop offset="0.4242" stop-color="#23a1e4"/><stop offset="0.4606" stop-color="#22a2e4"/><stop offset="0.4909" stop-color="#1babde"/><stop offset="0.503" stop-color="#11b1d6"/><stop offset="0.5091" stop-color="#08b4d1"/><stop offset="0.5182" stop-color="#01b9c7"/><stop offset="0.5242" stop-color="#07bcc0"/><stop offset="0.5364" stop-color="#24c2ae"/><stop offset="0.5545" stop-color="#3fca8e"/><stop offset="0.5667" stop-color="#5fcd73"/><stop offset="0.5818" stop-color="#86cb54"/><stop offset="0.5939" stop-color="#a2c83f"/><stop offset="0.6061" stop-color="#bac430"/><stop offset="0.6212" stop-color="#d2bf27"/><stop offset="0.6364" stop-color="#e7bb2e"/><stop offset="0.6515" stop-color="#f8ba3d"/><stop offset="0.6636" stop-color="#febe3c"/><stop offset="0.7152" stop-color="#fec537"/><stop offset="0.7424" stop-color="#febe3c"/><stop offset="0.7545" stop-color="#f6ba3b"/><stop offset="0.7667" stop-color="#e5bb2d"/><stop offset="0.7788" stop-color="#cfc028"/><stop offset="0.7848" stop-color="#c1c32c"/><stop offset="0.7939" stop-color="#abc739"/><stop offset="0.8" stop-color="#9ac945"/><stop offset="0.8121" stop-color="#70cd65"/><stop offset="0.8242" stop-color="#5dcc75"/><stop offset="0.8303" stop-color="#50cc7f"/><stop offset="0.8394" stop-color="#3cc991"/><stop offset="0.8515" stop-color="#29c3aa"/><stop offset="0.8636" stop-color="#06bcc0"/><stop offset="0.8667" stop-color="#02bac5"/><stop offset="0.8697" stop-color="#01b8c9"/><stop offset="0.8818" stop-color="#13b1d7"/><stop offset="0.8939" stop-color="#1caadf"/><stop offset="0.9212" stop-color="#269ae9"/><stop offset="0.9545" stop-color="#307ffb"/><stop offset="0.9727" stop-color="#3c72ff"/><stop offset="1" stop-color="#4660fc"/></linearGradient><linearGradient id="r97"><stop offset="0" stop-color="#412dbb"/><stop offset="0.0273" stop-color="#4538d8"/><stop offset="0.0455" stop-color="#4744e8"/><stop offset="0.0788" stop-color="#4660fb"/><stop offset="0.0939" stop-color="#3e6fff"/><stop offset="0.1091" stop-color="#307efb"/><stop offset="0.1303" stop-color="#2b91ef"/><stop offset="0.1758" stop-color="#19addc"/><stop offset="0.203" stop-color="#01b8ca"/><stop offset="0.2212" stop-color="#02bbc3"/><stop offset="0.2303" stop-color="#06bcc0"/><stop offset="0.2576" stop-color="#07bcbf"/><stop offset="0.303" stop-color="#01b8ca"/><stop offset="0.3152" stop-color="#08b4d0"/><stop offset="0.3333" stop-color="#19addc"/><stop offset="0.3606" stop-color="#20a4e3"/><stop offset="0.397" stop-color="#249fe5"/><stop offset="0.4455" stop-color="#249ee6"/><stop offset="0.4788" stop-color="#21a4e3"/><stop offset="0.5" stop-color="#19addc"/><stop offset="0.5152" stop-color="#07b5d0"/><stop offset="0.5242" stop-color="#01b9c6"/><stop offset="0.5303" stop-color="#0abdbe"/><stop offset="0.5424" stop-color="#27c2ac"/><stop offset="0.5545" stop-color="#37c897"/><stop offset="0.5606" stop-color="#43ca8a"/><stop offset="0.5727" stop-color="#63cd70"/><stop offset="0.5939" stop-color="#99c946"/><stop offset="0.6091" stop-color="#b8c431"/><stop offset="0.6212" stop-color="#ccc028"/><stop offset="0.6303" stop-color="#d9bd28"/><stop offset="0.6394" stop-color="#e5bb2d"/><stop offset="0.6515" stop-color="#f4ba39"/><stop offset="0.6576" stop-color="#f8ba3d"/><stop offset="0.6667" stop-color="#fcbc3d"/><stop offset="0.7152" stop-color="#fec13a"/><stop offset="0.7333" stop-color="#febe3c"/><stop offset="0.7455" stop-color="#f9bb3d"/><stop offset="0.7545" stop-color="#f1ba37"/><stop offset="0.7636" stop-color="#e4bb2c"/><stop offset="0.7758" stop-color="#cfc028"/><stop offset="0.7818" stop-color="#c1c32c"/><stop offset="0.7939" stop-color="#a2c83f"/><stop offset="0.803" stop-color="#8acb52"/><stop offset="0.8121" stop-color="#6bcd69"/><stop offset="0.8182" stop-color="#5ecd74"/><stop offset="0.8242" stop-color="#55cc7c"/><stop offset="0.8364" stop-color="#3ac993"/><stop offset="0.8485" stop-color="#28c2ab"/><stop offset="0.8576" stop-color="#0dbdbb"/><stop offset="0.8636" stop-color="#01bac5"/><stop offset="0.8667" stop-color="#01b8ca"/><stop offset="0.8758" stop-color="#0fb2d5"/><stop offset="0.8879" stop-color="#1babde"/><stop offset="0.9273" stop-color="#2a93ee"/><stop offset="0.9515" stop-color="#307ffb"/><stop offset="0.9667" stop-color="#3c72ff"/><stop offset="1" stop-color="#465efb"/></linearGradient><linearGradient id="r98"><stop offset="0" stop-color="#412cb9"/><stop offset="0.0273" stop-color="#4537d6"/><stop offset="0.0485" stop-color="#4744e9"/><stop offset="0.0758" stop-color="#475bfa"/><stop offset="0.0848" stop-color="#4564fd"/><stop offset="0.097" stop-color="#3d70ff"/><stop offset="0.1121" stop-color="#307ffb"/><stop offset="0.1545" stop-color="#23a0e5"/><stop offset="0.1788" stop-color="#19addc"/><stop offset="0.197" stop-color="#08b4d0"/><stop offset="0.2091" stop-color="#01b8ca"/><stop offset="0.2394" stop-color="#03bbc2"/><stop offset="0.2576" stop-color="#03bbc2"/><stop offset="0.2909" stop-color="#01b8ca"/><stop offset="0.3091" stop-color="#08b4d0"/><stop offset="0.3303" stop-color="#1aacdd"/><stop offset="0.3545" stop-color="#21a3e3"/><stop offset="0.397" stop-color="#259de7"/><stop offset="0.4515" stop-color="#259ce7"/><stop offset="0.4818" stop-color="#22a2e4"/><stop offset="0.5061" stop-color="#18aedb"/><stop offset="0.5242" stop-color="#02b7cb"/><stop offset="0.5273" stop-color="#01b9c7"/><stop offset="0.5333" stop-color="#07bcbf"/><stop offset="0.5455" stop-color="#25c2ae"/><stop offset="0.5636" stop-color="#40ca8d"/><stop offset="0.5758" stop-color="#5fcd73"/><stop offset="0.597" stop-color="#96ca48"/><stop offset="0.6091" stop-color="#b0c636"/><stop offset="0.6212" stop-color="#c5c22a"/><stop offset="0.6303" stop-color="#d3bf27"/><stop offset="0.6455" stop-color="#e8bb2e"/><stop offset="0.6545" stop-color="#f1ba37"/><stop offset="0.6667" stop-color="#f8ba3d"/><stop offset="0.6909" stop-color="#f8ba3d"/><stop offset="0.7091" stop-color="#fdbd3d"/><stop offset="0.7333" stop-color="#fbbc3d"/><stop offset="0.7424" stop-color="#f7ba3c"/><stop offset="0.7515" stop-color="#efba35"/><stop offset="0.7606" stop-color="#e2bc2b"/><stop offset="0.7697" stop-color="#d3bf27"/><stop offset="0.7788" stop-color="#c0c32d"/><stop offset="0.7879" stop-color="#a8c73b"/><stop offset="0.803" stop-color="#82cc58"/><stop offset="0.8121" stop-color="#65cd6e"/><stop offset="0.8303" stop-color="#3eca8f"/><stop offset="0.8455" stop-color="#26c2ac"/><stop offset="0.8545" stop-color="#0bbdbc"/><stop offset="0.8606" stop-color="#01b9c6"/><stop offset="0.8636" stop-color="#01b8ca"/><stop offset="0.8758" stop-color="#14b0d8"/><stop offset="0.8879" stop-color="#1da9e0"/><stop offset="0.9121" stop-color="#269ae8"/><stop offset="0.9485" stop-color="#3080fb"/><stop offset="0.9636" stop-color="#3d71ff"/><stop offset="1" stop-color="#475cfa"/></linearGradient><linearGradient id="r99"><stop offset="0" stop-color="#402bb8"/><stop offset="0.0364" stop-color="#463bdd"/><stop offset="0.0545" stop-color="#4848ec"/><stop offset="0.0788" stop-color="#475cfa"/><stop offset="0.097" stop-color="#3f6eff"/><stop offset="0.1152" stop-color="#2f80fa"/><stop offset="0.1364" stop-color="#2b92ee"/><stop offset="0.1818" stop-color="#19addc"/><stop offset="0.2061" stop-color="#05b6ce"/><stop offset="0.2273" stop-color="#01b9c7"/><stop offset="0.2576" stop-color="#01bac5"/><stop offset="0.2788" stop-color="#01b8ca"/><stop offset="0.3" stop-color="#08b4d1"/><stop offset="0.3242" stop-color="#19addc"/><stop offset="0.3515" stop-color="#22a2e4"/><stop offset="0.397" stop-color="#269ae8"/><stop offset="0.4545" stop-color="#269ae8"/><stop offset="0.4848" stop-color="#23a1e4"/><stop offset="0.5061" stop-color="#1babde"/><stop offset="0.5182" stop-color="#11b1d6"/><stop offset="0.5303" stop-color="#01b8c9"/><stop offset="0.5364" stop-color="#05bbc1"/><stop offset="0.5485" stop-color="#22c1b0"/><stop offset="0.5667" stop-color="#3eca8f"/><stop offset="0.5818" stop-color="#63cd6f"/><stop offset="0.597" stop-color="#8ccb50"/><stop offset="0.6152" stop-color="#b3c534"/><stop offset="0.6242" stop-color="#c3c22b"/><stop offset="0.6333" stop-color="#d1bf27"/><stop offset="0.6424" stop-color="#debd29"/><stop offset="0.6545" stop-color="#ecba32"/><stop offset="0.6667" stop-color="#f2ba37"/><stop offset="0.6848" stop-color="#f1ba37"/><stop offset="0.7091" stop-color="#f9ba3d"/><stop offset="0.7242" stop-color="#f9bb3d"/><stop offset="0.7303" stop-color="#f7ba3d"/><stop offset="0.7455" stop-color="#efba35"/><stop offset="0.7576" stop-color="#e1bc2b"/><stop offset="0.7667" stop-color="#d1bf27"/><stop offset="0.7758" stop-color="#bfc32d"/><stop offset="0.7818" stop-color="#afc636"/><stop offset="0.803" stop-color="#79cc5e"/><stop offset="0.8121" stop-color="#5fcd73"/><stop offset="0.8273" stop-color="#3dc990"/><stop offset="0.8424" stop-color="#25c2ae"/><stop offset="0.8515" stop-color="#0abdbe"/><stop offset="0.8545" stop-color="#03bbc2"/><stop offset="0.8576" stop-color="#01b9c7"/><stop offset="0.8636" stop-color="#06b5cf"/><stop offset="0.8697" stop-color="#11b1d6"/><stop offset="0.8818" stop-color="#1caadf"/><stop offset="0.9061" stop-color="#259ce7"/><stop offset="0.9424" stop-color="#2f82fa"/><stop offset="0.9485" stop-color="#317dfc"/><stop offset="0.9636" stop-color="#3f6fff"/><stop offset="1" stop-color="#475af9"/></linearGradient><linearGradient id="r100"><stop offset="0" stop-color="#402bb7"/><stop offset="0.0364" stop-color="#463adc"/><stop offset="0.0606" stop-color="#484bef"/><stop offset="0.0848" stop-color="#4660fc"/><stop offset="0.1" stop-color="#3e6fff"/><stop offset="0.1152" stop-color="#307efb"/><stop offset="0.1333" stop-color="#2c8ef2"/><stop offset="0.1697" stop-color="#20a5e2"/><stop offset="0.197" stop-color="#11b2d5"/><stop offset="0.2091" stop-color="#07b5d0"/><stop offset="0.2273" stop-color="#01b8ca"/><stop offset="0.2485" stop-color="#01b9c7"/><stop offset="0.2697" stop-color="#01b7ca"/><stop offset="0.2879" stop-color="#07b5d0"/><stop offset="0.303" stop-color="#11b2d5"/><stop offset="0.3273" stop-color="#1da9e0"/><stop offset="0.3485" stop-color="#23a1e4"/><stop offset="0.3939" stop-color="#2798ea"/><stop offset="0.4545" stop-color="#2798ea"/><stop offset="0.4848" stop-color="#249ee6"/><stop offset="0.5091" stop-color="#1caadf"/><stop offset="0.5212" stop-color="#13b1d7"/><stop offset="0.5333" stop-color="#01b7ca"/><stop offset="0.5364" stop-color="#01b9c7"/><stop offset="0.5424" stop-color="#08bcbf"/><stop offset="0.5545" stop-color="#25c2ad"/><stop offset="0.5727" stop-color="#41ca8c"/><stop offset="0.5848" stop-color="#60cd72"/><stop offset="0.603" stop-color="#90ca4d"/><stop offset="0.6212" stop-color="#b6c532"/><stop offset="0.6303" stop-color="#c5c22a"/><stop offset="0.6394" stop-color="#d3bf27"/><stop offset="0.6545" stop-color="#e6bb2d"/><stop offset="0.6697" stop-color="#ecba32"/><stop offset="0.6909" stop-color="#ebba32"/><stop offset="0.7091" stop-color="#f3ba39"/><stop offset="0.7273" stop-color="#f3ba38"/><stop offset="0.7394" stop-color="#edba34"/><stop offset="0.7485" stop-color="#e6bb2d"/><stop offset="0.7545" stop-color="#dfbc2a"/><stop offset="0.7636" stop-color="#cfc028"/><stop offset="0.7758" stop-color="#b6c532"/><stop offset="0.7909" stop-color="#8acb51"/><stop offset="0.8091" stop-color="#60cd72"/><stop offset="0.8212" stop-color="#42ca8c"/><stop offset="0.8394" stop-color="#23c1af"/><stop offset="0.8485" stop-color="#08bcbf"/><stop offset="0.8515" stop-color="#02bac4"/><stop offset="0.8576" stop-color="#03b7cc"/><stop offset="0.8667" stop-color="#12b1d6"/><stop offset="0.8818" stop-color="#1ea8e1"/><stop offset="0.9061" stop-color="#2699e9"/><stop offset="0.9364" stop-color="#2e84f9"/><stop offset="0.9455" stop-color="#317dfc"/><stop offset="0.9636" stop-color="#406dfe"/><stop offset="1" stop-color="#4758f8"/></linearGradient><linearGradient id="r101"><stop offset="0" stop-color="#402bb6"/><stop offset="0.0364" stop-color="#4639da"/><stop offset="0.0515" stop-color="#4743e7"/><stop offset="0.0818" stop-color="#475cfa"/><stop offset="0.103" stop-color="#3d70ff"/><stop offset="0.1182" stop-color="#307ffb"/><stop offset="0.1636" stop-color="#23a0e5"/><stop offset="0.1909" stop-color="#18addb"/><stop offset="0.2061" stop-color="#0eb3d4"/><stop offset="0.2273" stop-color="#04b6cd"/><stop offset="0.2576" stop-color="#01b7ca"/><stop offset="0.2788" stop-color="#07b5d0"/><stop offset="0.2939" stop-color="#11b2d5"/><stop offset="0.3424" stop-color="#23a1e5"/><stop offset="0.3818" stop-color="#2797ea"/><stop offset="0.4424" stop-color="#2995ec"/><stop offset="0.4818" stop-color="#259be7"/><stop offset="0.5121" stop-color="#1da9e0"/><stop offset="0.5242" stop-color="#14b0d8"/><stop offset="0.5333" stop-color="#06b5cf"/><stop offset="0.5394" stop-color="#01b8c8"/><stop offset="0.5455" stop-color="#05bbc1"/><stop offset="0.5606" stop-color="#28c3aa"/><stop offset="0.5758" stop-color="#3eca8f"/><stop offset="0.5939" stop-color="#6ccd68"/><stop offset="0.6152" stop-color="#a1c840"/><stop offset="0.6364" stop-color="#c8c129"/><stop offset="0.6515" stop-color="#ddbd29"/><stop offset="0.6636" stop-color="#e4bb2c"/><stop offset="0.6879" stop-color="#e3bc2c"/><stop offset="0.7061" stop-color="#ecba32"/><stop offset="0.7212" stop-color="#eeba34"/><stop offset="0.7424" stop-color="#e5bb2d"/><stop offset="0.7515" stop-color="#dcbd29"/><stop offset="0.7576" stop-color="#d2bf27"/><stop offset="0.7667" stop-color="#c1c32c"/><stop offset="0.7727" stop-color="#b4c533"/><stop offset="0.7788" stop-color="#a5c83d"/><stop offset="0.7909" stop-color="#7fcc5a"/><stop offset="0.8061" stop-color="#60cd72"/><stop offset="0.8182" stop-color="#41ca8c"/><stop offset="0.8333" stop-color="#28c2ab"/><stop offset="0.8455" stop-color="#06bcc0"/><stop offset="0.8485" stop-color="#02bac5"/><stop offset="0.8545" stop-color="#04b6cd"/><stop offset="0.8636" stop-color="#13b1d7"/><stop offset="0.8758" stop-color="#1da9e0"/><stop offset="0.9" stop-color="#269ae8"/><stop offset="0.9303" stop-color="#2e85f8"/><stop offset="0.9394" stop-color="#307efb"/><stop offset="0.9545" stop-color="#3b72ff"/><stop offset="0.9667" stop-color="#4369fe"/><stop offset="1" stop-color="#4756f7"/></linearGradient><linearGradient id="r102"><stop offset="0" stop-color="#402ab5"/><stop offset="0.0333" stop-color="#4537d6"/><stop offset="0.0576" stop-color="#4746ea"/><stop offset="0.0879" stop-color="#4660fb"/><stop offset="0.103" stop-color="#3f6fff"/><stop offset="0.1182" stop-color="#317dfc"/><stop offset="0.1515" stop-color="#2797eb"/><stop offset="0.1848" stop-color="#1da9e0"/><stop offset="0.2091" stop-color="#10b2d5"/><stop offset="0.2333" stop-color="#06b5cf"/><stop offset="0.2576" stop-color="#04b6cd"/><stop offset="0.2697" stop-color="#07b5d0"/><stop offset="0.297" stop-color="#16afda"/><stop offset="0.3364" stop-color="#23a1e5"/><stop offset="0.3636" stop-color="#2698ea"/><stop offset="0.3939" stop-color="#2a93ed"/><stop offset="0.4394" stop-color="#2b92ee"/><stop offset="0.4788" stop-color="#2698ea"/><stop offset="0.5121" stop-color="#1fa6e1"/><stop offset="0.5273" stop-color="#15afd9"/><stop offset="0.5394" stop-color="#04b6cd"/><stop offset="0.5455" stop-color="#01b9c6"/><stop offset="0.5515" stop-color="#08bcbf"/><stop offset="0.5667" stop-color="#2cc4a7"/><stop offset="0.5818" stop-color="#42ca8b"/><stop offset="0.6" stop-color="#70cd65"/><stop offset="0.6182" stop-color="#9dc943"/><stop offset="0.6394" stop-color="#c5c22a"/><stop offset="0.6515" stop-color="#d6be28"/><stop offset="0.6667" stop-color="#ddbd29"/><stop offset="0.6879" stop-color="#dbbd29"/><stop offset="0.7091" stop-color="#e7bb2d"/><stop offset="0.7182" stop-color="#e8bb2e"/><stop offset="0.7333" stop-color="#e4bb2c"/><stop offset="0.7424" stop-color="#debd29"/><stop offset="0.7545" stop-color="#cfc028"/><stop offset="0.7697" stop-color="#b1c635"/><stop offset="0.7788" stop-color="#9bc944"/><stop offset="0.7909" stop-color="#73cd63"/><stop offset="0.803" stop-color="#5ecd74"/><stop offset="0.8152" stop-color="#40ca8d"/><stop offset="0.8303" stop-color="#26c2ac"/><stop offset="0.8394" stop-color="#0cbdbc"/><stop offset="0.8455" stop-color="#01b9c6"/><stop offset="0.8485" stop-color="#01b8ca"/><stop offset="0.8606" stop-color="#14b0d8"/><stop offset="0.8758" stop-color="#1fa6e1"/><stop offset="0.9061" stop-color="#2994ed"/><stop offset="0.9394" stop-color="#327bfc"/><stop offset="0.9455" stop-color="#3777fe"/><stop offset="0.9636" stop-color="#4368fe"/><stop offset="1" stop-color="#4854f6"/></linearGradient><linearGradient id="r103"><stop offset="0" stop-color="#402ab3"/><stop offset="0.0455" stop-color="#463cdf"/><stop offset="0.0758" stop-color="#4853f5"/><stop offset="0.0939" stop-color="#4564fd"/><stop offset="0.1061" stop-color="#3e70ff"/><stop offset="0.1182" stop-color="#327bfc"/><stop offset="0.1424" stop-color="#2c8ff1"/><stop offset="0.1758" stop-color="#21a3e4"/><stop offset="0.2091" stop-color="#14b0d8"/><stop offset="0.2394" stop-color="#09b4d1"/><stop offset="0.2606" stop-color="#08b4d1"/><stop offset="0.2879" stop-color="#16afd9"/><stop offset="0.3303" stop-color="#23a1e5"/><stop offset="0.3727" stop-color="#2994ed"/><stop offset="0.4364" stop-color="#2c8ff0"/><stop offset="0.4788" stop-color="#2796eb"/><stop offset="0.5121" stop-color="#21a4e3"/><stop offset="0.5303" stop-color="#17aeda"/><stop offset="0.5424" stop-color="#06b5cf"/><stop offset="0.5485" stop-color="#01b8c8"/><stop offset="0.5545" stop-color="#05bbc1"/><stop offset="0.5667" stop-color="#24c1ae"/><stop offset="0.5848" stop-color="#3fca8e"/><stop offset="0.6" stop-color="#64cd6f"/><stop offset="0.6242" stop-color="#9fc942"/><stop offset="0.6364" stop-color="#b6c532"/><stop offset="0.6485" stop-color="#cbc129"/><stop offset="0.6667" stop-color="#d5be28"/><stop offset="0.6909" stop-color="#d3bf27"/><stop offset="0.703" stop-color="#ddbd29"/><stop offset="0.7152" stop-color="#e1bc2b"/><stop offset="0.7303" stop-color="#debd29"/><stop offset="0.7455" stop-color="#d3bf27"/><stop offset="0.7545" stop-color="#c6c22a"/><stop offset="0.7727" stop-color="#9fc941"/><stop offset="0.7788" stop-color="#91ca4d"/><stop offset="0.7879" stop-color="#73cd63"/><stop offset="0.7939" stop-color="#63cd6f"/><stop offset="0.803" stop-color="#55cc7b"/><stop offset="0.8121" stop-color="#3fca8e"/><stop offset="0.8242" stop-color="#2cc4a7"/><stop offset="0.8364" stop-color="#0abdbe"/><stop offset="0.8394" stop-color="#03bbc2"/><stop offset="0.8424" stop-color="#01b9c7"/><stop offset="0.8455" stop-color="#02b7cb"/><stop offset="0.8545" stop-color="#12b1d6"/><stop offset="0.8697" stop-color="#1ea8e0"/><stop offset="0.9364" stop-color="#337afd"/><stop offset="0.9606" stop-color="#4368fe"/><stop offset="1" stop-color="#4853f4"/></linearGradient><linearGradient id="r104"><stop offset="0" stop-color="#3f29b2"/><stop offset="0.0455" stop-color="#463bdd"/><stop offset="0.0758" stop-color="#4852f4"/><stop offset="0.1" stop-color="#4368fe"/><stop offset="0.1242" stop-color="#307ffb"/><stop offset="0.1576" stop-color="#2797eb"/><stop offset="0.1818" stop-color="#21a4e3"/><stop offset="0.2121" stop-color="#16afda"/><stop offset="0.2545" stop-color="#0cb3d3"/><stop offset="0.2848" stop-color="#18aedb"/><stop offset="0.3273" stop-color="#249fe5"/><stop offset="0.3576" stop-color="#2895ec"/><stop offset="0.3939" stop-color="#2c8ef1"/><stop offset="0.4424" stop-color="#2d8df2"/><stop offset="0.4758" stop-color="#2a93ed"/><stop offset="0.5212" stop-color="#1fa6e2"/><stop offset="0.5333" stop-color="#18aedb"/><stop offset="0.5485" stop-color="#04b6cd"/><stop offset="0.5545" stop-color="#01b9c6"/><stop offset="0.5606" stop-color="#09bcbe"/><stop offset="0.5697" stop-color="#22c1b0"/><stop offset="0.5879" stop-color="#3cc991"/><stop offset="0.603" stop-color="#5fcd73"/><stop offset="0.6273" stop-color="#99c946"/><stop offset="0.6424" stop-color="#b8c531"/><stop offset="0.6515" stop-color="#c5c22a"/><stop offset="0.6667" stop-color="#ccc028"/><stop offset="0.6879" stop-color="#cbc029"/><stop offset="0.6939" stop-color="#cdc028"/><stop offset="0.703" stop-color="#d6be28"/><stop offset="0.7121" stop-color="#d9be28"/><stop offset="0.7242" stop-color="#d8be28"/><stop offset="0.7394" stop-color="#d0c027"/><stop offset="0.7515" stop-color="#c2c22c"/><stop offset="0.7606" stop-color="#b0c636"/><stop offset="0.7818" stop-color="#7dcc5b"/><stop offset="0.7909" stop-color="#60cd72"/><stop offset="0.8" stop-color="#50cc80"/><stop offset="0.8061" stop-color="#45cb89"/><stop offset="0.8242" stop-color="#25c2ae"/><stop offset="0.8303" stop-color="#10beba"/><stop offset="0.8364" stop-color="#02bac4"/><stop offset="0.8424" stop-color="#03b7cc"/><stop offset="0.8515" stop-color="#13b1d7"/><stop offset="0.8636" stop-color="#1da9e0"/><stop offset="0.903" stop-color="#2c90f0"/><stop offset="0.9273" stop-color="#307ffb"/><stop offset="0.9364" stop-color="#3777fe"/><stop offset="0.9636" stop-color="#4564fd"/><stop offset="1" stop-color="#4851f3"/></linearGradient><linearGradient id="r105"><stop offset="0" stop-color="#3f29b1"/><stop offset="0.0455" stop-color="#463adc"/><stop offset="0.0788" stop-color="#4853f5"/><stop offset="0.097" stop-color="#4563fd"/><stop offset="0.1091" stop-color="#3f6fff"/><stop offset="0.1242" stop-color="#317dfc"/><stop offset="0.1606" stop-color="#2797eb"/><stop offset="0.2121" stop-color="#19addc"/><stop offset="0.2394" stop-color="#12b1d7"/><stop offset="0.2636" stop-color="#13b1d7"/><stop offset="0.3121" stop-color="#22a2e4"/><stop offset="0.3636" stop-color="#2b92ee"/><stop offset="0.4" stop-color="#2d8bf3"/><stop offset="0.4364" stop-color="#2d8af4"/><stop offset="0.4758" stop-color="#2b91ef"/><stop offset="0.503" stop-color="#269ae8"/><stop offset="0.5212" stop-color="#21a4e3"/><stop offset="0.5364" stop-color="#19addc"/><stop offset="0.5545" stop-color="#02b7cb"/><stop offset="0.5576" stop-color="#01b9c7"/><stop offset="0.5606" stop-color="#02bac3"/><stop offset="0.5636" stop-color="#08bcbf"/><stop offset="0.5758" stop-color="#26c2ad"/><stop offset="0.5939" stop-color="#3eca8f"/><stop offset="0.6091" stop-color="#60cd72"/><stop offset="0.6242" stop-color="#86cb55"/><stop offset="0.6394" stop-color="#a6c73c"/><stop offset="0.6455" stop-color="#b3c534"/><stop offset="0.6515" stop-color="#bbc430"/><stop offset="0.6667" stop-color="#c3c22b"/><stop offset="0.6939" stop-color="#c6c22a"/><stop offset="0.7121" stop-color="#d2bf27"/><stop offset="0.7242" stop-color="#d0bf27"/><stop offset="0.7424" stop-color="#c4c22b"/><stop offset="0.7515" stop-color="#b8c531"/><stop offset="0.7576" stop-color="#abc739"/><stop offset="0.7818" stop-color="#71cd64"/><stop offset="0.7909" stop-color="#56cc7b"/><stop offset="0.8" stop-color="#45cb89"/><stop offset="0.8061" stop-color="#3cc991"/><stop offset="0.8212" stop-color="#24c1ae"/><stop offset="0.8303" stop-color="#06bcc0"/><stop offset="0.8333" stop-color="#02bac5"/><stop offset="0.8364" stop-color="#01b8c9"/><stop offset="0.8485" stop-color="#14b0d8"/><stop offset="0.8576" stop-color="#1caadf"/><stop offset="0.903" stop-color="#2d8df2"/><stop offset="0.9212" stop-color="#3080fb"/><stop offset="0.9394" stop-color="#3c71ff"/><stop offset="0.9606" stop-color="#4564fd"/><stop offset="1" stop-color="#484ff2"/></linearGradient><linearGradient id="r106"><stop offset="0" stop-color="#3f29b0"/><stop offset="0.0485" stop-color="#463bdd"/><stop offset="0.0788" stop-color="#4851f4"/><stop offset="0.1" stop-color="#4465fd"/><stop offset="0.1121" stop-color="#3e70ff"/><stop offset="0.1273" stop-color="#317efb"/><stop offset="0.1636" stop-color="#2797eb"/><stop offset="0.2152" stop-color="#1aacdd"/><stop offset="0.2424" stop-color="#15afd9"/><stop offset="0.2636" stop-color="#16afd9"/><stop offset="0.3091" stop-color="#23a1e4"/><stop offset="0.3576" stop-color="#2b91ef"/><stop offset="0.397" stop-color="#2d89f5"/><stop offset="0.4394" stop-color="#2d88f6"/><stop offset="0.4758" stop-color="#2c8ff0"/><stop offset="0.503" stop-color="#2698ea"/><stop offset="0.5273" stop-color="#20a5e2"/><stop offset="0.5424" stop-color="#17aeda"/><stop offset="0.5606" stop-color="#01b8c8"/><stop offset="0.5667" stop-color="#07bcc0"/><stop offset="0.5818" stop-color="#29c3aa"/><stop offset="0.6" stop-color="#41ca8c"/><stop offset="0.6212" stop-color="#71cd64"/><stop offset="0.6424" stop-color="#a2c840"/><stop offset="0.6485" stop-color="#adc638"/><stop offset="0.6636" stop-color="#b9c431"/><stop offset="0.6909" stop-color="#bec32e"/><stop offset="0.7061" stop-color="#c9c129"/><stop offset="0.7242" stop-color="#c8c129"/><stop offset="0.7424" stop-color="#bac430"/><stop offset="0.7545" stop-color="#a7c73c"/><stop offset="0.7758" stop-color="#73cd63"/><stop offset="0.7909" stop-color="#4bcb83"/><stop offset="0.797" stop-color="#3fca8e"/><stop offset="0.8152" stop-color="#2ac3a9"/><stop offset="0.8212" stop-color="#1bc0b4"/><stop offset="0.8273" stop-color="#06bcc0"/><stop offset="0.8303" stop-color="#01b9c6"/><stop offset="0.8333" stop-color="#01b8ca"/><stop offset="0.8485" stop-color="#18aedb"/><stop offset="0.8576" stop-color="#1ea8e1"/><stop offset="0.9242" stop-color="#337afd"/><stop offset="0.9394" stop-color="#3f6eff"/><stop offset="0.9576" stop-color="#4563fd"/><stop offset="1" stop-color="#484ef1"/></linearGradient><linearGradient id="r107"><stop offset="0" stop-color="#3f29af"/><stop offset="0.0485" stop-color="#463adc"/><stop offset="0.0818" stop-color="#4853f5"/><stop offset="0.097" stop-color="#4660fc"/><stop offset="0.1121" stop-color="#3f6eff"/><stop offset="0.1333" stop-color="#2f81fa"/><stop offset="0.1667" stop-color="#2797eb"/><stop offset="0.1909" stop-color="#22a2e4"/><stop offset="0.2333" stop-color="#19addc"/><stop offset="0.2697" stop-color="#1aacdd"/><stop offset="0.3576" stop-color="#2c8ff0"/><stop offset="0.397" stop-color="#2d87f7"/><stop offset="0.4273" stop-color="#2e85f8"/><stop offset="0.4758" stop-color="#2d8df2"/><stop offset="0.5212" stop-color="#249fe5"/><stop offset="0.5455" stop-color="#18aedb"/><stop offset="0.5636" stop-color="#01b8c8"/><stop offset="0.5697" stop-color="#06bcc0"/><stop offset="0.5818" stop-color="#22c1b0"/><stop offset="0.5879" stop-color="#2cc4a7"/><stop offset="0.603" stop-color="#3dca90"/><stop offset="0.6182" stop-color="#5ecd74"/><stop offset="0.6394" stop-color="#8fca4d"/><stop offset="0.6515" stop-color="#a6c83d"/><stop offset="0.6636" stop-color="#b0c636"/><stop offset="0.6909" stop-color="#b7c532"/><stop offset="0.7061" stop-color="#c2c22c"/><stop offset="0.7152" stop-color="#c3c22b"/><stop offset="0.7333" stop-color="#bac430"/><stop offset="0.7455" stop-color="#acc738"/><stop offset="0.7515" stop-color="#a2c840"/><stop offset="0.7727" stop-color="#6ecd67"/><stop offset="0.7909" stop-color="#41ca8c"/><stop offset="0.8121" stop-color="#28c3aa"/><stop offset="0.8273" stop-color="#01bac5"/><stop offset="0.8303" stop-color="#01b7ca"/><stop offset="0.8394" stop-color="#11b1d6"/><stop offset="0.8545" stop-color="#1ea7e1"/><stop offset="0.8909" stop-color="#2c90f0"/><stop offset="0.9152" stop-color="#317dfc"/><stop offset="0.9455" stop-color="#4368fe"/><stop offset="0.9758" stop-color="#4756f7"/><stop offset="1" stop-color="#484cef"/></linearGradient><linearGradient id="r108"><stop offset="0" stop-color="#3f28af"/><stop offset="0.0515" stop-color="#463bdd"/><stop offset="0.0909" stop-color="#4759f9"/><stop offset="0.1152" stop-color="#3e6fff"/><stop offset="0.1303" stop-color="#317dfc"/><stop offset="0.1697" stop-color="#2797eb"/><stop offset="0.203" stop-color="#20a5e3"/><stop offset="0.2303" stop-color="#1babde"/><stop offset="0.2667" stop-color="#1babde"/><stop offset="0.3576" stop-color="#2d8df2"/><stop offset="0.403" stop-color="#2e84f8"/><stop offset="0.4303" stop-color="#2e83f9"/><stop offset="0.4788" stop-color="#2d8cf3"/><stop offset="0.5273" stop-color="#23a1e4"/><stop offset="0.5485" stop-color="#18addb"/><stop offset="0.5667" stop-color="#01b8c9"/><stop offset="0.5758" stop-color="#0abdbd"/><stop offset="0.5848" stop-color="#20c1b1"/><stop offset="0.5909" stop-color="#2ac3a9"/><stop offset="0.6091" stop-color="#3fca8e"/><stop offset="0.6242" stop-color="#60cd72"/><stop offset="0.6424" stop-color="#8bcb51"/><stop offset="0.6545" stop-color="#9fc942"/><stop offset="0.6636" stop-color="#a6c73c"/><stop offset="0.6909" stop-color="#b0c636"/><stop offset="0.703" stop-color="#b9c430"/><stop offset="0.7152" stop-color="#bbc42f"/><stop offset="0.7303" stop-color="#b4c534"/><stop offset="0.7394" stop-color="#aac739"/><stop offset="0.7485" stop-color="#9dc943"/><stop offset="0.7667" stop-color="#71cd64"/><stop offset="0.7879" stop-color="#3eca8f"/><stop offset="0.7939" stop-color="#35c79a"/><stop offset="0.8091" stop-color="#26c2ac"/><stop offset="0.8152" stop-color="#19bfb5"/><stop offset="0.8212" stop-color="#07bcbf"/><stop offset="0.8242" stop-color="#02bac5"/><stop offset="0.8273" stop-color="#01b8ca"/><stop offset="0.8394" stop-color="#15afd9"/><stop offset="0.8485" stop-color="#1da9e0"/><stop offset="0.8879" stop-color="#2c90f0"/><stop offset="0.903" stop-color="#2e84f9"/><stop offset="0.9152" stop-color="#347afd"/><stop offset="0.9333" stop-color="#406dfe"/><stop offset="0.9455" stop-color="#4466fd"/><stop offset="1" stop-color="#484aee"/></linearGradient><linearGradient id="r109"><stop offset="0" stop-color="#3f28ae"/><stop offset="0.0515" stop-color="#463adc"/><stop offset="0.0848" stop-color="#4853f5"/><stop offset="0.1091" stop-color="#4368fe"/><stop offset="0.1182" stop-color="#3d70ff"/><stop offset="0.1333" stop-color="#317dfb"/><stop offset="0.1636" stop-color="#2b92ee"/><stop offset="0.1939" stop-color="#23a0e5"/><stop offset="0.2303" stop-color="#1da9e0"/><stop offset="0.2545" stop-color="#1baade"/><stop offset="0.2727" stop-color="#1ea8e1"/><stop offset="0.3424" stop-color="#2c90f0"/><stop offset="0.3667" stop-color="#2d89f5"/><stop offset="0.403" stop-color="#2f82f9"/><stop offset="0.4333" stop-color="#2f81fa"/><stop offset="0.4788" stop-color="#2d8af4"/><stop offset="0.5303" stop-color="#23a0e5"/><stop offset="0.5515" stop-color="#19addc"/><stop offset="0.5667" stop-color="#04b6cd"/><stop offset="0.5727" stop-color="#01b9c6"/><stop offset="0.5788" stop-color="#09bcbe"/><stop offset="0.5909" stop-color="#23c1af"/><stop offset="0.6152" stop-color="#41ca8c"/><stop offset="0.6424" stop-color="#7fcc5a"/><stop offset="0.6576" stop-color="#98ca47"/><stop offset="0.703" stop-color="#b2c635"/><stop offset="0.7152" stop-color="#b3c534"/><stop offset="0.7303" stop-color="#abc739"/><stop offset="0.7394" stop-color="#a0c840"/><stop offset="0.7485" stop-color="#92ca4c"/><stop offset="0.7667" stop-color="#65cd6e"/><stop offset="0.7848" stop-color="#3cc992"/><stop offset="0.7939" stop-color="#30c5a2"/><stop offset="0.8061" stop-color="#23c1af"/><stop offset="0.8212" stop-color="#02bac4"/><stop offset="0.8242" stop-color="#01b8c9"/><stop offset="0.8364" stop-color="#15afd9"/><stop offset="0.8455" stop-color="#1da9e0"/><stop offset="0.8879" stop-color="#2d8df2"/><stop offset="0.903" stop-color="#2f81fa"/><stop offset="0.9152" stop-color="#3777fe"/><stop offset="0.9273" stop-color="#3f6fff"/><stop offset="0.9455" stop-color="#4564fd"/><stop offset="0.9727" stop-color="#4854f6"/><stop offset="1" stop-color="#4849ed"/></linearGradient><linearGradient id="r110"><stop offset="0" stop-color="#3f28ad"/><stop offset="0.0545" stop-color="#463bdd"/><stop offset="0.0879" stop-color="#4854f6"/><stop offset="0.1061" stop-color="#4464fd"/><stop offset="0.1212" stop-color="#3c71ff"/><stop offset="0.1394" stop-color="#2f81fa"/><stop offset="0.1606" stop-color="#2c8ff1"/><stop offset="0.1848" stop-color="#269ae8"/><stop offset="0.2212" stop-color="#1fa6e2"/><stop offset="0.2727" stop-color="#1fa6e2"/><stop offset="0.3364" stop-color="#2c90f0"/><stop offset="0.4091" stop-color="#307ffb"/><stop offset="0.4424" stop-color="#2f80fa"/><stop offset="0.4727" stop-color="#2e87f7"/><stop offset="0.497" stop-color="#2c8ef1"/><stop offset="0.5394" stop-color="#21a4e3"/><stop offset="0.5545" stop-color="#19addc"/><stop offset="0.5727" stop-color="#01b8ca"/><stop offset="0.5788" stop-color="#02bbc3"/><stop offset="0.597" stop-color="#25c2ae"/><stop offset="0.6182" stop-color="#3eca8f"/><stop offset="0.6303" stop-color="#56cc7a"/><stop offset="0.6455" stop-color="#7acc5e"/><stop offset="0.6576" stop-color="#8dcb4f"/><stop offset="0.6727" stop-color="#99c946"/><stop offset="0.7091" stop-color="#acc738"/><stop offset="0.7242" stop-color="#a7c73c"/><stop offset="0.7424" stop-color="#92ca4c"/><stop offset="0.7485" stop-color="#87cb54"/><stop offset="0.7576" stop-color="#71cd64"/><stop offset="0.7788" stop-color="#3eca8f"/><stop offset="0.7909" stop-color="#2ec4a5"/><stop offset="0.8" stop-color="#22c1b0"/><stop offset="0.8152" stop-color="#05bbc1"/><stop offset="0.8182" stop-color="#02bac5"/><stop offset="0.8212" stop-color="#01b8c9"/><stop offset="0.8364" stop-color="#19addc"/><stop offset="0.8455" stop-color="#1fa6e2"/><stop offset="0.8879" stop-color="#2d8bf4"/><stop offset="0.9" stop-color="#2f80fa"/><stop offset="0.9121" stop-color="#3876fe"/><stop offset="0.9364" stop-color="#4466fd"/><stop offset="0.9636" stop-color="#4757f8"/><stop offset="1" stop-color="#4747eb"/></linearGradient><linearGradient id="r111"><stop offset="0" stop-color="#3e27ac"/><stop offset="0.0576" stop-color="#463cdf"/><stop offset="0.0879" stop-color="#4853f5"/><stop offset="0.103" stop-color="#4660fc"/><stop offset="0.1242" stop-color="#3b72ff"/><stop offset="0.1364" stop-color="#317dfc"/><stop offset="0.1515" stop-color="#2d88f6"/><stop offset="0.1727" stop-color="#2a93ed"/><stop offset="0.2152" stop-color="#21a3e4"/><stop offset="0.2636" stop-color="#1fa6e2"/><stop offset="0.3394" stop-color="#2d8df2"/><stop offset="0.4" stop-color="#307efb"/><stop offset="0.4364" stop-color="#317dfb"/><stop offset="0.4667" stop-color="#2e84f9"/><stop offset="0.5091" stop-color="#2b92ee"/><stop offset="0.5455" stop-color="#20a5e2"/><stop offset="0.5576" stop-color="#19addc"/><stop offset="0.5758" stop-color="#02b7cb"/><stop offset="0.5818" stop-color="#02bac5"/><stop offset="0.5879" stop-color="#09bcbe"/><stop offset="0.603" stop-color="#26c2ad"/><stop offset="0.6242" stop-color="#3fca8e"/><stop offset="0.6485" stop-color="#74cd62"/><stop offset="0.6606" stop-color="#86cb55"/><stop offset="0.7" stop-color="#a1c840"/><stop offset="0.7121" stop-color="#a3c83e"/><stop offset="0.7273" stop-color="#9bc945"/><stop offset="0.7394" stop-color="#8ccb50"/><stop offset="0.7515" stop-color="#74cc62"/><stop offset="0.7727" stop-color="#41ca8c"/><stop offset="0.7909" stop-color="#27c2ac"/><stop offset="0.8091" stop-color="#07bcbf"/><stop offset="0.8152" stop-color="#01b9c6"/><stop offset="0.8182" stop-color="#01b8ca"/><stop offset="0.8333" stop-color="#19addc"/><stop offset="0.8424" stop-color="#1fa6e2"/><stop offset="0.8818" stop-color="#2d8df2"/><stop offset="0.8939" stop-color="#2e83f9"/><stop offset="0.903" stop-color="#337bfd"/><stop offset="0.9182" stop-color="#3f6eff"/><stop offset="0.9364" stop-color="#4564fd"/><stop offset="1" stop-color="#4745e9"/></linearGradient><linearGradient id="r112"><stop offset="0" stop-color="#3e27ab"/><stop offset="0.0576" stop-color="#463bde"/><stop offset="0.0909" stop-color="#4854f6"/><stop offset="0.1091" stop-color="#4564fd"/><stop offset="0.1242" stop-color="#3d71ff"/><stop offset="0.1394" stop-color="#317dfc"/><stop offset="0.1485" stop-color="#2e84f8"/><stop offset="0.1848" stop-color="#2797eb"/><stop offset="0.2152" stop-color="#23a1e5"/><stop offset="0.2636" stop-color="#21a4e3"/><stop offset="0.2879" stop-color="#249de6"/><stop offset="0.3333" stop-color="#2d8df2"/><stop offset="0.3939" stop-color="#317dfb"/><stop offset="0.4152" stop-color="#337afd"/><stop offset="0.4485" stop-color="#317dfc"/><stop offset="0.4818" stop-color="#2e86f8"/><stop offset="0.5061" stop-color="#2c8ef1"/><stop offset="0.5424" stop-color="#23a1e4"/><stop offset="0.5667" stop-color="#14b0d8"/><stop offset="0.5758" stop-color="#07b5cf"/><stop offset="0.5848" stop-color="#01b9c6"/><stop offset="0.5939" stop-color="#0abdbd"/><stop offset="0.6121" stop-color="#2cc4a7"/><stop offset="0.6273" stop-color="#3cc991"/><stop offset="0.6455" stop-color="#62cd70"/><stop offset="0.6545" stop-color="#73cd63"/><stop offset="0.6697" stop-color="#84cc56"/><stop offset="0.7" stop-color="#99c946"/><stop offset="0.7152" stop-color="#9ac946"/><stop offset="0.7303" stop-color="#8ecb4f"/><stop offset="0.7455" stop-color="#75cc61"/><stop offset="0.7697" stop-color="#3eca8f"/><stop offset="0.7848" stop-color="#2ac3a9"/><stop offset="0.8" stop-color="#0abdbd"/><stop offset="0.8061" stop-color="#03bbc2"/><stop offset="0.8121" stop-color="#01b8c8"/><stop offset="0.8182" stop-color="#06b5cf"/><stop offset="0.8303" stop-color="#19addc"/><stop offset="0.8424" stop-color="#21a3e3"/><stop offset="0.8788" stop-color="#2d8cf3"/><stop offset="0.8909" stop-color="#2e83f9"/><stop offset="0.903" stop-color="#3678fe"/><stop offset="0.9121" stop-color="#3e70ff"/><stop offset="0.9273" stop-color="#4466fd"/><stop offset="0.9485" stop-color="#475bfa"/><stop offset="1" stop-color="#4744e8"/></linearGradient><linearGradient id="r113"><stop offset="0" stop-color="#3e27aa"/><stop offset="0.0606" stop-color="#463cdf"/><stop offset="0.0909" stop-color="#4853f5"/><stop offset="0.1121" stop-color="#4465fd"/><stop offset="0.1273" stop-color="#3c71ff"/><stop offset="0.1455" stop-color="#2f80fa"/><stop offset="0.1667" stop-color="#2d8df2"/><stop offset="0.2152" stop-color="#249fe6"/><stop offset="0.2333" stop-color="#22a2e4"/><stop offset="0.2727" stop-color="#23a0e5"/><stop offset="0.3273" stop-color="#2d8df2"/><stop offset="0.3515" stop-color="#2e86f8"/><stop offset="0.4091" stop-color="#3578fd"/><stop offset="0.4303" stop-color="#3678fd"/><stop offset="0.4576" stop-color="#317dfc"/><stop offset="0.5061" stop-color="#2d8cf3"/><stop offset="0.5485" stop-color="#22a2e4"/><stop offset="0.5667" stop-color="#18aedb"/><stop offset="0.5818" stop-color="#05b6ce"/><stop offset="0.5909" stop-color="#01b9c6"/><stop offset="0.6" stop-color="#0abdbd"/><stop offset="0.6121" stop-color="#24c2ae"/><stop offset="0.6242" stop-color="#33c69e"/><stop offset="0.6333" stop-color="#3eca8f"/><stop offset="0.6515" stop-color="#62cd70"/><stop offset="0.6667" stop-color="#77cc60"/><stop offset="0.6939" stop-color="#8dcb50"/><stop offset="0.703" stop-color="#92ca4c"/><stop offset="0.7152" stop-color="#90ca4d"/><stop offset="0.7303" stop-color="#83cc57"/><stop offset="0.7424" stop-color="#6fcd65"/><stop offset="0.7667" stop-color="#3cc992"/><stop offset="0.7818" stop-color="#27c2ab"/><stop offset="0.7939" stop-color="#09bcbe"/><stop offset="0.797" stop-color="#04bbc1"/><stop offset="0.803" stop-color="#01b9c6"/><stop offset="0.8091" stop-color="#02b7cb"/><stop offset="0.8273" stop-color="#19addc"/><stop offset="0.8424" stop-color="#23a1e4"/><stop offset="0.8697" stop-color="#2c90f0"/><stop offset="0.8879" stop-color="#2e83f9"/><stop offset="0.9061" stop-color="#3c72ff"/><stop offset="0.9182" stop-color="#4369fe"/><stop offset="0.9333" stop-color="#4661fc"/><stop offset="0.9758" stop-color="#484bef"/><stop offset="1" stop-color="#4742e6"/></linearGradient><linearGradient id="r114"><stop offset="0" stop-color="#3e26a9"/><stop offset="0.0606" stop-color="#463bdd"/><stop offset="0.0939" stop-color="#4854f6"/><stop offset="0.1121" stop-color="#4563fd"/><stop offset="0.1303" stop-color="#3b72ff"/><stop offset="0.1485" stop-color="#2f80fa"/><stop offset="0.1727" stop-color="#2c8ef2"/><stop offset="0.2152" stop-color="#259de7"/><stop offset="0.2364" stop-color="#23a0e5"/><stop offset="0.2727" stop-color="#249ee6"/><stop offset="0.3394" stop-color="#2e87f7"/><stop offset="0.4061" stop-color="#3776fe"/><stop offset="0.4242" stop-color="#3975fe"/><stop offset="0.4667" stop-color="#317dfc"/><stop offset="0.4939" stop-color="#2e85f8"/><stop offset="0.5182" stop-color="#2c90f0"/><stop offset="0.5545" stop-color="#21a3e3"/><stop offset="0.5727" stop-color="#17aeda"/><stop offset="0.5909" stop-color="#02b7cb"/><stop offset="0.597" stop-color="#01b9c6"/><stop offset="0.6" stop-color="#02bac3"/><stop offset="0.6061" stop-color="#0bbdbd"/><stop offset="0.6182" stop-color="#26c2ad"/><stop offset="0.6303" stop-color="#33c79d"/><stop offset="0.6394" stop-color="#40ca8d"/><stop offset="0.6485" stop-color="#52cc7e"/><stop offset="0.6576" stop-color="#60cd72"/><stop offset="0.6727" stop-color="#72cd64"/><stop offset="0.697" stop-color="#86cb55"/><stop offset="0.7091" stop-color="#88cb53"/><stop offset="0.7182" stop-color="#84cc56"/><stop offset="0.7364" stop-color="#6ecd66"/><stop offset="0.7606" stop-color="#3eca8f"/><stop offset="0.7788" stop-color="#25c2ad"/><stop offset="0.7909" stop-color="#06bcc0"/><stop offset="0.797" stop-color="#01b9c8"/><stop offset="0.8061" stop-color="#05b6ce"/><stop offset="0.8182" stop-color="#14b0d8"/><stop offset="0.8333" stop-color="#20a5e2"/><stop offset="0.8697" stop-color="#2d8df2"/><stop offset="0.8909" stop-color="#317dfc"/><stop offset="0.903" stop-color="#3d71ff"/><stop offset="0.9212" stop-color="#4564fd"/><stop offset="0.9364" stop-color="#475dfa"/><stop offset="1" stop-color="#4740e4"/></linearGradient><linearGradient id="r115"><stop offset="0" stop-color="#3e26a8"/><stop offset="0.0606" stop-color="#463adb"/><stop offset="0.0909" stop-color="#4850f3"/><stop offset="0.1152" stop-color="#4563fd"/><stop offset="0.1333" stop-color="#3c72ff"/><stop offset="0.1455" stop-color="#327cfc"/><stop offset="0.1576" stop-color="#2e84f9"/><stop offset="0.2152" stop-color="#269ae9"/><stop offset="0.2364" stop-color="#259de7"/><stop offset="0.2727" stop-color="#269be8"/><stop offset="0.3303" stop-color="#2d87f7"/><stop offset="0.4121" stop-color="#3b72ff"/><stop offset="0.4333" stop-color="#3b72fe"/><stop offset="0.4576" stop-color="#3678fe"/><stop offset="0.5061" stop-color="#2e87f7"/><stop offset="0.5242" stop-color="#2c90f0"/><stop offset="0.5606" stop-color="#21a3e3"/><stop offset="0.5788" stop-color="#18aedb"/><stop offset="0.5939" stop-color="#07b5d0"/><stop offset="0.603" stop-color="#01b8c8"/><stop offset="0.6091" stop-color="#05bbc1"/><stop offset="0.6242" stop-color="#24c1ae"/><stop offset="0.6455" stop-color="#3eca8f"/><stop offset="0.6515" stop-color="#49cb86"/><stop offset="0.6697" stop-color="#61cd72"/><stop offset="0.697" stop-color="#78cc5f"/><stop offset="0.7091" stop-color="#7acc5e"/><stop offset="0.7182" stop-color="#75cc62"/><stop offset="0.7273" stop-color="#6ccd69"/><stop offset="0.7394" stop-color="#5acc77"/><stop offset="0.7545" stop-color="#3eca8f"/><stop offset="0.7727" stop-color="#25c2ad"/><stop offset="0.7848" stop-color="#07bcc0"/><stop offset="0.7909" stop-color="#01b8c8"/><stop offset="0.797" stop-color="#06b5cf"/><stop offset="0.8212" stop-color="#1caadf"/><stop offset="0.8636" stop-color="#2d8df2"/><stop offset="0.8848" stop-color="#307efb"/><stop offset="0.897" stop-color="#3c72ff"/><stop offset="0.9061" stop-color="#426afe"/><stop offset="0.9303" stop-color="#475cfa"/><stop offset="0.9667" stop-color="#484bef"/><stop offset="0.9879" stop-color="#4741e5"/><stop offset="1" stop-color="#463ee1"/></linearGradient><linearGradient id="cb" x1="0" y1="1" x2="0" y2="0"><stop offset="0.0000" stop-color="#3e26a8"/><stop offset="0.0159" stop-color="#402ab4"/><stop offset="0.0317" stop-color="#422ec0"/><stop offset="0.0476" stop-color="#4332cb"/><stop offset="0.0635" stop-color="#4537d5"/><stop offset="0.0794" stop-color="#463cde"/><stop offset="0.0952" stop-color="#4741e5"/><stop offset="0.1111" stop-color="#4747eb"/><stop offset="0.1270" stop-color="#484df0"/><stop offset="0.1429" stop-color="#4852f4"/><stop offset="0.1587" stop-color="#4758f8"/><stop offset="0.1746" stop-color="#465efb"/><stop offset="0.1905" stop-color="#4563fd"/><stop offset="0.2063" stop-color="#4269fe"/><stop offset="0.2222" stop-color="#3e6fff"/><stop offset="0.2381" stop-color="#3875fe"/><stop offset="0.2540" stop-color="#327cfc"/><stop offset="0.2698" stop-color="#2f81fa"/><stop offset="0.2857" stop-color="#2e87f7"/><stop offset="0.3016" stop-color="#2d8cf3"/><stop offset="0.3175" stop-color="#2b91ef"/><stop offset="0.3333" stop-color="#2797eb"/><stop offset="0.3492" stop-color="#259be8"/><stop offset="0.3651" stop-color="#23a0e5"/><stop offset="0.3810" stop-color="#20a5e3"/><stop offset="0.3968" stop-color="#1ca9df"/><stop offset="0.4127" stop-color="#18addb"/><stop offset="0.4286" stop-color="#12b1d6"/><stop offset="0.4444" stop-color="#08b5d0"/><stop offset="0.4603" stop-color="#01b8ca"/><stop offset="0.4762" stop-color="#02bac3"/><stop offset="0.4921" stop-color="#0bbdbd"/><stop offset="0.5079" stop-color="#19bfb6"/><stop offset="0.5238" stop-color="#24c1ae"/><stop offset="0.5397" stop-color="#2cc4a7"/><stop offset="0.5556" stop-color="#31c69f"/><stop offset="0.5714" stop-color="#37c897"/><stop offset="0.5873" stop-color="#3fca8e"/><stop offset="0.6032" stop-color="#4acb84"/><stop offset="0.6190" stop-color="#57cc7a"/><stop offset="0.6349" stop-color="#64cd6f"/><stop offset="0.6508" stop-color="#72cd64"/><stop offset="0.6667" stop-color="#81cc59"/><stop offset="0.6825" stop-color="#8fcb4e"/><stop offset="0.6984" stop-color="#9dc943"/><stop offset="0.7143" stop-color="#abc739"/><stop offset="0.7302" stop-color="#b9c431"/><stop offset="0.7460" stop-color="#c5c22a"/><stop offset="0.7619" stop-color="#d1bf27"/><stop offset="0.7778" stop-color="#dcbd29"/><stop offset="0.7937" stop-color="#e6bb2d"/><stop offset="0.8095" stop-color="#f0ba36"/><stop offset="0.8254" stop-color="#f8ba3d"/><stop offset="0.8413" stop-color="#febe3c"/><stop offset="0.8571" stop-color="#fec338"/><stop offset="0.8730" stop-color="#fec934"/><stop offset="0.8889" stop-color="#fccf30"/><stop offset="0.9048" stop-color="#fad62d"/><stop offset="0.9206" stop-color="#f7dc2a"/><stop offset="0.9365" stop-color="#f5e327"/><stop offset="0.9524" stop-color="#f5e924"/><stop offset="0.9683" stop-color="#f6ef20"/><stop offset="0.9841" stop-color="#f7f51b"/><stop offset="1.0000" stop-color="#f9fb15"/></linearGradient><clipPath id="pc"><rect x="356.0" y="125.0" width="1322.2" height="1081.8"/></clipPath></defs>
<rect width="2004" height="1460" fill="#fff"/>
<g shape-rendering="crispEdges"><rect x="356.0" y="125.00" width="1322.2" height="12.60" fill="url(#r0)"/><rect x="356.0" y="137.00" width="1322.2" height="12.60" fill="url(#r1)"/><rect x="356.0" y="149.00" width="1322.2" height="12.60" fill="url(#r2)"/><rect x="356.0" y="161.00" width="1322.2" height="12.60" fill="url(#r3)"/><rect x="356.0" y="173.00" width="1322.2" height="12.60" fill="url(#r4)"/><rect x="356.0" y="185.00" width="1322.2" height="12.60" fill="url(#r5)"/><rect x="356.0" y="197.00" width="1322.2" height="12.60" fill="url(#r6)"/><rect x="356.0" y="209.00" width="1322.2" height="12.60" fill="url(#r7)"/><rect x="356.0" y="221.00" width="1322.2" height="12.60" fill="url(#r8)"/><rect x="356.0" y="233.00" width="1322.2" height="12.60" fill="url(#r9)"/><rect x="356.0" y="245.00" width="1322.2" height="12.60" fill="url(#r10)"/><rect x="356.0" y="257.00" width="1322.2" height="12.60" fill="url(#r11)"/><rect x="356.0" y="269.00" width="1322.2" height="12.60" fill="url(#r12)"/><rect x="356.0" y="281.00" width="1322.2" height="12.60" fill="url(#r13)"/><rect x="356.0" y="293.00" width="1322.2" height="12.60" fill="url(#r14)"/><rect x="356.0" y="305.00" width="1322.2" height="12.60" fill="url(#r15)"/><rect x="356.0" y="317.00" width="1322.2" height="12.60" fill="url(#r16)"/><rect x="356.0" y="329.00" width="1322.2" height="12.60" fill="url(#r17)"/><rect x="356.0" y="341.00" width="1322.2" height="12.60" fill="url(#r18)"/><rect x="356.0" y="353.00" width="1322.2" height="12.60" fill="url(#r19)"/><rect x="356.0" y="365.00" width="1322.2" height="12.60" fill="url(#r20)"/><rect x="356.0" y="377.00" width="1322.2" height="12.60" fill="url(#r21)"/><rect x="356.0" y="389.00" width="1322.2" height="12.60" fill="url(#r22)"/><rect x="356.0" y="401.00" width="1322.2" height="12.60" fill="url(#r23)"/><rect x="356.0" y="413.00" width="1322.2" height="12.60" fill="url(#r24)"/><rect x="356.0" y="425.00" width="1322.2" height="12.60" fill="url(#r25)"/><rect x="356.0" y="437.00" width="1322.2" height="12.60" fill="url(#r26)"/><rect x="356.0" y="449.00" width="1322.2" height="12.60" fill="url(#r27)"/><rect x="356.0" y="461.00" width="1322.2" height="12.60" fill="url(#r28)"/><rect x="356.0" y="473.00" width="1322.2" height="12.60" fill="url(#r29)"/><rect x="356.0" y="485.00" width="1322.2" height="12.60" fill="url(#r30)"/><rect x="356.0" y="497.00" width="1322.2" height="12.60" fill="url(#r31)"/><rect x="356.0" y="509.00" width="1322.2" height="12.60" fill="url(#r32)"/><rect x="356.0" y="521.00" width="1322.2" height="12.60" fill="url(#r33)"/><rect x="356.0" y="533.00" width="1322.2" height="12.60" fill="url(#r34)"/><rect x="356.0" y="545.00" width="1322.2" height="12.60" fill="url(#r35)"/><rect x="356.0" y="557.00" width="1322.2" height="12.60" fill="url(#r36)"/><rect x="356.0" y="569.00" width="1322.2" height="12.60" fill="url(#r37)"/><rect x="356.0" y="581.00" width="1322.2" height="12.60" fill="url(#r38)"/><rect x="356.0" y="593.00" width="1322.2" height="12.60" fill="url(#r39)"/><rect x="356.0" y="605.00" width="1322.2" height="12.60" fill="url(#r40)"/><rect x="356.0" y="617.00" width="1322.2" height="12.60" fill="url(#r41)"/><rect x="356.0" y="629.00" width="1322.2" height="12.60" fill="url(#r42)"/><rect x="356.0" y="641.00" width="1322.2" height="12.60" fill="url(#r43)"/><rect x="356.0" y="653.00" width="1322.2" height="12.60" fill="url(#r44)"/><rect x="356.0" y="665.00" width="1322.2" height="12.60" fill="url(#r45)"/><rect x="356.0" y="677.00" width="1322.2" height="12.60" fill="url(#r46)"/><rect x="356.0" y="689.00" width="1322.2" height="12.60" fill="url(#r47)"/><rect x="356.0" y="701.00" width="1322.2" height="12.60" fill="url(#r48)"/><rect x="356.0" y="713.00" width="1322.2" height="12.60" fill="url(#r49)"/><rect x="356.0" y="725.00" width="1322.2" height="12.60" fill="url(#r50)"/><rect x="356.0" y="737.00" width="1322.2" height="12.60" fill="url(#r51)"/><rect x="356.0" y="749.00" width="1322.2" height="12.60" fill="url(#r52)"/><rect x="356.0" y="761.00" width="1322.2" height="12.60" fill="url(#r53)"/><rect x="356.0" y="773.00" width="1322.2" height="12.60" fill="url(#r54)"/><rect x="356.0" y="785.00" width="1322.2" height="12.60" fill="url(#r55)"/><rect x="356.0" y="797.00" width="1322.2" height="12.60" fill="url(#r56)"/><rect x="356.0" y="809.00" width="1322.2" height="12.60" fill="url(#r57)"/><rect x="356.0" y="821.00" width="1322.2" height="12.60" fill="url(#r58)"/><rect x="356.0" y="833.00" width="1322.2" height="12.60" fill="url(#r59)"/><rect x="356.0" y="845.00" width="1322.2" height="12.60" fill="url(#r60)"/><rect x="356.0" y="857.00" width="1322.2" height="12.60" fill="url(#r61)"/><rect x="356.0" y="869.00" width="1322.2" height="12.60" fill="url(#r62)"/><rect x="356.0" y="881.00" width="1322.2" height="12.60" fill="url(#r63)"/><rect x="356.0" y="893.00" width="1322.2" height="12.60" fill="url(#r64)"/><rect x="356.0" y="905.00" width="1322.2" height="12.60" fill="url(#r65)"/><rect x="356.0" y="917.00" width="1322.2" height="12.60" fill="url(#r66)"/><rect x="356.0" y="929.00" width="1322.2" height="12.60" fill="url(#r67)"/><rect x="356.0" y="941.00" width="1322.2" height="12.60" fill="url(#r68)"/><rect x="356.0" y="953.00" width="1322.2" height="12.60" fill="url(#r69)"/><rect x="356.0" y="965.00" width="1322.2" height="12.60" fill="url(#r70)"/><rect x="356.0" y="977.00" width="1322.2" height="9.94" fill="url(#r71)"/><rect x="356.0" y="986.34" width="1322.2" height="7.30" fill="url(#r72)"/><rect x="356.0" y="993.04" width="1322.2" height="7.58" fill="url(#r73)"/><rect x="356.0" y="1000.02" width="1322.2" height="10.50" fill="url(#r74)"/><rect x="356.0" y="1009.92" width="1322.2" height="10.84" fill="url(#r75)"/><rect x="356.0" y="1020.16" width="1322.2" height="11.16" fill="url(#r76)"/><rect x="356.0" y="1030.72" width="1322.2" height="11.86" fill="url(#r77)"/><rect x="356.0" y="1041.98" width="1322.2" height="11.97" fill="url(#r78)"/><rect x="356.0" y="1053.36" width="1322.2" height="8.69" fill="url(#r79)"/><rect x="356.0" y="1061.45" width="1322.2" height="6.83" fill="url(#r80)"/><rect x="356.0" y="1067.68" width="1322.2" height="5.61" fill="url(#r81)"/><rect x="356.0" y="1072.69" width="1322.2" height="5.20" fill="url(#r82)"/><rect x="356.0" y="1077.29" width="1322.2" height="5.00" fill="url(#r83)"/><rect x="356.0" y="1081.69" width="1322.2" height="4.92" fill="url(#r84)"/><rect x="356.0" y="1086.02" width="1322.2" height="4.93" fill="url(#r85)"/><rect x="356.0" y="1090.35" width="1322.2" height="5.02" fill="url(#r86)"/><rect x="356.0" y="1094.76" width="1322.2" height="5.17" fill="url(#r87)"/><rect x="356.0" y="1099.34" width="1322.2" height="5.40" fill="url(#r88)"/><rect x="356.0" y="1104.13" width="1322.2" height="5.69" fill="url(#r89)"/><rect x="356.0" y="1109.22" width="1322.2" height="6.07" fill="url(#r90)"/><rect x="356.0" y="1114.69" width="1322.2" height="6.53" fill="url(#r91)"/><rect x="356.0" y="1120.62" width="1322.2" height="6.93" fill="url(#r92)"/><rect x="356.0" y="1126.95" width="1322.2" height="5.84" fill="url(#r93)"/><rect x="356.0" y="1132.20" width="1322.2" height="5.47" fill="url(#r94)"/><rect x="356.0" y="1137.07" width="1322.2" height="5.25" fill="url(#r95)"/><rect x="356.0" y="1141.72" width="1322.2" height="5.00" fill="url(#r96)"/><rect x="356.0" y="1146.12" width="1322.2" height="4.78" fill="url(#r97)"/><rect x="356.0" y="1150.31" width="1322.2" height="4.59" fill="url(#r98)"/><rect x="356.0" y="1154.29" width="1322.2" height="4.42" fill="url(#r99)"/><rect x="356.0" y="1158.12" width="1322.2" height="4.30" fill="url(#r100)"/><rect x="356.0" y="1161.82" width="1322.2" height="4.24" fill="url(#r101)"/><rect x="356.0" y="1165.46" width="1322.2" height="4.16" fill="url(#r102)"/><rect x="356.0" y="1169.03" width="1322.2" height="4.04" fill="url(#r103)"/><rect x="356.0" y="1172.47" width="1322.2" height="3.92" fill="url(#r104)"/><rect x="356.0" y="1175.78" width="1322.2" height="3.65" fill="url(#r105)"/><rect x="356.0" y="1178.83" width="1322.2" height="3.39" fill="url(#r106)"/><rect x="356.0" y="1181.62" width="1322.2" height="3.25" fill="url(#r107)"/><rect x="356.0" y="1184.27" width="1322.2" height="3.16" fill="url(#r108)"/><rect x="356.0" y="1186.83" width="1322.2" height="3.10" fill="url(#r109)"/><rect x="356.0" y="1189.33" width="1322.2" height="3.10" fill="url(#r110)"/><rect x="356.0" y="1191.83" width="1322.2" height="3.10" fill="url(#r111)"/><rect x="356.0" y="1194.33" width="1322.2" height="3.11" fill="url(#r112)"/><rect x="356.0" y="1196.84" width="1322.2" height="3.25" fill="url(#r113)"/><rect x="356.0" y="1199.48" width="1322.2" height="3.33" fill="url(#r114)"/><rect x="356.0" y="1202.21" width="1322.2" height="5.19" fill="url(#r115)"/></g>
<rect x="355" y="125" width="1" height="1082.8" fill="#000"/>
<rect x="355" y="1206.8" width="1323.2" height="1" fill="#000"/>
<rect x="1678.2" y="125" width="0.9" height="1082" fill="#d4d4d4"/>
<polyline clip-path="url(#pc)" points="356.0,768.5 378.0,824.1 400.1,868.5 422.1,903.0 444.1,929.2 466.2,948.7 488.2,963.2 510.3,984.3 532.3,1001.5 554.3,1015.5 576.4,1026.3 598.4,1033.7 620.4,1037.6 642.5,1037.7 664.5,1033.4 686.5,1024.0 708.6,1008.8 730.6,987.4 752.7,960.5 774.7,929.3 796.7,894.5 818.8,857.1 840.8,818.0 862.8,778.4 884.9,739.5 906.9,703.6 929.0,673.1 951.0,650.7 973.0,638.0 995.1,637.0 1017.1,651.4 1039.1,674.2 1061.2,703.2 1083.2,736.6 1105.2,772.9 1127.3,810.3 1149.3,847.1 1171.4,882.0 1193.4,913.9 1215.4,942.0 1237.5,965.2 1259.5,983.0 1281.5,995.6 1303.6,1003.0 1325.6,1005.3 1347.7,1002.9 1369.7,996.6 1391.7,987.0 1413.8,974.9 1435.8,961.0 1457.8,946.1 1479.9,930.6 1501.9,914.9 1523.9,898.8 1546.0,882.4 1568.0,865.7 1590.1,848.7 1612.1,831.4 1634.1,813.9 1656.2,796.1 1678.2,776.5" fill="none" stroke="#ff0000" stroke-width="14.7" stroke-linejoin="round"/>
<rect x="1796.45" y="125.35" width="118.45" height="1080.45" fill="url(#cb)" stroke="#000" stroke-width="4.4"/>
<rect x="1798.7" y="964.35" width="34.3" height="1.5" fill="#888"/>
<rect x="1878.5" y="964.35" width="34.3" height="1.5" fill="#888"/>
<rect x="1798.7" y="662.10" width="34.3" height="1.5" fill="#888"/>
<rect x="1878.5" y="662.10" width="34.3" height="1.5" fill="#888"/>
<rect x="1798.7" y="359.85" width="34.3" height="1.5" fill="#888"/>
<rect x="1878.5" y="359.85" width="34.3" height="1.5" fill="#888"/>
<g font-family="'Liberation Serif', 'DejaVu Serif', serif" fill="#000" font-size="86">
<text x="356.9" y="1292.3" text-anchor="middle">2</text>
<text x="796.2" y="1292.3" text-anchor="middle">4</text>
<text x="1237.2" y="1292.3" text-anchor="middle">6</text>
<text x="1676.5" y="1292.3" text-anchor="middle">8</text>
<text x="327.5" y="225.9" text-anchor="end">1.5</text>
<text x="327.5" y="586.4" text-anchor="end">1</text>
<text x="327.5" y="946.0" text-anchor="end">0.5</text>
<text x="1943" y="993.4">1</text>
<text x="1943" y="691.2">2</text>
<text x="1943" y="388.9">3</text>
<text x="358.5" y="105.5">·</text>
<text x="382" y="98">10<tspan font-size="66" dy="-30">6</tspan></text>
</g>
<g font-family="'Liberation Serif', 'DejaVu Serif', serif" fill="#262626">
<text font-size="89" transform="translate(0,1420.8)"><tspan x="729.20" textLength="202.73" lengthAdjust="spacingAndGlyphs">Wave</tspan> <tspan x="952.13" textLength="240.79" lengthAdjust="spacingAndGlyphs">Period</tspan> <tspan x="1216.50" textLength="89.15" lengthAdjust="spacingAndGlyphs">[s]</tspan></text>
<text font-size="89" transform="translate(86.5,1024.7) rotate(-90)"><tspan x="-3.06" textLength="60.50" lengthAdjust="spacingAndGlyphs">C</tspan><tspan x="57.19" dy="16.20" font-size="66" textLength="124.49" lengthAdjust="spacingAndGlyphs">PTO</tspan> <tspan x="208.84" dy="-16.20" textLength="23.99" lengthAdjust="spacingAndGlyphs">[</tspan><tspan x="231.51" textLength="146.13" lengthAdjust="spacingAndGlyphs">Nm</tspan><tspan x="383.80" textLength="35.71" lengthAdjust="spacingAndGlyphs">/</tspan><tspan x="427.30" textLength="152.83" lengthAdjust="spacingAndGlyphs">(rad</tspan><tspan x="587.10" textLength="34.22" lengthAdjust="spacingAndGlyphs">/</tspan><tspan x="629.44" textLength="89.54" lengthAdjust="spacingAndGlyphs">s)]</tspan></text>
<text font-size="89" transform="translate(1524.3,1048.5) rotate(-90)"><tspan x="0.00" textLength="304.79" lengthAdjust="spacingAndGlyphs">Average</tspan> <tspan x="323.73" textLength="235.23" lengthAdjust="spacingAndGlyphs">Power</tspan> <tspan x="582.67" textLength="182.51" lengthAdjust="spacingAndGlyphs">[kW]</tspan></text>
</g>
</svg>
</body></html>
